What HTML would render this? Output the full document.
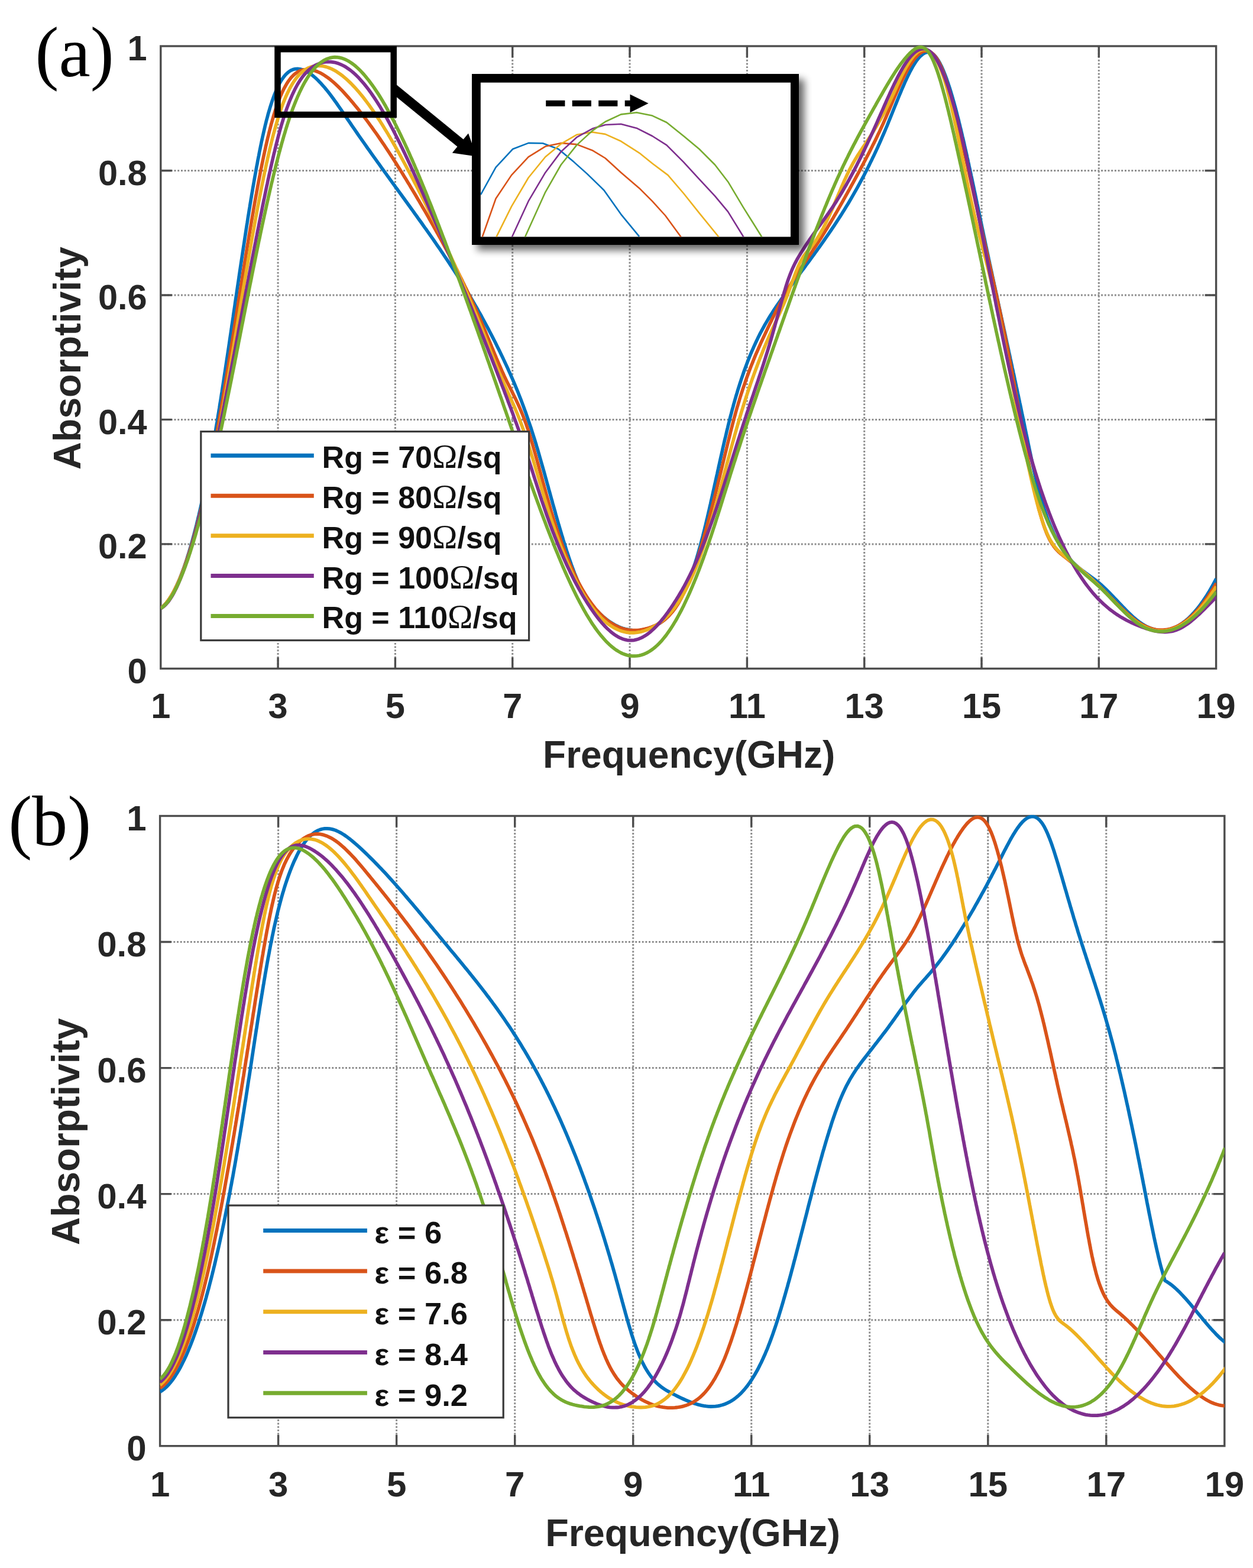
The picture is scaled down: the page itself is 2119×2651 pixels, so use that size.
<!DOCTYPE html>
<html lang="en"><head><meta charset="utf-8"><title>Absorptivity versus frequency</title>
<style>html,body{margin:0;padding:0;background:#fff}body{width:2119px;height:2651px;overflow:hidden}svg{display:block}text{white-space:pre}</style>
</head><body>
<svg xmlns="http://www.w3.org/2000/svg" width="2119" height="2651" viewBox="0 0 2119 2651">
<defs><filter id="sh" x="-10%" y="-10%" width="125%" height="130%"><feGaussianBlur in="SourceAlpha" stdDeviation="6.5"/><feOffset dx="9" dy="9"/><feComponentTransfer><feFuncA type="linear" slope="0.6"/></feComponentTransfer><feMerge><feMergeNode/><feMergeNode in="SourceGraphic"/></feMerge></filter></defs>
<rect width="2119" height="2651" fill="#fff"/>
<g id="panel-a">
<path d="M470.1,78.0V1130.4M668.4,78.0V1130.4M866.7,78.0V1130.4M1065.0,78.0V1130.4M1263.4,78.0V1130.4M1461.7,78.0V1130.4M1660.0,78.0V1130.4M1858.3,78.0V1130.4M271.8,919.9H2056.6M271.8,709.4H2056.6M271.8,499.0H2056.6M271.8,288.5H2056.6" fill="none" stroke="#8c8c8c" stroke-width="3" stroke-dasharray="2.9 2.8"/>
<path d="M470.1,1130.4v-19M470.1,78.0v19M668.4,1130.4v-19M668.4,78.0v19M866.7,1130.4v-19M866.7,78.0v19M1065.0,1130.4v-19M1065.0,78.0v19M1263.4,1130.4v-19M1263.4,78.0v19M1461.7,1130.4v-19M1461.7,78.0v19M1660.0,1130.4v-19M1660.0,78.0v19M1858.3,1130.4v-19M1858.3,78.0v19M271.8,919.9h19M2056.6,919.9h-19M271.8,709.4h19M2056.6,709.4h-19M271.8,499.0h19M2056.6,499.0h-19M271.8,288.5h19M2056.6,288.5h-19" fill="none" stroke="#4d4d4d" stroke-width="3.4"/>
<rect x="271.8" y="78.0" width="1784.8" height="1052.4" fill="none" stroke="#4d4d4d" stroke-width="3.4"/>
<clipPath id="clip-a"><rect x="271.8" y="76.0" width="1784.8" height="1056.4"/></clipPath>
<g clip-path="url(#clip-a)" fill="none" stroke-width="5.7" stroke-linejoin="round" stroke-linecap="butt">
<path d="M271.8,1028.5l3.1,-2.5 2.9,-2.7 2.7,-3 2.6,-3.1 2.3,-3.2 2.2,-3.4 2.2,-3.4 2,-3.4 1.9,-3.5 1.8,-3.6 1.8,-3.6 1.7,-3.6 1.7,-3.7 1.6,-3.6 1.5,-3.7 1.5,-3.8 1.5,-3.7 1.4,-3.7 1.4,-3.8 1.4,-3.8 1.3,-3.7 1.3,-3.8 1.3,-3.8 1.2,-3.8 1.2,-3.9 1.2,-3.8 1.2,-3.8 1.1,-3.9 1.2,-3.8 1.1,-3.8 1.1,-3.9 1.1,-3.9 1,-3.8 1.1,-3.9 1,-3.9 1,-3.8 1,-3.9 1,-3.9 1,-3.9 0.9,-3.9 1,-3.9 0.9,-3.9 1,-3.9 0.9,-3.9 0.9,-3.9 0.9,-3.9 0.9,-3.9 0.8,-3.9 0.9,-3.9 0.9,-3.9 0.8,-3.9 0.9,-3.9 0.8,-4 0.8,-3.9 0.8,-3.9 0.9,-3.9 0.8,-4 0.8,-3.9 0.8,-3.9 0.7,-3.9 0.8,-4 0.8,-3.9 0.7,-3.9 0.8,-4 0.8,-3.9 0.7,-3.9 0.7,-4 0.8,-3.9 0.7,-4 0.7,-3.9 0.7,-3.9 0.8,-4 0.7,-3.9 0.7,-4 0.7,-3.9 0.7,-4 0.6,-3.9 0.7,-4 0.7,-3.9 0.7,-4 0.6,-3.9 0.7,-4 0.7,-3.9 0.6,-4 0.7,-3.9 0.6,-4 0.7,-3.9 0.6,-4 0.7,-3.9 0.6,-4 0.6,-3.9 0.7,-4 0.6,-4 0.6,-3.9 0.6,-4 0.7,-3.9 0.6,-4 0.6,-4 0.6,-3.9 0.6,-4 0.6,-3.9 0.6,-4 0.6,-4 0.6,-3.9 0.6,-4 0.6,-3.9 0.6,-4 0.6,-4 0.6,-3.9 0.6,-4 0.6,-3.9 0.6,-4 0.6,-4 0.6,-3.9 0.6,-4 0.6,-4 0.6,-3.9 0.5,-4 0.6,-4 0.6,-3.9 0.6,-4 0.6,-3.9 0.6,-4 0.5,-4 0.6,-3.9 0.6,-4 0.6,-4 0.6,-3.9 0.5,-4 0.6,-4 0.6,-3.9 0.6,-4 0.6,-4 0.5,-3.9 0.6,-4 0.6,-3.9 0.6,-4 0.6,-4 0.5,-3.9 0.6,-4 0.6,-4 0.6,-3.9 0.6,-4 0.6,-4 0.6,-3.9 0.5,-4 0.6,-4 0.6,-3.9 0.6,-4 0.6,-3.9 0.6,-4 0.6,-4 0.6,-3.9 0.6,-4 0.6,-4 0.6,-3.9 0.6,-4 0.6,-3.9 0.6,-4 0.6,-4 0.6,-3.9 0.6,-4 0.6,-3.9 0.6,-4 0.6,-4 0.6,-3.9 0.6,-4 0.7,-3.9 0.6,-4 0.6,-4 0.6,-3.9 0.7,-4 0.6,-3.9 0.6,-4 0.7,-3.9 0.6,-4 0.7,-3.9 0.6,-4 0.7,-4 0.6,-3.9 0.7,-4 0.7,-3.9 0.6,-4 0.7,-3.9 0.7,-4 0.7,-3.9 0.7,-3.9 0.7,-4 0.7,-3.9 0.7,-4 0.7,-3.9 0.7,-4 0.8,-3.9 0.7,-3.9 0.7,-4 0.8,-3.9 0.8,-3.9 0.7,-4 0.8,-3.9 0.8,-3.9 0.8,-4 0.8,-3.9 0.8,-3.9 0.9,-3.9 0.8,-3.9 0.9,-4 0.9,-3.9 0.9,-3.9 0.9,-3.9 0.9,-3.9 1,-3.9 0.9,-3.8 1.1,-3.9 1,-3.9 1,-3.9 1.1,-3.8 1.2,-3.9 1.1,-3.8 1.2,-3.8 1.3,-3.8 1.2,-3.8 1.4,-3.8 1.4,-3.8 1.4,-3.7 1.6,-3.7 1.6,-3.7 1.6,-3.6 1.8,-3.6 1.9,-3.5 2,-3.5 2.2,-3.3 2.4,-3.3 2.5,-3.1 2.8,-2.8 3.1,-2.6 3.4,-2.2 3.6,-1.6 3.9,-1 4,-0.2 4,0.4 3.9,1 3.7,1.4 3.6,1.7 3.5,2 3.3,2.2 3.2,2.4 3.1,2.6 3,2.6 2.9,2.8 2.8,2.9 2.8,2.9 2.6,3 2.7,3 2.5,3.1 2.6,3.1 2.4,3.1 2.5,3.2 2.4,3.2 2.4,3.2 2.3,3.3 2.4,3.2 2.3,3.3 2.3,3.3 2.3,3.3 2.3,3.2 2.2,3.4 2.3,3.3 2.2,3.3 2.3,3.3 2.2,3.3 2.3,3.3 2.3,3.3 2.2,3.3 2.3,3.3 2.3,3.3 2.2,3.3 2.3,3.3 2.3,3.3 2.3,3.3 2.3,3.3 2.3,3.3 2.3,3.2 2.3,3.3 2.3,3.3 2.3,3.3 2.4,3.2 2.3,3.3 2.3,3.3 2.3,3.2 2.4,3.3 2.3,3.2 2.3,3.3 2.4,3.2 2.3,3.3 2.3,3.2 2.4,3.3 2.3,3.2 2.4,3.3 2.3,3.2 2.4,3.3 2.3,3.2 2.4,3.3 2.3,3.2 2.4,3.3 2.3,3.2 2.4,3.2 2.3,3.3 2.4,3.2 2.4,3.3 2.3,3.2 2.4,3.3 2.3,3.2 2.4,3.3 2.3,3.2 2.4,3.3 2.3,3.2 2.3,3.2 2.4,3.3 2.3,3.3 2.4,3.2 2.3,3.3 2.3,3.2 2.4,3.3 2.3,3.2 2.3,3.3 2.3,3.3 2.4,3.2 2.3,3.3 2.3,3.3 2.3,3.3 2.3,3.2 2.3,3.3 2.3,3.3 2.3,3.3 2.2,3.3 2.3,3.3 2.3,3.3 2.2,3.3 2.3,3.3 2.2,3.4 2.2,3.3 2.3,3.3 2.2,3.3 2.2,3.4 2.2,3.3 2.2,3.4 2.2,3.4 2.2,3.3 2.1,3.4 2.2,3.4 2.1,3.3 2.2,3.4 2.1,3.4 2.1,3.4 2.1,3.4 2.1,3.5 2.1,3.4 2.1,3.4 2,3.4 2.1,3.5 2,3.4 2.1,3.5 2,3.4 2,3.5 2,3.5 2,3.4 2,3.5 1.9,3.5 2,3.5 2,3.5 1.9,3.5 1.9,3.5 1.9,3.6 1.9,3.5 1.9,3.5 1.9,3.6 1.9,3.5 1.8,3.5 1.9,3.6 1.8,3.6 1.8,3.5 1.9,3.6 1.8,3.6 1.8,3.6 1.7,3.5 1.8,3.6 1.8,3.6 1.7,3.6 1.8,3.7 1.7,3.6 1.7,3.6 1.7,3.6 1.7,3.6 1.7,3.7 1.7,3.6 1.6,3.7 1.7,3.6 1.6,3.7 1.6,3.7 1.6,3.6 1.6,3.7 1.6,3.7 1.5,3.7 1.5,3.7 1.6,3.7 1.5,3.7 1.4,3.7 1.5,3.8 1.5,3.7 1.4,3.7 1.4,3.8 1.4,3.7 1.4,3.8 1.4,3.8 1.4,3.7 1.3,3.8 1.3,3.8 1.3,3.8 1.3,3.8 1.3,3.8 1.3,3.8 1.3,3.8 1.2,3.8 1.2,3.8 1.2,3.8 1.2,3.8 1.2,3.8 1.2,3.9 1.2,3.8 1.1,3.9 1.2,3.8 1.1,3.8 1.1,3.9 1.1,3.8 1.1,3.9 1.1,3.8 1.1,3.9 1.1,3.8 1.1,3.9 1.1,3.9 1.1,3.8 1.1,3.9 1,3.8 1.1,3.9 1.1,3.9 1,3.8 1.1,3.9 1.1,3.8 1,3.9 1.1,3.9 1.1,3.8 1,3.9 1.1,3.9 1.1,3.8 1,3.9 1.1,3.8 1.1,3.9 1.1,3.9 1.1,3.8 1,3.9 1.1,3.8 1.1,3.9 1.1,3.8 1.1,3.9 1.2,3.8 1.1,3.9 1.1,3.8 1.2,3.9 1.1,3.8 1.2,3.8 1.1,3.9 1.2,3.8 1.2,3.8 1.2,3.8 1.2,3.9 1.2,3.8 1.3,3.8 1.2,3.8 1.3,3.8 1.3,3.8 1.3,3.8 1.3,3.8 1.4,3.7 1.4,3.8 1.4,3.7 1.4,3.8 1.5,3.7 1.5,3.7 1.5,3.7 1.6,3.7 1.7,3.6 1.7,3.7 1.8,3.6 1.8,3.5 1.9,3.5 2,3.5 2.1,3.4 2.2,3.4 2.3,3.3 2.4,3.2 2.4,3.2 2.6,3.1 2.6,3 2.7,2.9 2.8,2.9 2.8,2.9 2.9,2.7 3,2.7 3.1,2.6 3.1,2.5 3.2,2.4 3.3,2.2 3.4,2.2 3.4,2 3.6,1.9 3.6,1.7 3.7,1.5 3.8,1.3 3.9,1.1 3.9,0.9 3.9,0.7 4,0.5 4,0.2 4,0 4,-0.3 4,-0.5 3.9,-0.7 3.9,-0.9 3.9,-1.1 3.7,-1.3 3.8,-1.5 3.6,-1.7 3.6,-1.8 3.4,-2.1 3.3,-2.2 3.2,-2.4 3.1,-2.6 2.9,-2.7 2.9,-2.9 2.6,-2.9 2.6,-3.1 2.5,-3.2 2.4,-3.2 2.2,-3.3 2.2,-3.4 2.1,-3.4 2,-3.4 2,-3.5 1.8,-3.6 1.9,-3.6 1.7,-3.6 1.7,-3.6 1.6,-3.6 1.6,-3.7 1.6,-3.7 1.5,-3.7 1.5,-3.7 1.4,-3.8 1.4,-3.7 1.4,-3.8 1.3,-3.8 1.3,-3.8 1.2,-3.8 1.3,-3.8 1.2,-3.8 1.2,-3.8 1.2,-3.9 1.1,-3.8 1.1,-3.9 1.1,-3.8 1.1,-3.9 1.1,-3.8 1,-3.9 1,-3.9 1.1,-3.9 1,-3.8 0.9,-3.9 1,-3.9 1,-3.9 0.9,-3.9 1,-3.9 0.9,-3.9 0.9,-3.9 1,-3.9 0.9,-3.9 0.9,-3.9 0.9,-3.9 0.9,-3.9 0.9,-3.9 0.9,-3.9 0.8,-3.9 0.9,-3.9 0.9,-3.9 0.9,-3.9 0.8,-3.9 0.9,-4 0.9,-3.9 0.8,-3.9 0.9,-3.9 0.9,-3.9 0.8,-3.9 0.9,-3.9 0.9,-3.9 0.8,-4 0.9,-3.9 0.8,-3.9 0.9,-3.9 0.9,-3.9 0.8,-3.9 0.9,-3.9 0.9,-3.9 0.9,-3.9 0.9,-4 0.8,-3.9 0.9,-3.9 0.9,-3.9 0.9,-3.9 0.9,-3.9 1,-3.9 0.9,-3.9 0.9,-3.9 0.9,-3.9 1,-3.9 0.9,-3.9 1,-3.9 1,-3.8 0.9,-3.9 1,-3.9 1.1,-3.9 1,-3.9 1,-3.8 1.1,-3.9 1,-3.9 1.1,-3.8 1.1,-3.9 1.1,-3.8 1.1,-3.9 1.2,-3.8 1.1,-3.8 1.2,-3.9 1.2,-3.8 1.2,-3.8 1.3,-3.8 1.2,-3.8 1.3,-3.8 1.3,-3.8 1.3,-3.8 1.3,-3.8 1.4,-3.8 1.4,-3.7 1.4,-3.8 1.4,-3.7 1.5,-3.7 1.5,-3.8 1.5,-3.7 1.5,-3.7 1.6,-3.7 1.6,-3.6 1.6,-3.7 1.7,-3.6 1.7,-3.7 1.7,-3.6 1.7,-3.6 1.8,-3.6 1.8,-3.6 1.9,-3.5 1.9,-3.5 1.9,-3.6 1.9,-3.5 2,-3.4 2.1,-3.5 2,-3.4 2.1,-3.5 2.1,-3.4 2.2,-3.3 2.1,-3.4 2.2,-3.3 2.3,-3.4 2.2,-3.3 2.3,-3.3 2.3,-3.3 2.3,-3.3 2.3,-3.2 2.3,-3.3 2.3,-3.3 2.4,-3.2 2.3,-3.3 2.4,-3.2 2.3,-3.3 2.4,-3.2 2.3,-3.2 2.4,-3.3 2.4,-3.2 2.4,-3.2 2.3,-3.2 2.4,-3.3 2.4,-3.2 2.4,-3.2 2.3,-3.2 2.4,-3.3 2.4,-3.2 2.4,-3.2 2.3,-3.3 2.4,-3.2 2.4,-3.2 2.3,-3.3 2.4,-3.2 2.3,-3.3 2.4,-3.2 2.3,-3.3 2.3,-3.2 2.3,-3.3 2.3,-3.3 2.3,-3.3 2.3,-3.3 2.3,-3.3 2.2,-3.3 2.3,-3.3 2.2,-3.3 2.3,-3.3 2.2,-3.4 2.2,-3.3 2.2,-3.4 2.1,-3.3 2.2,-3.4 2.2,-3.4 2.1,-3.4 2.1,-3.4 2.1,-3.4 2.1,-3.4 2.1,-3.4 2.1,-3.5 2,-3.4 2,-3.5 2,-3.4 2,-3.5 2,-3.5 2,-3.5 2,-3.5 1.9,-3.5 1.9,-3.5 1.9,-3.5 1.9,-3.5 1.9,-3.6 1.9,-3.5 1.8,-3.6 1.9,-3.5 1.8,-3.6 1.8,-3.6 1.8,-3.6 1.7,-3.6 1.8,-3.6 1.7,-3.6 1.8,-3.6 1.7,-3.6 1.7,-3.6 1.7,-3.7 1.7,-3.6 1.6,-3.7 1.7,-3.6 1.6,-3.7 1.6,-3.6 1.6,-3.7 1.6,-3.7 1.6,-3.7 1.6,-3.7 1.5,-3.6 1.6,-3.7 1.5,-3.7 1.5,-3.8 1.5,-3.7 1.5,-3.7 1.5,-3.7 1.5,-3.7 1.5,-3.7 1.5,-3.8 1.5,-3.7 1.5,-3.7 1.5,-3.7 1.5,-3.7 1.5,-3.7 1.5,-3.7 1.6,-3.7 1.5,-3.7 1.6,-3.7 1.6,-3.7 1.6,-3.7 1.6,-3.6 1.7,-3.7 1.7,-3.6 1.7,-3.6 1.8,-3.6 1.8,-3.6 1.9,-3.5 1.9,-3.5 2.1,-3.5 2.1,-3.4 2.2,-3.3 2.4,-3.2 2.6,-3.1 2.8,-2.8 3.1,-2.6 3.4,-2.1 3.8,-1.2 4,0.1 3.8,1.3 3.3,2.2 2.8,2.8 2.5,3.2 2.3,3.3 2,3.4 1.9,3.5 1.8,3.6 1.7,3.7 1.6,3.6 1.5,3.7 1.5,3.8 1.4,3.7 1.4,3.8 1.3,3.8 1.3,3.8 1.2,3.8 1.3,3.8 1.2,3.8 1.1,3.8 1.2,3.9 1.1,3.8 1.1,3.9 1.1,3.8 1.1,3.9 1,3.9 1.1,3.8 1,3.9 1,3.9 1,3.9 1,3.8 1,3.9 0.9,3.9 1,3.9 0.9,3.9 1,3.9 0.9,3.9 0.9,3.9 0.9,3.9 1,3.9 0.9,3.9 0.9,3.9 0.8,3.9 0.9,3.9 0.9,3.9 0.9,3.9 0.9,3.9 0.8,4 0.9,3.9 0.8,3.9 0.9,3.9 0.8,3.9 0.9,3.9 0.8,3.9 0.9,4 0.8,3.9 0.9,3.9 0.8,3.9 0.8,3.9 0.9,4 0.8,3.9 0.8,3.9 0.8,3.9 0.9,3.9 0.8,4 0.8,3.9 0.8,3.9 0.8,3.9 0.9,3.9 0.8,4 0.8,3.9 0.8,3.9 0.8,3.9 0.9,4 0.8,3.9 0.8,3.9 0.8,3.9 0.8,3.9 0.9,4 0.8,3.9 0.8,3.9 0.8,3.9 0.9,4 0.8,3.9 0.8,3.9 0.8,3.9 0.9,3.9 0.8,4 0.8,3.9 0.9,3.9 0.8,3.9 0.8,3.9 0.9,3.9 0.8,4 0.9,3.9 0.8,3.9 0.9,3.9 0.8,3.9 0.8,3.9 0.9,4 0.8,3.9 0.9,3.9 0.8,3.9 0.9,3.9 0.8,3.9 0.9,4 0.8,3.9 0.9,3.9 0.8,3.9 0.9,3.9 0.8,3.9 0.9,4 0.8,3.9 0.9,3.9 0.8,3.9 0.9,3.9 0.8,3.9 0.9,3.9 0.8,4 0.9,3.9 0.9,3.9 0.8,3.9 0.9,3.9 0.8,3.9 0.9,3.9 0.8,4 0.9,3.9 0.8,3.9 0.9,3.9 0.8,3.9 0.9,3.9 0.8,4 0.9,3.9 0.8,3.9 0.8,3.9 0.9,3.9 0.8,3.9 0.9,4 0.8,3.9 0.9,3.9 0.8,3.9 0.9,3.9 0.8,3.9 0.8,4 0.9,3.9 0.8,3.9 0.8,3.9 0.9,3.9 0.8,4 0.8,3.9 0.9,3.9 0.8,3.9 0.8,3.9 0.8,4 0.9,3.9 0.8,3.9 0.8,3.9 0.8,3.9 0.8,4 0.9,3.9 0.8,3.9 0.8,3.9 0.8,4 0.8,3.9 0.8,3.9 0.8,3.9 0.8,4 0.8,3.9 0.9,3.9 0.8,3.9 0.8,4 0.8,3.9 0.8,3.9 0.8,3.9 0.8,3.9 0.9,4 0.8,3.9 0.8,3.9 0.9,3.9 0.8,3.9 0.9,3.9 0.9,4 0.8,3.9 0.9,3.9 0.9,3.9 0.9,3.9 0.9,3.9 0.9,3.9 1,3.9 1,3.9 0.9,3.9 1,3.8 1.1,3.9 1,3.9 1.1,3.8 1.1,3.9 1.1,3.8 1.2,3.9 1.2,3.8 1.2,3.8 1.3,3.8 1.3,3.8 1.3,3.8 1.3,3.7 1.4,3.8 1.5,3.7 1.5,3.8 1.5,3.7 1.6,3.7 1.6,3.6 1.6,3.7 1.7,3.6 1.8,3.6 1.8,3.5 1.9,3.6 2,3.5 2,3.4 2.1,3.4 2.2,3.4 2.3,3.3 2.4,3.2 2.4,3.2 2.5,3.1 2.7,3 2.7,3 2.8,2.9 2.9,2.7 2.9,2.7 3.1,2.6 3.1,2.5 3.2,2.5 3.2,2.4 3.2,2.4 3.3,2.3 3.2,2.3 3.3,2.4 3.2,2.3 3.2,2.5 3.1,2.4 3.1,2.6 3.1,2.6 2.9,2.7 2.9,2.8 2.9,2.7 2.9,2.9 2.8,2.8 2.8,2.9 2.7,2.9 2.8,2.9 2.8,2.9 2.7,2.9 2.8,2.9 2.7,2.9 2.8,2.9 2.8,2.9 2.8,2.9 2.8,2.8 2.9,2.8 2.9,2.7 2.9,2.8 3,2.6 3.1,2.6 3.2,2.5 3.2,2.4 3.3,2.2 3.4,2.1 3.5,2 3.6,1.7 3.7,1.5 3.8,1.3 3.9,1 3.9,0.8 4,0.4 4,0.1 4,-0.2 4,-0.5 3.9,-0.9 3.8,-1.1 3.8,-1.4 3.6,-1.6 3.6,-1.9 3.5,-2 3.3,-2.2 3.2,-2.4 3.2,-2.4 3,-2.7 3,-2.7 2.8,-2.8 2.8,-2.9 2.7,-2.9 2.6,-3.1 2.6,-3.1 2.5,-3.1 2.4,-3.2 2.3,-3.2 2.4,-3.3 2.2,-3.3 2.2,-3.3 2.2,-3.4 2.1,-3.4 2.1,-3.4 2,-3.5 2,-3.5 2,-3.5 1.9,-3.5 1.9,-3.5 1.9,-3.5" stroke="#0072BD"/>
<path d="M271.8,1028.6l3.1,-2.6 2.9,-2.8 2.7,-2.9 2.5,-3.2 2.3,-3.2 2.3,-3.3 2.1,-3.4 2,-3.5 2,-3.5 1.8,-3.5 1.8,-3.6 1.8,-3.6 1.7,-3.6 1.6,-3.7 1.6,-3.7 1.5,-3.7 1.5,-3.7 1.4,-3.7 1.5,-3.8 1.4,-3.7 1.3,-3.8 1.3,-3.8 1.3,-3.8 1.3,-3.8 1.3,-3.8 1.2,-3.8 1.2,-3.8 1.2,-3.8 1.2,-3.9 1.1,-3.8 1.2,-3.8 1.1,-3.9 1.1,-3.8 1.1,-3.9 1,-3.9 1.1,-3.8 1,-3.9 1.1,-3.9 1,-3.8 1,-3.9 1,-3.9 1,-3.9 0.9,-3.9 1,-3.9 0.9,-3.8 1,-3.9 0.9,-3.9 0.9,-3.9 0.9,-3.9 0.9,-3.9 0.9,-3.9 0.9,-4 0.9,-3.9 0.9,-3.9 0.8,-3.9 0.9,-3.9 0.8,-3.9 0.9,-3.9 0.8,-4 0.8,-3.9 0.8,-3.9 0.8,-3.9 0.8,-3.9 0.8,-4 0.8,-3.9 0.8,-3.9 0.8,-3.9 0.8,-4 0.8,-3.9 0.7,-3.9 0.8,-4 0.7,-3.9 0.8,-3.9 0.7,-4 0.8,-3.9 0.7,-4 0.7,-3.9 0.8,-3.9 0.7,-4 0.7,-3.9 0.7,-4 0.7,-3.9 0.7,-3.9 0.7,-4 0.7,-3.9 0.7,-4 0.7,-3.9 0.7,-4 0.7,-3.9 0.7,-4 0.6,-3.9 0.7,-4 0.7,-3.9 0.6,-4 0.7,-3.9 0.7,-4 0.6,-3.9 0.7,-4 0.6,-3.9 0.7,-4 0.6,-3.9 0.7,-4 0.6,-3.9 0.7,-4 0.6,-3.9 0.7,-4 0.6,-4 0.7,-3.9 0.6,-4 0.6,-3.9 0.7,-4 0.6,-3.9 0.6,-4 0.7,-3.9 0.6,-4 0.6,-3.9 0.7,-4 0.6,-4 0.6,-3.9 0.6,-4 0.7,-3.9 0.6,-4 0.6,-3.9 0.6,-4 0.7,-4 0.6,-3.9 0.6,-4 0.6,-3.9 0.7,-4 0.6,-3.9 0.6,-4 0.6,-4 0.7,-3.9 0.6,-4 0.6,-3.9 0.6,-4 0.7,-3.9 0.6,-4 0.6,-4 0.6,-3.9 0.7,-4 0.6,-3.9 0.6,-4 0.7,-3.9 0.6,-4 0.6,-4 0.6,-3.9 0.7,-4 0.6,-3.9 0.6,-4 0.7,-3.9 0.6,-4 0.7,-3.9 0.6,-4 0.6,-4 0.7,-3.9 0.6,-4 0.7,-3.9 0.6,-4 0.7,-3.9 0.6,-4 0.7,-3.9 0.6,-4 0.7,-3.9 0.7,-4 0.6,-3.9 0.7,-4 0.7,-3.9 0.6,-4 0.7,-3.9 0.7,-4 0.7,-3.9 0.7,-4 0.6,-3.9 0.7,-4 0.7,-3.9 0.7,-4 0.7,-3.9 0.7,-3.9 0.7,-4 0.8,-3.9 0.7,-4 0.7,-3.9 0.7,-3.9 0.8,-4 0.7,-3.9 0.8,-4 0.7,-3.9 0.8,-3.9 0.7,-4 0.8,-3.9 0.8,-3.9 0.8,-3.9 0.8,-4 0.8,-3.9 0.8,-3.9 0.8,-3.9 0.9,-3.9 0.8,-4 0.9,-3.9 0.8,-3.9 0.9,-3.9 0.9,-3.9 0.9,-3.9 0.9,-3.9 1,-3.9 0.9,-3.9 1,-3.9 1,-3.9 1,-3.8 1,-3.9 1.1,-3.9 1.1,-3.8 1.1,-3.9 1.1,-3.8 1.2,-3.8 1.2,-3.9 1.3,-3.8 1.3,-3.8 1.3,-3.7 1.4,-3.8 1.4,-3.7 1.5,-3.7 1.6,-3.7 1.6,-3.7 1.7,-3.6 1.8,-3.6 1.9,-3.5 2,-3.5 2.1,-3.4 2.3,-3.3 2.4,-3.2 2.6,-3 2.9,-2.9 3,-2.5 3.3,-2.3 3.6,-1.9 3.7,-1.4 3.9,-0.9 4,-0.3 4,0 4,0.5 3.9,0.9 3.8,1.1 3.8,1.5 3.6,1.6 3.5,1.9 3.5,2.1 3.3,2.2 3.3,2.3 3.2,2.4 3.1,2.6 3,2.6 3,2.7 2.9,2.7 2.9,2.8 2.8,2.8 2.8,2.9 2.7,2.9 2.7,3 2.7,3 2.7,3 2.6,3 2.6,3.1 2.6,3 2.5,3.1 2.6,3.1 2.5,3.1 2.5,3.2 2.4,3.1 2.5,3.2 2.5,3.1 2.4,3.2 2.4,3.2 2.4,3.2 2.4,3.3 2.3,3.2 2.4,3.2 2.3,3.3 2.3,3.2 2.4,3.3 2.3,3.3 2.2,3.3 2.3,3.3 2.3,3.3 2.2,3.3 2.3,3.3 2.2,3.4 2.2,3.3 2.2,3.3 2.2,3.4 2.2,3.3 2.2,3.4 2.2,3.4 2.1,3.3 2.2,3.4 2.1,3.4 2.1,3.4 2.2,3.4 2.1,3.4 2.1,3.4 2.1,3.4 2.1,3.4 2.1,3.4 2.1,3.4 2.1,3.5 2.1,3.4 2,3.4 2.1,3.5 2.1,3.4 2,3.4 2.1,3.5 2,3.4 2,3.5 2.1,3.4 2,3.5 2,3.4 2,3.5 2.1,3.5 2,3.4 2,3.5 2,3.5 2,3.4 1.9,3.5 2,3.5 2,3.5 2,3.5 1.9,3.5 2,3.5 1.9,3.5 2,3.5 1.9,3.5 2,3.5 1.9,3.5 1.9,3.5 1.9,3.5 1.9,3.6 1.9,3.5 1.9,3.5 1.8,3.6 1.9,3.5 1.9,3.6 1.8,3.5 1.9,3.6 1.8,3.5 1.8,3.6 1.8,3.6 1.9,3.5 1.8,3.6 1.7,3.6 1.8,3.6 1.8,3.6 1.8,3.6 1.7,3.6 1.8,3.6 1.7,3.6 1.8,3.6 1.7,3.6 1.7,3.6 1.7,3.7 1.7,3.6 1.7,3.6 1.7,3.7 1.6,3.6 1.7,3.6 1.7,3.7 1.6,3.6 1.6,3.7 1.7,3.7 1.6,3.6 1.6,3.7 1.6,3.7 1.6,3.6 1.6,3.7 1.6,3.7 1.5,3.7 1.6,3.7 1.5,3.7 1.6,3.7 1.5,3.7 1.6,3.7 1.5,3.7 1.5,3.7 1.5,3.7 1.6,3.7 1.5,3.7 1.5,3.7 1.6,3.7 1.5,3.7 1.6,3.7 1.6,3.6 1.6,3.7 1.6,3.7 1.6,3.7 1.6,3.6 1.7,3.7 1.6,3.6 1.7,3.6 1.8,3.7 1.7,3.6 1.8,3.5 1.8,3.6 1.8,3.6 1.8,3.6 1.8,3.6 1.8,3.6 1.7,3.5 1.8,3.6 1.7,3.7 1.7,3.6 1.7,3.6 1.6,3.7 1.6,3.7 1.6,3.7 1.5,3.7 1.5,3.7 1.4,3.7 1.4,3.8 1.4,3.7 1.3,3.8 1.3,3.8 1.3,3.8 1.2,3.8 1.2,3.8 1.2,3.9 1.2,3.8 1.1,3.8 1.2,3.9 1.1,3.8 1.1,3.9 1.1,3.8 1.1,3.9 1.1,3.8 1.1,3.9 1.1,3.8 1,3.9 1.1,3.9 1.1,3.8 1,3.9 1.1,3.9 1,3.8 1.1,3.9 1,3.9 1.1,3.8 1,3.9 1.1,3.8 1,3.9 1.1,3.9 1,3.8 1.1,3.9 1.1,3.9 1.1,3.8 1.1,3.9 1.1,3.8 1.1,3.9 1.1,3.8 1.1,3.9 1.1,3.8 1.2,3.8 1.2,3.9 1.2,3.8 1.1,3.8 1.3,3.8 1.2,3.9 1.2,3.8 1.3,3.8 1.2,3.8 1.3,3.8 1.3,3.8 1.4,3.7 1.3,3.8 1.3,3.8 1.4,3.7 1.4,3.8 1.4,3.7 1.5,3.8 1.4,3.7 1.5,3.7 1.5,3.7 1.6,3.8 1.5,3.6 1.6,3.7 1.6,3.7 1.6,3.6 1.7,3.7 1.7,3.6 1.7,3.6 1.8,3.6 1.8,3.6 1.8,3.6 1.9,3.5 1.9,3.5 2,3.5 2,3.5 2.1,3.4 2,3.4 2.2,3.4 2.2,3.4 2.3,3.3 2.3,3.2 2.4,3.3 2.4,3.1 2.5,3.2 2.6,3 2.7,3 2.7,2.9 2.8,2.9 2.9,2.7 3,2.7 3.1,2.6 3.2,2.4 3.3,2.3 3.3,2.1 3.5,2 3.6,1.8 3.7,1.7 3.7,1.4 3.8,1.2 3.9,0.9 3.9,0.8 4,0.5 4,0.2 4,0.1 4,-0.2 4,-0.5 4,-0.6 3.9,-0.8 3.9,-1 3.8,-1.2 3.8,-1.3 3.7,-1.4 3.7,-1.6 3.6,-1.8 3.4,-2 3.4,-2.2 3.2,-2.4 3.1,-2.5 3,-2.7 2.8,-2.8 2.7,-3 2.6,-3 2.5,-3.2 2.4,-3.2 2.2,-3.3 2.2,-3.4 2.1,-3.4 1.9,-3.5 2,-3.5 1.8,-3.6 1.8,-3.6 1.8,-3.6 1.7,-3.6 1.6,-3.6 1.6,-3.7 1.6,-3.7 1.5,-3.7 1.5,-3.7 1.5,-3.8 1.4,-3.7 1.4,-3.7 1.4,-3.8 1.3,-3.8 1.4,-3.8 1.3,-3.7 1.3,-3.8 1.2,-3.8 1.3,-3.8 1.2,-3.9 1.2,-3.8 1.2,-3.8 1.2,-3.8 1.1,-3.9 1.2,-3.8 1.1,-3.9 1.1,-3.8 1.1,-3.9 1.1,-3.8 1.1,-3.9 1.1,-3.8 1,-3.9 1.1,-3.9 1,-3.8 1.1,-3.9 1,-3.9 1,-3.8 1,-3.9 1,-3.9 1,-3.9 1,-3.8 1,-3.9 1,-3.9 1,-3.9 1,-3.9 1,-3.9 0.9,-3.8 1,-3.9 1,-3.9 0.9,-3.9 1,-3.9 0.9,-3.9 1,-3.9 1,-3.9 0.9,-3.9 1,-3.9 0.9,-3.8 1,-3.9 0.9,-3.9 0.9,-3.9 1,-3.9 0.9,-3.9 1,-3.9 0.9,-3.9 1,-3.9 0.9,-3.9 1,-3.9 0.9,-3.9 1,-3.9 0.9,-3.8 1,-3.9 1,-3.9 0.9,-3.9 1,-3.9 1,-3.9 1,-3.9 1,-3.8 1,-3.9 1.1,-3.9 1,-3.8 1.1,-3.9 1,-3.9 1.1,-3.8 1.1,-3.9 1.2,-3.8 1.1,-3.9 1.2,-3.8 1.1,-3.8 1.2,-3.8 1.2,-3.9 1.3,-3.8 1.2,-3.8 1.3,-3.8 1.3,-3.8 1.3,-3.8 1.3,-3.8 1.3,-3.7 1.4,-3.8 1.4,-3.8 1.4,-3.7 1.4,-3.8 1.4,-3.7 1.5,-3.7 1.5,-3.7 1.5,-3.8 1.5,-3.7 1.5,-3.7 1.6,-3.7 1.6,-3.6 1.6,-3.7 1.6,-3.7 1.6,-3.6 1.6,-3.7 1.7,-3.6 1.7,-3.7 1.7,-3.6 1.7,-3.6 1.7,-3.7 1.7,-3.6 1.7,-3.6 1.7,-3.6 1.7,-3.6 1.8,-3.6 1.7,-3.7 1.8,-3.6 1.8,-3.5 1.7,-3.6 1.8,-3.6 1.8,-3.6 1.8,-3.6 1.9,-3.5 1.8,-3.6 1.9,-3.5 1.9,-3.6 1.9,-3.5 1.9,-3.5 2,-3.5 2,-3.5 2,-3.4 2,-3.5 2.1,-3.4 2,-3.5 2.1,-3.4 2.2,-3.4 2.1,-3.3 2.2,-3.4 2.2,-3.4 2.2,-3.3 2.2,-3.4 2.2,-3.3 2.2,-3.3 2.3,-3.3 2.2,-3.4 2.3,-3.3 2.2,-3.3 2.3,-3.3 2.2,-3.3 2.2,-3.4 2.2,-3.3 2.2,-3.3 2.2,-3.4 2.2,-3.4 2.2,-3.3 2.1,-3.4 2.2,-3.4 2.1,-3.4 2.1,-3.4 2.1,-3.4 2.1,-3.4 2.1,-3.5 2,-3.4 2.1,-3.4 2,-3.5 2.1,-3.4 2,-3.5 2,-3.4 2,-3.5 2,-3.5 2,-3.4 2,-3.5 2,-3.5 2,-3.5 1.9,-3.5 2,-3.5 1.9,-3.5 2,-3.5 1.9,-3.5 2,-3.5 1.9,-3.5 1.9,-3.5 2,-3.5 1.9,-3.5 1.9,-3.5 1.9,-3.6 1.9,-3.5 1.9,-3.5 1.9,-3.5 1.9,-3.6 1.9,-3.5 1.9,-3.5 1.8,-3.6 1.9,-3.5 1.9,-3.6 1.8,-3.5 1.9,-3.6 1.8,-3.5 1.8,-3.6 1.8,-3.6 1.8,-3.6 1.8,-3.5 1.8,-3.6 1.8,-3.6 1.7,-3.6 1.7,-3.7 1.8,-3.6 1.7,-3.6 1.6,-3.6 1.7,-3.7 1.7,-3.6 1.6,-3.7 1.6,-3.6 1.7,-3.7 1.5,-3.7 1.6,-3.7 1.6,-3.6 1.6,-3.7 1.5,-3.7 1.6,-3.7 1.6,-3.7 1.5,-3.7 1.6,-3.7 1.6,-3.7 1.6,-3.6 1.6,-3.7 1.6,-3.7 1.6,-3.6 1.7,-3.7 1.7,-3.6 1.7,-3.6 1.7,-3.6 1.8,-3.6 1.8,-3.6 1.9,-3.6 1.9,-3.5 1.9,-3.5 2.1,-3.4 2.1,-3.4 2.2,-3.3 2.3,-3.3 2.5,-3.2 2.6,-3 2.9,-2.8 3.1,-2.5 3.4,-2.1 3.8,-1.4 4,-0.3 3.8,0.9 3.6,1.8 3.1,2.5 2.7,3 2.5,3.1 2.2,3.4 2,3.5 1.8,3.5 1.7,3.6 1.6,3.7 1.6,3.7 1.4,3.7 1.4,3.8 1.3,3.8 1.3,3.8 1.3,3.8 1.2,3.8 1.2,3.8 1.1,3.9 1.1,3.8 1.1,3.9 1.1,3.8 1.1,3.9 1,3.8 1.1,3.9 1,3.9 1,3.9 1,3.8 1,3.9 0.9,3.9 1,3.9 0.9,3.9 1,3.9 0.9,3.9 0.9,3.9 1,3.9 0.9,3.9 0.9,3.9 0.9,3.9 0.9,3.9 0.9,3.9 0.9,3.9 0.8,3.9 0.9,3.9 0.9,3.9 0.9,3.9 0.8,4 0.9,3.9 0.9,3.9 0.9,3.9 0.8,3.9 0.9,3.9 0.9,3.9 0.8,3.9 0.9,3.9 0.9,3.9 0.8,4 0.9,3.9 0.9,3.9 0.8,3.9 0.9,3.9 0.9,3.9 0.9,3.9 0.8,3.9 0.9,3.9 0.9,3.9 0.9,4 0.8,3.9 0.9,3.9 0.9,3.9 0.9,3.9 0.8,3.9 0.9,3.9 0.9,3.9 0.9,3.9 0.8,3.9 0.9,3.9 0.9,4 0.9,3.9 0.9,3.9 0.8,3.9 0.9,3.9 0.9,3.9 0.9,3.9 0.9,3.9 0.8,3.9 0.9,3.9 0.9,3.9 0.9,3.9 0.9,3.9 0.9,4 0.9,3.9 0.8,3.9 0.9,3.9 0.9,3.9 0.9,3.9 0.9,3.9 0.9,3.9 0.8,3.9 0.9,3.9 0.9,3.9 0.9,3.9 0.9,3.9 0.8,4 0.9,3.9 0.9,3.9 0.8,3.9 0.9,3.9 0.9,3.9 0.8,3.9 0.9,3.9 0.8,4 0.9,3.9 0.8,3.9 0.9,3.9 0.8,3.9 0.8,3.9 0.9,4 0.8,3.9 0.8,3.9 0.8,3.9 0.8,3.9 0.8,4 0.8,3.9 0.8,3.9 0.8,3.9 0.8,4 0.8,3.9 0.8,3.9 0.8,4 0.8,3.9 0.7,3.9 0.8,4 0.7,3.9 0.8,3.9 0.7,4 0.8,3.9 0.7,3.9 0.8,4 0.7,3.9 0.7,3.9 0.8,4 0.7,3.9 0.7,4 0.7,3.9 0.8,3.9 0.7,4 0.7,3.9 0.7,4 0.7,3.9 0.7,4 0.7,3.9 0.7,3.9 0.7,4 0.8,3.9 0.7,4 0.7,3.9 0.7,4 0.7,3.9 0.7,3.9 0.7,4 0.7,3.9 0.7,4 0.8,3.9 0.7,4 0.7,3.9 0.7,3.9 0.7,4 0.7,3.9 0.8,4 0.7,3.9 0.7,3.9 0.8,4 0.7,3.9 0.7,3.9 0.8,4 0.7,3.9 0.8,3.9 0.8,4 0.7,3.9 0.8,3.9 0.8,4 0.8,3.9 0.7,3.9 0.8,4 0.8,3.9 0.9,3.9 0.8,3.9 0.8,3.9 0.9,4 0.8,3.9 0.9,3.9 0.8,3.9 0.9,3.9 0.9,3.9 1,3.9 0.9,3.9 1,3.9 0.9,3.9 1,3.9 1,3.8 1.1,3.9 1.1,3.9 1.1,3.8 1.1,3.9 1.2,3.8 1.2,3.8 1.2,3.8 1.3,3.8 1.4,3.7 1.5,3.8 1.5,3.7 1.7,3.6 1.7,3.6 1.9,3.6 2,3.4 2.2,3.4 2.3,3.3 2.5,3.1 2.7,3 2.8,2.8 3,2.7 3.1,2.5 3.1,2.5 3.2,2.5 3.1,2.5 3.1,2.5 3.2,2.5 3.1,2.5 3.1,2.5 3.1,2.5 3.2,2.5 3.1,2.6 3,2.5 3.1,2.6 3.1,2.6 3,2.6 3,2.6 3.1,2.7 2.9,2.6 3,2.7 2.9,2.8 2.9,2.7 2.9,2.8 2.9,2.8 2.8,2.8 2.9,2.8 2.8,2.9 2.8,2.8 2.8,2.9 2.9,2.8 2.8,2.9 2.8,2.8 2.8,2.8 2.9,2.9 2.8,2.8 2.9,2.7 3,2.8 2.9,2.7 3,2.7 3,2.6 3.1,2.6 3.1,2.5 3.2,2.4 3.2,2.3 3.3,2.3 3.4,2.1 3.5,2 3.6,1.8 3.6,1.7 3.8,1.4 3.8,1.3 3.9,1 3.9,0.7 4,0.5 4,0.2 4,-0.1 4,-0.4 3.9,-0.6 3.9,-0.9 3.9,-1.2 3.7,-1.4 3.7,-1.6 3.6,-1.8 3.4,-2 3.4,-2.1 3.3,-2.3 3.2,-2.4 3.1,-2.5 3,-2.7 3,-2.7 2.8,-2.8 2.8,-2.9 2.7,-2.9 2.7,-3 2.6,-3.1 2.5,-3.1 2.5,-3.2 2.4,-3.2 2.3,-3.2 2.3,-3.3 2.3,-3.3 2.2,-3.3 2.2,-3.4 2.1,-3.4 2.1,-3.4 2,-3.4 2.1,-3.5" stroke="#D95319"/>
<path d="M271.8,1028.6l3.1,-2.6 2.9,-2.7 2.7,-3 2.5,-3.1 2.3,-3.3 2.3,-3.3 2.1,-3.4 2.1,-3.4 1.9,-3.5 1.9,-3.5 1.8,-3.6 1.8,-3.6 1.7,-3.6 1.6,-3.7 1.6,-3.7 1.6,-3.7 1.5,-3.7 1.5,-3.7 1.4,-3.7 1.4,-3.8 1.4,-3.7 1.4,-3.8 1.3,-3.8 1.3,-3.8 1.3,-3.8 1.2,-3.8 1.3,-3.8 1.2,-3.8 1.2,-3.8 1.2,-3.8 1.1,-3.9 1.2,-3.8 1.1,-3.9 1.1,-3.8 1.1,-3.9 1.1,-3.8 1.1,-3.9 1,-3.8 1.1,-3.9 1,-3.9 1,-3.8 1.1,-3.9 1,-3.9 0.9,-3.9 1,-3.9 1,-3.8 1,-3.9 0.9,-3.9 1,-3.9 0.9,-3.9 0.9,-3.9 0.9,-3.9 0.9,-3.9 0.9,-3.9 0.9,-3.9 0.9,-3.9 0.9,-3.9 0.9,-3.9 0.8,-3.9 0.9,-4 0.9,-3.9 0.8,-3.9 0.9,-3.9 0.8,-3.9 0.8,-3.9 0.8,-4 0.9,-3.9 0.8,-3.9 0.8,-3.9 0.8,-3.9 0.8,-4 0.8,-3.9 0.8,-3.9 0.7,-4 0.8,-3.9 0.8,-3.9 0.8,-3.9 0.7,-4 0.8,-3.9 0.7,-3.9 0.8,-4 0.7,-3.9 0.8,-3.9 0.7,-4 0.7,-3.9 0.8,-4 0.7,-3.9 0.7,-3.9 0.7,-4 0.8,-3.9 0.7,-4 0.7,-3.9 0.7,-3.9 0.7,-4 0.7,-3.9 0.7,-4 0.7,-3.9 0.7,-4 0.7,-3.9 0.7,-3.9 0.7,-4 0.7,-3.9 0.7,-4 0.7,-3.9 0.6,-4 0.7,-3.9 0.7,-4 0.7,-3.9 0.7,-4 0.6,-3.9 0.7,-4 0.7,-3.9 0.7,-4 0.6,-3.9 0.7,-4 0.7,-3.9 0.6,-4 0.7,-3.9 0.7,-4 0.6,-3.9 0.7,-4 0.7,-3.9 0.6,-4 0.7,-3.9 0.7,-4 0.6,-3.9 0.7,-4 0.7,-3.9 0.6,-4 0.7,-3.9 0.7,-4 0.6,-3.9 0.7,-4 0.7,-3.9 0.6,-3.9 0.7,-4 0.7,-3.9 0.6,-4 0.7,-3.9 0.7,-4 0.6,-3.9 0.7,-4 0.7,-3.9 0.6,-4 0.7,-3.9 0.7,-4 0.7,-3.9 0.6,-4 0.7,-3.9 0.7,-4 0.7,-3.9 0.6,-4 0.7,-3.9 0.7,-4 0.7,-3.9 0.7,-4 0.7,-3.9 0.7,-4 0.6,-3.9 0.7,-3.9 0.7,-4 0.7,-3.9 0.7,-4 0.7,-3.9 0.7,-4 0.8,-3.9 0.7,-3.9 0.7,-4 0.7,-3.9 0.7,-4 0.7,-3.9 0.8,-3.9 0.7,-4 0.7,-3.9 0.8,-4 0.7,-3.9 0.8,-3.9 0.7,-4 0.8,-3.9 0.7,-3.9 0.8,-4 0.8,-3.9 0.7,-3.9 0.8,-4 0.8,-3.9 0.8,-3.9 0.8,-3.9 0.8,-4 0.8,-3.9 0.8,-3.9 0.8,-3.9 0.9,-3.9 0.8,-4 0.8,-3.9 0.9,-3.9 0.9,-3.9 0.8,-3.9 0.9,-3.9 0.9,-3.9 0.9,-3.9 0.9,-3.9 1,-3.9 0.9,-3.9 1,-3.9 0.9,-3.9 1,-3.9 1,-3.8 1.1,-3.9 1,-3.9 1.1,-3.8 1.1,-3.9 1.1,-3.8 1.1,-3.9 1.2,-3.8 1.2,-3.8 1.2,-3.8 1.3,-3.8 1.3,-3.8 1.3,-3.8 1.4,-3.8 1.4,-3.7 1.5,-3.7 1.5,-3.7 1.6,-3.7 1.7,-3.7 1.7,-3.6 1.8,-3.6 1.8,-3.5 2,-3.5 2,-3.4 2.2,-3.4 2.3,-3.3 2.4,-3.2 2.6,-3.1 2.7,-2.9 2.9,-2.7 3.1,-2.6 3.3,-2.3 3.5,-2 3.6,-1.6 3.8,-1.3 3.9,-0.9 4,-0.5 4,-0.2 4,0.3 4,0.5 3.9,0.9 3.8,1.2 3.7,1.4 3.7,1.7 3.5,1.9 3.5,2 3.3,2.2 3.3,2.3 3.2,2.4 3.1,2.6 3,2.6 3,2.7 2.9,2.7 2.9,2.8 2.7,2.9 2.8,2.9 2.7,3 2.6,3 2.7,3 2.5,3.1 2.6,3.1 2.5,3.1 2.4,3.2 2.4,3.2 2.4,3.2 2.4,3.2 2.3,3.3 2.3,3.2 2.3,3.3 2.3,3.3 2.2,3.3 2.2,3.4 2.2,3.3 2.2,3.4 2.2,3.4 2.1,3.4 2.1,3.4 2.1,3.4 2.1,3.4 2.1,3.4 2,3.5 2.1,3.4 2,3.5 2,3.4 2,3.5 2,3.5 2,3.4 1.9,3.5 2,3.5 2,3.5 1.9,3.5 1.9,3.6 1.9,3.5 1.9,3.5 1.9,3.5 1.9,3.5 1.9,3.6 1.9,3.5 1.9,3.6 1.8,3.5 1.9,3.6 1.8,3.5 1.9,3.6 1.8,3.5 1.9,3.6 1.8,3.5 1.8,3.6 1.8,3.6 1.9,3.5 1.8,3.6 1.8,3.6 1.8,3.6 1.8,3.5 1.8,3.6 1.8,3.6 1.8,3.6 1.8,3.6 1.7,3.6 1.8,3.5 1.8,3.6 1.7,3.6 1.8,3.6 1.8,3.6 1.7,3.6 1.8,3.6 1.7,3.6 1.7,3.7 1.8,3.6 1.7,3.6 1.7,3.6 1.7,3.6 1.7,3.6 1.8,3.7 1.7,3.6 1.6,3.6 1.7,3.7 1.7,3.6 1.7,3.6 1.7,3.7 1.6,3.6 1.7,3.6 1.7,3.7 1.6,3.6 1.6,3.7 1.7,3.7 1.6,3.6 1.6,3.7 1.7,3.6 1.6,3.7 1.6,3.7 1.6,3.6 1.6,3.7 1.6,3.7 1.6,3.7 1.6,3.6 1.5,3.7 1.6,3.7 1.6,3.7 1.5,3.7 1.6,3.7 1.5,3.7 1.6,3.7 1.5,3.7 1.5,3.7 1.6,3.7 1.5,3.7 1.5,3.7 1.5,3.7 1.5,3.7 1.5,3.7 1.5,3.7 1.5,3.8 1.4,3.7 1.5,3.7 1.5,3.7 1.4,3.8 1.5,3.7 1.5,3.7 1.4,3.8 1.5,3.7 1.4,3.7 1.5,3.8 1.5,3.7 1.4,3.7 1.5,3.7 1.5,3.8 1.5,3.7 1.4,3.7 1.5,3.7 1.6,3.7 1.5,3.7 1.5,3.7 1.6,3.7 1.6,3.7 1.6,3.7 1.6,3.6 1.6,3.7 1.7,3.6 1.6,3.7 1.7,3.6 1.6,3.7 1.7,3.6 1.7,3.7 1.6,3.6 1.6,3.7 1.7,3.6 1.6,3.7 1.6,3.7 1.5,3.7 1.6,3.7 1.5,3.7 1.5,3.7 1.4,3.7 1.5,3.8 1.4,3.7 1.4,3.8 1.3,3.7 1.4,3.8 1.3,3.8 1.3,3.8 1.3,3.8 1.2,3.8 1.3,3.8 1.2,3.8 1.3,3.8 1.2,3.8 1.2,3.8 1.2,3.8 1.2,3.9 1.2,3.8 1.2,3.8 1.1,3.9 1.2,3.8 1.1,3.8 1.2,3.9 1.1,3.8 1.2,3.8 1.1,3.9 1.2,3.8 1.1,3.9 1.1,3.8 1.2,3.8 1.1,3.9 1.1,3.8 1.2,3.9 1.1,3.8 1.2,3.8 1.1,3.9 1.2,3.8 1.1,3.8 1.2,3.9 1.2,3.8 1.2,3.8 1.2,3.8 1.3,3.8 1.2,3.9 1.2,3.8 1.3,3.8 1.3,3.8 1.3,3.7 1.3,3.8 1.3,3.8 1.3,3.8 1.3,3.8 1.4,3.7 1.4,3.8 1.4,3.8 1.4,3.7 1.4,3.8 1.4,3.7 1.5,3.7 1.5,3.7 1.5,3.8 1.5,3.7 1.5,3.7 1.6,3.7 1.6,3.6 1.6,3.7 1.6,3.7 1.6,3.6 1.7,3.7 1.7,3.6 1.8,3.6 1.7,3.6 1.8,3.6 1.8,3.5 1.9,3.6 1.9,3.5 1.9,3.5 2,3.5 2,3.5 2,3.4 2.1,3.4 2.1,3.4 2.2,3.4 2.3,3.3 2.3,3.3 2.3,3.3 2.4,3.2 2.5,3.1 2.5,3.1 2.6,3.1 2.7,2.9 2.7,2.9 2.9,2.9 2.9,2.7 3,2.6 3.1,2.6 3.2,2.3 3.4,2.3 3.4,2.1 3.5,1.9 3.6,1.7 3.7,1.6 3.8,1.2 3.9,1.1 3.9,0.8 4,0.5 4,0.2 4,0 4,-0.3 3.9,-0.6 4,-0.7 3.8,-1.1 3.8,-1.2 3.8,-1.4 3.6,-1.6 3.6,-1.8 3.6,-1.9 3.4,-2 3.4,-2.2 3.2,-2.4 3.2,-2.4 3,-2.6 3,-2.7 2.9,-2.8 2.8,-2.9 2.7,-2.9 2.6,-3.1 2.5,-3.1 2.5,-3.1 2.3,-3.3 2.3,-3.2 2.3,-3.4 2.1,-3.3 2.1,-3.4 2.1,-3.5 2,-3.5 1.9,-3.5 1.9,-3.5 1.8,-3.6 1.8,-3.5 1.8,-3.6 1.7,-3.7 1.7,-3.6 1.6,-3.7 1.6,-3.6 1.6,-3.7 1.5,-3.7 1.5,-3.7 1.5,-3.7 1.4,-3.8 1.5,-3.7 1.4,-3.8 1.3,-3.7 1.4,-3.8 1.3,-3.8 1.3,-3.8 1.3,-3.8 1.2,-3.8 1.3,-3.8 1.2,-3.8 1.2,-3.8 1.2,-3.8 1.2,-3.9 1.2,-3.8 1.1,-3.8 1.1,-3.9 1.2,-3.8 1.1,-3.9 1.1,-3.8 1.1,-3.9 1.1,-3.8 1.1,-3.9 1.1,-3.8 1.1,-3.9 1,-3.8 1.1,-3.9 1.1,-3.9 1,-3.8 1.1,-3.9 1,-3.9 1.1,-3.8 1,-3.9 1.1,-3.9 1,-3.8 1,-3.9 1.1,-3.9 1,-3.8 1,-3.9 1.1,-3.9 1,-3.8 1,-3.9 1.1,-3.9 1,-3.9 1,-3.8 1.1,-3.9 1,-3.9 1.1,-3.8 1,-3.9 1,-3.9 1.1,-3.8 1,-3.9 1.1,-3.9 1,-3.8 1.1,-3.9 1.1,-3.8 1,-3.9 1.1,-3.9 1.1,-3.8 1.1,-3.9 1.1,-3.8 1.1,-3.9 1.1,-3.8 1.1,-3.9 1.2,-3.8 1.1,-3.8 1.2,-3.9 1.1,-3.8 1.2,-3.8 1.2,-3.9 1.2,-3.8 1.2,-3.8 1.2,-3.8 1.2,-3.8 1.3,-3.8 1.2,-3.9 1.3,-3.8 1.3,-3.7 1.3,-3.8 1.3,-3.8 1.3,-3.8 1.3,-3.8 1.4,-3.8 1.3,-3.7 1.4,-3.8 1.4,-3.8 1.4,-3.7 1.4,-3.8 1.4,-3.7 1.4,-3.7 1.5,-3.8 1.4,-3.7 1.5,-3.7 1.5,-3.7 1.5,-3.8 1.5,-3.7 1.6,-3.7 1.5,-3.7 1.6,-3.6 1.6,-3.7 1.5,-3.7 1.6,-3.7 1.7,-3.6 1.6,-3.7 1.6,-3.6 1.7,-3.7 1.7,-3.6 1.7,-3.7 1.6,-3.6 1.7,-3.6 1.7,-3.7 1.7,-3.6 1.7,-3.7 1.6,-3.6 1.6,-3.7 1.6,-3.6 1.6,-3.7 1.6,-3.7 1.5,-3.7 1.5,-3.7 1.4,-3.8 1.5,-3.7 1.3,-3.8 1.4,-3.7 1.4,-3.8 1.4,-3.8 1.3,-3.7 1.4,-3.8 1.4,-3.7 1.4,-3.8 1.4,-3.7 1.5,-3.8 1.5,-3.7 1.6,-3.6 1.7,-3.7 1.8,-3.5 1.9,-3.5 2.1,-3.5 2.3,-3.3 2.4,-3.2 2.5,-3.1 2.6,-3.1 2.6,-3 2.5,-3.1 2.4,-3.2 2.4,-3.2 2.3,-3.3 2.1,-3.4 2.2,-3.4 2,-3.4 2,-3.5 2,-3.5 1.9,-3.5 1.8,-3.6 1.8,-3.6 1.8,-3.5 1.7,-3.7 1.7,-3.6 1.7,-3.6 1.6,-3.7 1.6,-3.6 1.7,-3.7 1.5,-3.7 1.6,-3.7 1.6,-3.7 1.5,-3.7 1.6,-3.6 1.5,-3.7 1.6,-3.7 1.6,-3.7 1.5,-3.7 1.6,-3.7 1.6,-3.7 1.6,-3.6 1.6,-3.7 1.7,-3.6 1.7,-3.7 1.7,-3.6 1.7,-3.6 1.8,-3.6 1.9,-3.5 1.9,-3.6 1.9,-3.5 2,-3.4 2,-3.5 2.1,-3.4 2.1,-3.4 2.2,-3.4 2.2,-3.3 2.2,-3.4 2.2,-3.3 2.2,-3.3 2.3,-3.4 2.2,-3.3 2.2,-3.3 2.2,-3.4 2.2,-3.4 2.1,-3.3 2.1,-3.4 2.1,-3.5 2.1,-3.4 2,-3.4 2,-3.5 2,-3.5 2,-3.5 1.9,-3.5 2,-3.5 1.9,-3.5 1.8,-3.5 1.9,-3.6 1.8,-3.6 1.8,-3.5 1.8,-3.6 1.7,-3.6 1.7,-3.7 1.7,-3.6 1.7,-3.6 1.7,-3.7 1.6,-3.6 1.7,-3.7 1.6,-3.6 1.7,-3.7 1.6,-3.6 1.7,-3.6 1.7,-3.7 1.8,-3.6 1.8,-3.5 1.9,-3.6 1.9,-3.5 1.9,-3.5 2.1,-3.4 2.1,-3.4 2.2,-3.4 2.4,-3.2 2.4,-3.2 2.7,-2.9 2.9,-2.8 3.2,-2.5 3.5,-1.9 3.8,-1.2 4,-0.1 3.8,1.1 3.5,1.9 3,2.6 2.7,3 2.4,3.2 2.2,3.4 2,3.4 1.8,3.6 1.7,3.6 1.6,3.7 1.5,3.7 1.5,3.7 1.3,3.8 1.3,3.8 1.3,3.8 1.2,3.8 1.2,3.9 1.1,3.8 1.1,3.9 1,3.8 1,3.9 1,3.9 1,3.9 1,3.8 0.9,3.9 0.9,3.9 1,3.9 0.9,3.9 0.8,3.9 0.9,3.9 0.9,4 0.9,3.9 0.8,3.9 0.8,3.9 0.9,3.9 0.8,3.9 0.8,4 0.8,3.9 0.9,3.9 0.8,3.9 0.8,3.9 0.8,4 0.8,3.9 0.8,3.9 0.8,3.9 0.8,4 0.8,3.9 0.7,3.9 0.8,3.9 0.8,4 0.8,3.9 0.8,3.9 0.8,4 0.8,3.9 0.8,3.9 0.8,3.9 0.8,4 0.8,3.9 0.8,3.9 0.8,3.9 0.8,3.9 0.8,4 0.9,3.9 0.8,3.9 0.8,3.9 0.9,3.9 0.8,4 0.9,3.9 0.9,3.9 0.9,3.9 0.9,3.9 0.9,3.9 0.9,3.9 0.9,3.9 0.9,3.9 1,3.9 0.9,3.9 1,3.9 0.9,3.8 1,3.9 1,3.9 1,3.9 0.9,3.9 1,3.9 1,3.8 1,3.9 1,3.9 1,3.9 1.1,3.8 1,3.9 1,3.9 1,3.9 1,3.9 1,3.8 1,3.9 1,3.9 1,3.9 0.9,3.9 1,3.8 1,3.9 1,3.9 0.9,3.9 1,3.9 0.9,3.9 0.9,3.9 0.9,3.9 1,3.9 0.9,3.9 0.9,3.9 0.8,3.9 0.9,3.9 0.9,3.9 0.8,3.9 0.9,3.9 0.8,4 0.9,3.9 0.8,3.9 0.8,3.9 0.8,3.9 0.8,4 0.8,3.9 0.8,3.9 0.8,3.9 0.8,4 0.8,3.9 0.8,3.9 0.8,3.9 0.8,4 0.7,3.9 0.8,3.9 0.8,4 0.7,3.9 0.8,3.9 0.8,4 0.7,3.9 0.8,3.9 0.7,4 0.8,3.9 0.7,3.9 0.8,4 0.7,3.9 0.8,3.9 0.7,4 0.8,3.9 0.7,3.9 0.8,4 0.7,3.9 0.8,3.9 0.7,4 0.8,3.9 0.7,3.9 0.7,4 0.8,3.9 0.7,4 0.8,3.9 0.7,3.9 0.8,4 0.7,3.9 0.8,3.9 0.7,4 0.8,3.9 0.7,3.9 0.8,4 0.8,3.9 0.7,3.9 0.8,4 0.8,3.9 0.7,3.9 0.8,3.9 0.8,4 0.8,3.9 0.7,3.9 0.8,4 0.8,3.9 0.8,3.9 0.8,3.9 0.8,4 0.8,3.9 0.9,3.9 0.8,3.9 0.8,3.9 0.8,4 0.9,3.9 0.8,3.9 0.9,3.9 0.8,3.9 0.9,3.9 0.9,3.9 0.9,3.9 0.9,3.9 0.9,3.9 0.9,3.9 0.9,3.9 1,3.9 0.9,3.9 1,3.9 1,3.9 1,3.9 1,3.8 1.1,3.9 1,3.9 1.1,3.8 1.2,3.9 1.1,3.8 1.2,3.8 1.2,3.9 1.2,3.8 1.3,3.7 1.4,3.8 1.4,3.8 1.5,3.7 1.5,3.7 1.7,3.6 1.7,3.6 1.9,3.6 2,3.5 2.1,3.3 2.3,3.3 2.4,3.2 2.6,3 2.8,2.9 2.9,2.8 3,2.6 3.1,2.6 3.1,2.5 3.2,2.5 3.1,2.5 3.1,2.6 3.1,2.5 3.1,2.5 3.1,2.6 3.1,2.5 3,2.6 3.1,2.6 3,2.6 3.1,2.6 3,2.6 3,2.7 2.9,2.7 3,2.7 2.9,2.7 2.9,2.8 2.9,2.7 2.9,2.8 2.8,2.9 2.9,2.8 2.8,2.9 2.8,2.8 2.7,2.9 2.8,2.9 2.8,2.9 2.8,2.9 2.8,2.9 2.7,2.8 2.9,2.9 2.8,2.8 2.8,2.8 2.9,2.8 2.9,2.8 2.9,2.7 3,2.7 3,2.7 3.1,2.5 3.1,2.6 3.2,2.4 3.2,2.3 3.3,2.3 3.4,2.1 3.5,2 3.6,1.7 3.7,1.6 3.7,1.4 3.9,1.2 3.9,0.9 3.9,0.7 4,0.4 4,0.1 4,-0.2 4,-0.4 3.9,-0.8 3.9,-0.9 3.8,-1.2 3.8,-1.5 3.6,-1.6 3.6,-1.8 3.5,-2 3.4,-2.1 3.3,-2.3 3.2,-2.4 3.1,-2.5 3.1,-2.5 3,-2.7 2.9,-2.8 2.8,-2.8 2.8,-2.9 2.7,-3 2.6,-3 2.6,-3.1 2.5,-3.1 2.5,-3.1 2.4,-3.2 2.4,-3.2 2.3,-3.3 2.3,-3.3 2.2,-3.3 2.3,-3.3 2.1,-3.4 2.2,-3.4" stroke="#EDB120"/>
<path d="M271.8,1028.5l3.5,-2 3.1,-2.5 2.8,-2.8 2.7,-3 2.4,-3.2 2.2,-3.3 2.2,-3.4 2,-3.5 1.9,-3.5 1.8,-3.6 1.8,-3.5 1.7,-3.7 1.6,-3.6 1.6,-3.7 1.6,-3.7 1.5,-3.7 1.4,-3.7 1.5,-3.8 1.4,-3.7 1.3,-3.8 1.4,-3.8 1.3,-3.8 1.2,-3.8 1.3,-3.8 1.2,-3.8 1.3,-3.8 1.2,-3.8 1.1,-3.9 1.2,-3.8 1.2,-3.8 1.1,-3.9 1.1,-3.8 1.1,-3.9 1.1,-3.8 1.1,-3.9 1,-3.8 1.1,-3.9 1,-3.9 1.1,-3.8 1,-3.9 1,-3.9 1,-3.9 1,-3.9 1,-3.8 1,-3.9 1,-3.9 0.9,-3.9 1,-3.9 0.9,-3.9 1,-3.9 0.9,-3.9 0.9,-3.9 0.9,-3.9 1,-3.9 0.9,-3.9 0.9,-3.9 0.9,-3.9 0.9,-3.9 0.8,-3.9 0.9,-3.9 0.9,-3.9 0.9,-3.9 0.9,-3.9 0.8,-3.9 0.9,-3.9 0.8,-4 0.9,-3.9 0.8,-3.9 0.9,-3.9 0.8,-3.9 0.9,-3.9 0.8,-4 0.8,-3.9 0.8,-3.9 0.9,-3.9 0.8,-3.9 0.8,-4 0.8,-3.9 0.8,-3.9 0.8,-3.9 0.8,-4 0.8,-3.9 0.8,-3.9 0.8,-3.9 0.8,-4 0.8,-3.9 0.8,-3.9 0.8,-3.9 0.8,-4 0.8,-3.9 0.8,-3.9 0.7,-4 0.8,-3.9 0.8,-3.9 0.8,-3.9 0.7,-4 0.8,-3.9 0.8,-3.9 0.7,-4 0.8,-3.9 0.8,-3.9 0.7,-4 0.8,-3.9 0.8,-3.9 0.7,-4 0.8,-3.9 0.7,-3.9 0.8,-4 0.7,-3.9 0.8,-3.9 0.8,-4 0.7,-3.9 0.8,-3.9 0.7,-4 0.8,-3.9 0.7,-3.9 0.8,-4 0.7,-3.9 0.8,-4 0.7,-3.9 0.8,-3.9 0.7,-4 0.7,-3.9 0.8,-3.9 0.7,-4 0.8,-3.9 0.7,-3.9 0.8,-4 0.7,-3.9 0.8,-4 0.7,-3.9 0.8,-3.9 0.7,-4 0.7,-3.9 0.8,-3.9 0.7,-4 0.8,-3.9 0.7,-3.9 0.8,-4 0.7,-3.9 0.8,-3.9 0.7,-4 0.8,-3.9 0.7,-4 0.8,-3.9 0.7,-3.9 0.8,-4 0.7,-3.9 0.8,-3.9 0.7,-4 0.8,-3.9 0.7,-3.9 0.8,-4 0.7,-3.9 0.8,-3.9 0.8,-4 0.7,-3.9 0.8,-3.9 0.7,-4 0.8,-3.9 0.8,-3.9 0.7,-4 0.8,-3.9 0.8,-3.9 0.7,-4 0.8,-3.9 0.8,-3.9 0.8,-4 0.7,-3.9 0.8,-3.9 0.8,-3.9 0.8,-4 0.8,-3.9 0.8,-3.9 0.8,-4 0.7,-3.9 0.8,-3.9 0.8,-3.9 0.8,-4 0.9,-3.9 0.8,-3.9 0.8,-3.9 0.8,-4 0.8,-3.9 0.8,-3.9 0.9,-3.9 0.8,-3.9 0.8,-3.9 0.9,-4 0.8,-3.9 0.9,-3.9 0.9,-3.9 0.8,-3.9 0.9,-3.9 0.9,-3.9 0.9,-3.9 0.9,-3.9 0.9,-3.9 0.9,-3.9 1,-3.9 0.9,-3.9 0.9,-3.9 1,-3.9 1,-3.9 1,-3.9 1,-3.8 1,-3.9 1.1,-3.9 1,-3.9 1.1,-3.8 1.1,-3.9 1.1,-3.8 1.2,-3.8 1.2,-3.9 1.2,-3.8 1.2,-3.8 1.3,-3.8 1.3,-3.8 1.3,-3.8 1.4,-3.7 1.4,-3.8 1.4,-3.7 1.5,-3.7 1.6,-3.7 1.6,-3.7 1.7,-3.6 1.7,-3.6 1.8,-3.6 1.9,-3.6 1.9,-3.5 2.1,-3.4 2.1,-3.4 2.3,-3.3 2.3,-3.2 2.5,-3.2 2.7,-3 2.7,-2.9 3,-2.7 3,-2.6 3.3,-2.3 3.4,-2.1 3.6,-1.8 3.7,-1.6 3.8,-1.2 3.9,-1 3.9,-0.6 4,-0.2 4,0.1 4,0.5 3.9,0.7 3.9,1.1 3.7,1.4 3.7,1.7 3.6,1.8 3.4,2 3.3,2.3 3.3,2.3 3.1,2.5 3.1,2.6 2.9,2.7 2.9,2.8 2.8,2.8 2.7,3 2.7,3 2.6,3 2.5,3.1 2.5,3.2 2.5,3.1 2.4,3.3 2.3,3.2 2.3,3.3 2.3,3.3 2.2,3.3 2.2,3.4 2.1,3.3 2.2,3.4 2.1,3.4 2.1,3.5 2,3.4 2,3.5 2,3.4 2,3.5 2,3.5 1.9,3.5 1.9,3.5 1.9,3.6 1.9,3.5 1.9,3.5 1.8,3.6 1.9,3.6 1.8,3.5 1.8,3.6 1.8,3.6 1.8,3.6 1.8,3.6 1.7,3.6 1.8,3.6 1.7,3.6 1.8,3.6 1.7,3.6 1.7,3.6 1.7,3.6 1.7,3.7 1.7,3.6 1.7,3.6 1.6,3.7 1.7,3.6 1.7,3.7 1.6,3.6 1.7,3.7 1.6,3.6 1.7,3.7 1.6,3.6 1.6,3.7 1.6,3.7 1.7,3.6 1.6,3.7 1.6,3.6 1.6,3.7 1.6,3.7 1.6,3.7 1.6,3.6 1.6,3.7 1.6,3.7 1.6,3.7 1.6,3.6 1.6,3.7 1.6,3.7 1.6,3.7 1.6,3.6 1.5,3.7 1.6,3.7 1.6,3.7 1.6,3.7 1.6,3.6 1.6,3.7 1.5,3.7 1.6,3.7 1.6,3.7 1.5,3.7 1.6,3.6 1.6,3.7 1.5,3.7 1.6,3.7 1.6,3.7 1.5,3.7 1.6,3.7 1.5,3.7 1.6,3.7 1.5,3.7 1.6,3.6 1.5,3.7 1.6,3.7 1.5,3.7 1.6,3.7 1.5,3.7 1.6,3.7 1.5,3.7 1.5,3.7 1.6,3.7 1.5,3.7 1.5,3.7 1.6,3.7 1.5,3.7 1.5,3.7 1.5,3.8 1.6,3.7 1.5,3.7 1.5,3.7 1.5,3.7 1.5,3.7 1.5,3.7 1.5,3.7 1.5,3.7 1.5,3.7 1.5,3.8 1.5,3.7 1.5,3.7 1.5,3.7 1.5,3.7 1.5,3.7 1.5,3.8 1.5,3.7 1.5,3.7 1.5,3.7 1.4,3.7 1.5,3.8 1.5,3.7 1.5,3.7 1.4,3.7 1.5,3.8 1.5,3.7 1.5,3.7 1.4,3.7 1.5,3.8 1.4,3.7 1.5,3.7 1.5,3.8 1.4,3.7 1.5,3.7 1.4,3.8 1.5,3.7 1.4,3.7 1.4,3.8 1.5,3.7 1.4,3.8 1.5,3.7 1.4,3.7 1.4,3.8 1.4,3.7 1.5,3.8 1.4,3.7 1.4,3.8 1.4,3.7 1.5,3.8 1.4,3.7 1.4,3.8 1.4,3.7 1.4,3.8 1.3,3.7 1.4,3.8 1.4,3.8 1.4,3.7 1.3,3.8 1.4,3.8 1.3,3.7 1.3,3.8 1.4,3.8 1.3,3.8 1.3,3.8 1.3,3.8 1.2,3.8 1.3,3.8 1.3,3.8 1.2,3.8 1.3,3.8 1.2,3.8 1.3,3.8 1.2,3.8 1.2,3.8 1.2,3.8 1.3,3.8 1.2,3.9 1.2,3.8 1.2,3.8 1.2,3.8 1.2,3.8 1.2,3.9 1.3,3.8 1.2,3.8 1.2,3.8 1.2,3.8 1.3,3.8 1.2,3.8 1.2,3.8 1.3,3.9 1.2,3.8 1.3,3.8 1.3,3.8 1.3,3.7 1.3,3.8 1.3,3.8 1.3,3.8 1.3,3.8 1.4,3.8 1.3,3.7 1.4,3.8 1.4,3.8 1.4,3.7 1.4,3.8 1.4,3.7 1.5,3.7 1.4,3.8 1.5,3.7 1.5,3.7 1.4,3.7 1.6,3.8 1.5,3.7 1.5,3.7 1.6,3.6 1.6,3.7 1.6,3.7 1.6,3.7 1.6,3.6 1.7,3.7 1.6,3.6 1.7,3.6 1.8,3.7 1.7,3.6 1.7,3.6 1.8,3.6 1.8,3.5 1.8,3.6 1.9,3.6 1.9,3.5 1.9,3.5 1.9,3.6 1.9,3.5 2,3.4 2,3.5 2,3.5 2.1,3.4 2.1,3.4 2.1,3.4 2.2,3.4 2.2,3.3 2.2,3.4 2.3,3.3 2.3,3.2 2.3,3.3 2.4,3.2 2.4,3.2 2.5,3.1 2.6,3.1 2.6,3.1 2.7,2.9 2.7,3 2.8,2.8 3,2.7 3,2.7 3.1,2.5 3.2,2.4 3.3,2.2 3.4,2.1 3.6,1.8 3.7,1.5 3.8,1.2 4,0.9 3.9,0.4 4,0 4,-0.4 3.9,-0.9 3.8,-1.2 3.7,-1.5 3.6,-1.8 3.5,-2.1 3.3,-2.2 3.2,-2.4 3.1,-2.5 3,-2.7 2.9,-2.7 2.8,-2.9 2.8,-2.9 2.7,-3 2.6,-3 2.5,-3.1 2.6,-3.1 2.4,-3.2 2.4,-3.2 2.4,-3.2 2.3,-3.3 2.3,-3.3 2.2,-3.3 2.3,-3.3 2.1,-3.4 2.2,-3.4 2.1,-3.4 2.1,-3.4 2,-3.4 2.1,-3.5 2,-3.4 1.9,-3.5 2,-3.5 1.9,-3.6 1.8,-3.5 1.9,-3.6 1.8,-3.5 1.8,-3.6 1.7,-3.6 1.8,-3.6 1.7,-3.7 1.7,-3.6 1.6,-3.6 1.7,-3.7 1.6,-3.7 1.6,-3.6 1.6,-3.7 1.5,-3.7 1.5,-3.7 1.6,-3.7 1.5,-3.7 1.4,-3.8 1.5,-3.7 1.5,-3.7 1.4,-3.8 1.4,-3.7 1.4,-3.8 1.4,-3.7 1.4,-3.8 1.4,-3.7 1.3,-3.8 1.4,-3.8 1.3,-3.7 1.4,-3.8 1.3,-3.8 1.3,-3.8 1.3,-3.8 1.3,-3.8 1.3,-3.8 1.2,-3.8 1.3,-3.8 1.2,-3.8 1.3,-3.8 1.2,-3.8 1.3,-3.8 1.2,-3.8 1.3,-3.8 1.2,-3.8 1.2,-3.8 1.2,-3.9 1.2,-3.8 1.3,-3.8 1.2,-3.8 1.2,-3.8 1.2,-3.9 1.2,-3.8 1.2,-3.8 1.2,-3.8 1.2,-3.8 1.2,-3.9 1.2,-3.8 1.2,-3.8 1.2,-3.8 1.2,-3.9 1.2,-3.8 1.2,-3.8 1.2,-3.8 1.2,-3.8 1.2,-3.8 1.3,-3.9 1.2,-3.8 1.2,-3.8 1.2,-3.8 1.3,-3.8 1.2,-3.8 1.2,-3.8 1.3,-3.9 1.2,-3.8 1.3,-3.8 1.2,-3.8 1.3,-3.8 1.3,-3.8 1.3,-3.8 1.2,-3.8 1.3,-3.8 1.3,-3.8 1.3,-3.7 1.3,-3.8 1.3,-3.8 1.2,-3.8 1.3,-3.8 1.3,-3.8 1.3,-3.8 1.3,-3.8 1.3,-3.8 1.2,-3.8 1.3,-3.8 1.3,-3.8 1.2,-3.8 1.3,-3.8 1.2,-3.8 1.3,-3.8 1.2,-3.8 1.2,-3.9 1.2,-3.8 1.2,-3.8 1.2,-3.8 1.2,-3.8 1.2,-3.9 1.1,-3.8 1.2,-3.8 1.1,-3.9 1.2,-3.8 1.1,-3.9 1.1,-3.8 1.1,-3.9 1.1,-3.8 1.1,-3.9 1.1,-3.8 1,-3.9 1.1,-3.9 1.1,-3.8 1,-3.9 1.1,-3.9 1,-3.8 1.1,-3.9 1,-3.9 1.1,-3.8 1,-3.9 1.1,-3.8 1.1,-3.9 1.1,-3.9 1.1,-3.8 1.1,-3.8 1.2,-3.9 1.1,-3.8 1.2,-3.8 1.3,-3.9 1.2,-3.8 1.3,-3.7 1.4,-3.8 1.4,-3.8 1.5,-3.7 1.5,-3.7 1.6,-3.6 1.7,-3.7 1.8,-3.6 1.8,-3.5 1.9,-3.6 2,-3.4 2.1,-3.5 2,-3.4 2.2,-3.4 2.1,-3.4 2.2,-3.4 2.2,-3.3 2.2,-3.3 2.3,-3.4 2.2,-3.3 2.3,-3.2 2.3,-3.3 2.3,-3.3 2.4,-3.3 2.3,-3.2 2.3,-3.3 2.4,-3.2 2.3,-3.3 2.4,-3.2 2.3,-3.3 2.3,-3.2 2.3,-3.3 2.4,-3.3 2.2,-3.3 2.3,-3.3 2.3,-3.3 2.2,-3.3 2.2,-3.4 2.2,-3.3 2.1,-3.4 2.1,-3.4 2.1,-3.4 2.1,-3.4 2.1,-3.5 2,-3.4 2,-3.5 2,-3.5 2,-3.4 1.9,-3.5 2,-3.5 1.9,-3.6 1.9,-3.5 1.9,-3.5 1.9,-3.6 1.8,-3.5 1.9,-3.6 1.8,-3.5 1.8,-3.6 1.8,-3.6 1.8,-3.6 1.8,-3.5 1.8,-3.6 1.7,-3.6 1.8,-3.6 1.7,-3.7 1.7,-3.6 1.7,-3.6 1.7,-3.6 1.7,-3.6 1.7,-3.7 1.7,-3.6 1.7,-3.7 1.6,-3.6 1.7,-3.7 1.6,-3.6 1.7,-3.7 1.6,-3.6 1.6,-3.7 1.6,-3.7 1.6,-3.6 1.6,-3.7 1.7,-3.7 1.6,-3.6 1.6,-3.7 1.6,-3.7 1.6,-3.6 1.6,-3.7 1.7,-3.7 1.6,-3.6 1.7,-3.7 1.6,-3.6 1.7,-3.6 1.7,-3.7 1.7,-3.6 1.7,-3.6 1.8,-3.6 1.8,-3.6 1.8,-3.6 1.9,-3.5 1.9,-3.5 1.9,-3.5 2,-3.5 2,-3.5 2.1,-3.4 2.2,-3.3 2.3,-3.4 2.3,-3.2 2.5,-3.1 2.6,-3.1 2.8,-2.8 3,-2.7 3.3,-2.3 3.5,-1.9 3.8,-1.2 4,-0.3 3.9,0.7 3.7,1.6 3.3,2.3 2.9,2.7 2.7,3 2.4,3.2 2.2,3.4 2,3.4 1.9,3.5 1.8,3.6 1.8,3.6 1.6,3.7 1.6,3.7 1.5,3.7 1.5,3.7 1.4,3.7 1.4,3.8 1.3,3.8 1.3,3.8 1.3,3.8 1.3,3.8 1.2,3.8 1.2,3.8 1.2,3.8 1.1,3.9 1.1,3.8 1.1,3.9 1.1,3.8 1.1,3.9 1.1,3.8 1,3.9 1,3.9 1.1,3.9 1,3.8 1,3.9 0.9,3.9 1,3.9 1,3.9 0.9,3.9 1,3.9 0.9,3.9 0.9,3.9 0.9,3.9 0.9,3.9 0.9,3.9 0.9,3.9 0.9,3.9 0.9,3.9 0.8,3.9 0.9,3.9 0.9,3.9 0.8,3.9 0.9,4 0.8,3.9 0.8,3.9 0.9,3.9 0.8,3.9 0.8,3.9 0.9,4 0.8,3.9 0.8,3.9 0.8,3.9 0.8,4 0.8,3.9 0.8,3.9 0.8,3.9 0.8,4 0.8,3.9 0.8,3.9 0.8,3.9 0.8,4 0.8,3.9 0.8,3.9 0.8,3.9 0.7,4 0.8,3.9 0.8,3.9 0.8,4 0.8,3.9 0.8,3.9 0.7,4 0.8,3.9 0.8,3.9 0.8,3.9 0.7,4 0.8,3.9 0.8,3.9 0.8,4 0.7,3.9 0.8,3.9 0.8,4 0.8,3.9 0.7,3.9 0.8,3.9 0.8,4 0.7,3.9 0.8,3.9 0.8,4 0.8,3.9 0.7,3.9 0.8,4 0.8,3.9 0.8,3.9 0.7,4 0.8,3.9 0.8,3.9 0.8,3.9 0.8,4 0.7,3.9 0.8,3.9 0.8,4 0.8,3.9 0.8,3.9 0.7,3.9 0.8,4 0.8,3.9 0.8,3.9 0.8,4 0.8,3.9 0.8,3.9 0.8,3.9 0.8,4 0.8,3.9 0.8,3.9 0.8,3.9 0.8,4 0.8,3.9 0.8,3.9 0.8,3.9 0.8,4 0.8,3.9 0.8,3.9 0.8,3.9 0.9,4 0.8,3.9 0.8,3.9 0.8,3.9 0.9,3.9 0.8,4 0.8,3.9 0.9,3.9 0.8,3.9 0.9,3.9 0.8,3.9 0.9,3.9 0.8,4 0.9,3.9 0.9,3.9 0.8,3.9 0.9,3.9 0.9,3.9 0.9,3.9 0.9,3.9 0.9,3.9 0.9,3.9 0.9,3.9 0.9,3.9 0.9,3.9 0.9,3.9 0.9,3.9 1,3.9 0.9,3.9 1,3.9 0.9,3.9 1,3.9 0.9,3.9 1,3.9 1,3.9 1,3.8 1,3.9 1,3.9 1,3.9 1.1,3.8 1,3.9 1,3.9 1.1,3.8 1.1,3.9 1,3.9 1.1,3.8 1.1,3.9 1.1,3.8 1.1,3.9 1.2,3.8 1.1,3.9 1.2,3.8 1.1,3.8 1.2,3.9 1.2,3.8 1.2,3.8 1.2,3.8 1.2,3.8 1.2,3.9 1.3,3.8 1.2,3.8 1.3,3.8 1.3,3.8 1.3,3.7 1.3,3.8 1.3,3.8 1.4,3.8 1.3,3.8 1.4,3.7 1.4,3.8 1.4,3.7 1.4,3.8 1.5,3.7 1.4,3.7 1.5,3.8 1.5,3.7 1.5,3.7 1.5,3.7 1.6,3.7 1.6,3.7 1.6,3.6 1.6,3.7 1.6,3.7 1.7,3.6 1.7,3.6 1.7,3.7 1.7,3.6 1.7,3.6 1.8,3.6 1.8,3.5 1.9,3.6 1.8,3.6 1.9,3.5 2,3.5 1.9,3.5 2,3.5 2,3.4 2.1,3.5 2.1,3.4 2.1,3.4 2.2,3.4 2.2,3.3 2.2,3.3 2.3,3.3 2.3,3.3 2.4,3.2 2.4,3.2 2.5,3.2 2.5,3.1 2.5,3.1 2.6,3 2.7,3 2.7,3 2.7,2.9 2.9,2.8 2.8,2.8 2.9,2.8 3,2.6 3.1,2.7 3,2.5 3.2,2.5 3.2,2.4 3.2,2.4 3.3,2.3 3.4,2.2 3.4,2.1 3.4,2 3.5,2 3.5,1.9 3.6,1.8 3.6,1.8 3.6,1.7 3.7,1.6 3.7,1.5 3.7,1.5 3.7,1.4 3.8,1.4 3.8,1.3 3.8,1.2 3.9,1.2 3.8,1 3.9,0.8 4,0.7 4,0.6 3.9,0.3 4.1,0.1 4,-0.2 3.9,-0.4 4,-0.6 3.9,-1 3.8,-1.2 3.7,-1.5 3.6,-1.8 3.5,-1.9 3.4,-2.1 3.4,-2.2 3.2,-2.3 3.2,-2.5 3.1,-2.5 3.1,-2.6 3,-2.6 3,-2.7 2.9,-2.7 2.9,-2.8 2.9,-2.8 2.8,-2.8 2.8,-2.8 2.9,-2.9 2.8,-2.9 2.8,-2.8 2.8,-2.9 2.8,-2.9 2.8,-2.8" stroke="#7E2F8E"/>
<path d="M271.8,1028.6l3.3,-2.3 3,-2.6 2.8,-2.9 2.6,-3 2.4,-3.2 2.3,-3.3 2.1,-3.4 2.1,-3.4 2,-3.5 1.8,-3.6 1.9,-3.5 1.7,-3.6 1.7,-3.6 1.7,-3.7 1.5,-3.7 1.6,-3.7 1.5,-3.7 1.5,-3.7 1.4,-3.7 1.5,-3.8 1.4,-3.7 1.3,-3.8 1.4,-3.8 1.3,-3.7 1.3,-3.8 1.2,-3.8 1.3,-3.8 1.2,-3.8 1.2,-3.9 1.2,-3.8 1.2,-3.8 1.2,-3.8 1.1,-3.9 1.2,-3.8 1.1,-3.8 1.1,-3.9 1.1,-3.8 1.1,-3.9 1.1,-3.8 1,-3.9 1.1,-3.9 1,-3.8 1.1,-3.9 1,-3.9 1,-3.8 1,-3.9 1.1,-3.9 0.9,-3.9 1,-3.8 1,-3.9 1,-3.9 1,-3.9 0.9,-3.9 1,-3.9 0.9,-3.9 1,-3.8 0.9,-3.9 0.9,-3.9 0.9,-3.9 1,-3.9 0.9,-3.9 0.9,-3.9 0.9,-3.9 0.9,-3.9 0.9,-3.9 0.9,-3.9 0.9,-3.9 0.8,-3.9 0.9,-3.9 0.9,-4 0.9,-3.9 0.8,-3.9 0.9,-3.9 0.8,-3.9 0.9,-3.9 0.8,-3.9 0.9,-3.9 0.8,-3.9 0.9,-4 0.8,-3.9 0.8,-3.9 0.9,-3.9 0.8,-3.9 0.8,-3.9 0.8,-4 0.9,-3.9 0.8,-3.9 0.8,-3.9 0.8,-3.9 0.8,-4 0.8,-3.9 0.8,-3.9 0.8,-3.9 0.8,-4 0.8,-3.9 0.8,-3.9 0.8,-3.9 0.8,-3.9 0.8,-4 0.8,-3.9 0.8,-3.9 0.8,-3.9 0.8,-4 0.7,-3.9 0.8,-3.9 0.8,-3.9 0.8,-4 0.8,-3.9 0.8,-3.9 0.7,-4 0.8,-3.9 0.8,-3.9 0.8,-3.9 0.7,-4 0.8,-3.9 0.8,-3.9 0.8,-4 0.7,-3.9 0.8,-3.9 0.8,-3.9 0.8,-4 0.7,-3.9 0.8,-3.9 0.8,-3.9 0.7,-4 0.8,-3.9 0.8,-3.9 0.8,-4 0.7,-3.9 0.8,-3.9 0.8,-3.9 0.8,-4 0.7,-3.9 0.8,-3.9 0.8,-4 0.8,-3.9 0.7,-3.9 0.8,-3.9 0.8,-4 0.8,-3.9 0.7,-3.9 0.8,-4 0.8,-3.9 0.8,-3.9 0.8,-3.9 0.8,-4 0.7,-3.9 0.8,-3.9 0.8,-3.9 0.8,-4 0.8,-3.9 0.8,-3.9 0.8,-3.9 0.8,-4 0.8,-3.9 0.8,-3.9 0.8,-3.9 0.8,-3.9 0.8,-4 0.8,-3.9 0.8,-3.9 0.8,-3.9 0.9,-3.9 0.8,-4 0.8,-3.9 0.8,-3.9 0.9,-3.9 0.8,-3.9 0.8,-3.9 0.9,-4 0.8,-3.9 0.9,-3.9 0.8,-3.9 0.9,-3.9 0.8,-3.9 0.9,-3.9 0.8,-3.9 0.9,-4 0.9,-3.9 0.9,-3.9 0.8,-3.9 0.9,-3.9 0.9,-3.9 0.9,-3.9 0.9,-3.9 0.9,-3.9 0.9,-3.9 1,-3.9 0.9,-3.9 0.9,-3.9 1,-3.9 0.9,-3.8 1,-3.9 0.9,-3.9 1,-3.9 1,-3.9 1,-3.9 1,-3.8 1,-3.9 1,-3.9 1.1,-3.8 1,-3.9 1.1,-3.9 1,-3.8 1.1,-3.9 1.1,-3.8 1.1,-3.9 1.1,-3.8 1.2,-3.9 1.1,-3.8 1.2,-3.8 1.2,-3.8 1.2,-3.9 1.3,-3.8 1.2,-3.8 1.3,-3.8 1.3,-3.7 1.4,-3.8 1.3,-3.8 1.4,-3.7 1.5,-3.8 1.4,-3.7 1.5,-3.7 1.6,-3.7 1.5,-3.7 1.7,-3.6 1.6,-3.7 1.8,-3.6 1.7,-3.6 1.8,-3.5 1.9,-3.6 2,-3.5 2,-3.4 2.1,-3.4 2.2,-3.4 2.3,-3.3 2.4,-3.2 2.4,-3.1 2.6,-3.1 2.8,-2.9 2.9,-2.8 3,-2.6 3.2,-2.4 3.3,-2.2 3.5,-1.9 3.7,-1.6 3.8,-1.2 4,-0.8 3.9,-0.4 4,0.1 4,0.6 3.9,0.9 3.8,1.3 3.7,1.6 3.5,1.8 3.4,2.1 3.3,2.3 3.2,2.4 3.1,2.5 3,2.7 2.9,2.8 2.8,2.8 2.7,2.9 2.7,3 2.6,3.1 2.5,3.1 2.5,3.1 2.4,3.2 2.4,3.2 2.4,3.3 2.2,3.2 2.3,3.4 2.2,3.3 2.2,3.3 2.2,3.4 2.1,3.4 2.1,3.4 2,3.5 2,3.4 2.1,3.5 1.9,3.5 2,3.5 1.9,3.5 1.9,3.5 1.9,3.5 1.9,3.5 1.9,3.6 1.8,3.6 1.8,3.5 1.8,3.6 1.8,3.6 1.8,3.6 1.7,3.6 1.8,3.6 1.7,3.6 1.7,3.6 1.7,3.6 1.7,3.6 1.7,3.7 1.7,3.6 1.6,3.7 1.7,3.6 1.6,3.7 1.6,3.6 1.7,3.7 1.6,3.7 1.6,3.6 1.6,3.7 1.5,3.7 1.6,3.7 1.6,3.6 1.5,3.7 1.6,3.7 1.5,3.7 1.6,3.7 1.5,3.7 1.5,3.7 1.5,3.7 1.5,3.7 1.6,3.7 1.5,3.7 1.5,3.8 1.4,3.7 1.5,3.7 1.5,3.7 1.5,3.7 1.5,3.8 1.4,3.7 1.5,3.7 1.4,3.7 1.5,3.8 1.4,3.7 1.5,3.7 1.4,3.8 1.5,3.7 1.4,3.7 1.4,3.8 1.5,3.7 1.4,3.8 1.4,3.7 1.4,3.7 1.5,3.8 1.4,3.7 1.4,3.8 1.4,3.7 1.4,3.8 1.4,3.7 1.4,3.8 1.4,3.7 1.4,3.8 1.4,3.7 1.4,3.8 1.4,3.7 1.4,3.8 1.4,3.7 1.4,3.8 1.3,3.8 1.4,3.7 1.4,3.8 1.4,3.7 1.4,3.8 1.3,3.8 1.4,3.7 1.4,3.8 1.3,3.7 1.4,3.8 1.4,3.8 1.3,3.7 1.4,3.8 1.3,3.8 1.4,3.7 1.3,3.8 1.4,3.8 1.4,3.7 1.3,3.8 1.4,3.8 1.3,3.8 1.3,3.7 1.4,3.8 1.3,3.8 1.4,3.7 1.3,3.8 1.4,3.8 1.3,3.8 1.3,3.7 1.4,3.8 1.3,3.8 1.3,3.8 1.4,3.7 1.3,3.8 1.3,3.8 1.4,3.8 1.3,3.7 1.3,3.8 1.3,3.8 1.4,3.8 1.3,3.7 1.3,3.8 1.3,3.8 1.4,3.8 1.3,3.8 1.3,3.7 1.3,3.8 1.3,3.8 1.4,3.8 1.3,3.8 1.3,3.7 1.3,3.8 1.3,3.8 1.3,3.8 1.3,3.8 1.4,3.8 1.3,3.7 1.3,3.8 1.3,3.8 1.3,3.8 1.3,3.8 1.3,3.7 1.4,3.8 1.3,3.8 1.3,3.8 1.3,3.8 1.3,3.8 1.3,3.7 1.3,3.8 1.3,3.8 1.3,3.8 1.4,3.8 1.3,3.8 1.3,3.7 1.3,3.8 1.3,3.8 1.3,3.8 1.3,3.8 1.3,3.7 1.4,3.8 1.3,3.8 1.3,3.8 1.3,3.8 1.3,3.7 1.4,3.8 1.3,3.8 1.3,3.8 1.3,3.8 1.4,3.7 1.3,3.8 1.3,3.8 1.4,3.8 1.3,3.7 1.4,3.8 1.3,3.8 1.4,3.7 1.3,3.8 1.4,3.8 1.3,3.7 1.4,3.8 1.4,3.8 1.3,3.7 1.4,3.8 1.4,3.8 1.4,3.7 1.3,3.8 1.4,3.7 1.4,3.8 1.4,3.7 1.4,3.8 1.4,3.7 1.5,3.8 1.4,3.7 1.4,3.8 1.4,3.7 1.5,3.7 1.4,3.8 1.5,3.7 1.4,3.7 1.5,3.7 1.5,3.8 1.5,3.7 1.4,3.7 1.5,3.7 1.5,3.7 1.6,3.7 1.5,3.7 1.5,3.7 1.6,3.7 1.5,3.7 1.6,3.7 1.5,3.7 1.6,3.7 1.6,3.6 1.6,3.7 1.7,3.7 1.6,3.6 1.7,3.7 1.6,3.6 1.7,3.6 1.7,3.7 1.7,3.6 1.7,3.6 1.8,3.6 1.7,3.6 1.8,3.6 1.8,3.6 1.9,3.5 1.8,3.6 1.9,3.5 1.9,3.5 1.9,3.5 1.9,3.5 2,3.5 2,3.5 2.1,3.4 2.1,3.4 2.1,3.4 2.1,3.4 2.2,3.4 2.3,3.3 2.3,3.3 2.3,3.2 2.4,3.2 2.5,3.2 2.5,3.1 2.6,3 2.6,3 2.7,3 2.8,2.8 2.9,2.8 3,2.7 3.1,2.6 3.1,2.4 3.3,2.3 3.4,2.1 3.5,2 3.6,1.7 3.8,1.4 3.8,1.2 3.9,0.9 4,0.5 4,0.1 4,-0.2 3.9,-0.5 3.9,-1 3.8,-1.2 3.7,-1.6 3.6,-1.8 3.4,-2 3.3,-2.3 3.2,-2.4 3.1,-2.5 3,-2.7 2.8,-2.8 2.8,-2.9 2.7,-3 2.5,-3.1 2.5,-3.1 2.5,-3.2 2.3,-3.2 2.3,-3.3 2.2,-3.3 2.2,-3.4 2.2,-3.4 2,-3.4 2.1,-3.4 2,-3.5 1.9,-3.5 1.9,-3.5 1.9,-3.6 1.9,-3.5 1.8,-3.6 1.8,-3.6 1.7,-3.6 1.7,-3.6 1.7,-3.6 1.7,-3.6 1.7,-3.7 1.6,-3.6 1.6,-3.7 1.6,-3.7 1.6,-3.7 1.5,-3.7 1.6,-3.7 1.5,-3.7 1.5,-3.7 1.5,-3.7 1.4,-3.7 1.5,-3.7 1.4,-3.8 1.4,-3.7 1.4,-3.8 1.4,-3.7 1.4,-3.8 1.4,-3.7 1.3,-3.8 1.4,-3.8 1.3,-3.8 1.3,-3.7 1.4,-3.8 1.3,-3.8 1.3,-3.8 1.2,-3.8 1.3,-3.8 1.3,-3.8 1.2,-3.8 1.3,-3.8 1.2,-3.8 1.3,-3.8 1.2,-3.8 1.2,-3.8 1.2,-3.8 1.2,-3.9 1.3,-3.8 1.2,-3.8 1.2,-3.8 1.2,-3.8 1.2,-3.8 1.2,-3.9 1.2,-3.8 1.1,-3.8 1.2,-3.8 1.2,-3.9 1.2,-3.8 1.2,-3.8 1.2,-3.8 1.2,-3.9 1.2,-3.8 1.2,-3.8 1.1,-3.8 1.2,-3.8 1.2,-3.9 1.2,-3.8 1.2,-3.8 1.2,-3.8 1.2,-3.8 1.2,-3.9 1.3,-3.8 1.2,-3.8 1.2,-3.8 1.2,-3.8 1.2,-3.8 1.3,-3.8 1.2,-3.8 1.3,-3.8 1.2,-3.9 1.2,-3.8 1.3,-3.8 1.2,-3.8 1.3,-3.8 1.3,-3.8 1.2,-3.8 1.3,-3.8 1.3,-3.8 1.3,-3.7 1.2,-3.8 1.3,-3.8 1.3,-3.8 1.3,-3.8 1.3,-3.8 1.3,-3.8 1.3,-3.8 1.3,-3.8 1.3,-3.8 1.3,-3.7 1.3,-3.8 1.3,-3.8 1.3,-3.8 1.3,-3.8 1.3,-3.8 1.3,-3.7 1.4,-3.8 1.3,-3.8 1.3,-3.8 1.3,-3.8 1.4,-3.7 1.3,-3.8 1.3,-3.8 1.3,-3.8 1.4,-3.7 1.3,-3.8 1.3,-3.8 1.4,-3.8 1.3,-3.7 1.3,-3.8 1.3,-3.8 1.4,-3.8 1.3,-3.7 1.3,-3.8 1.4,-3.8 1.3,-3.8 1.3,-3.7 1.4,-3.8 1.3,-3.8 1.3,-3.8 1.4,-3.8 1.3,-3.7 1.3,-3.8 1.4,-3.8 1.3,-3.8 1.3,-3.7 1.4,-3.8 1.3,-3.8 1.3,-3.8 1.4,-3.7 1.3,-3.8 1.4,-3.8 1.3,-3.7 1.3,-3.8 1.4,-3.8 1.3,-3.8 1.4,-3.7 1.3,-3.8 1.4,-3.8 1.3,-3.7 1.4,-3.8 1.3,-3.8 1.4,-3.7 1.3,-3.8 1.4,-3.8 1.4,-3.7 1.3,-3.8 1.4,-3.8 1.4,-3.7 1.4,-3.8 1.4,-3.7 1.3,-3.8 1.4,-3.7 1.4,-3.8 1.4,-3.8 1.4,-3.7 1.4,-3.8 1.4,-3.7 1.4,-3.7 1.4,-3.8 1.5,-3.7 1.4,-3.8 1.4,-3.7 1.5,-3.8 1.4,-3.7 1.4,-3.7 1.5,-3.8 1.4,-3.7 1.5,-3.7 1.5,-3.7 1.5,-3.8 1.4,-3.7 1.5,-3.7 1.5,-3.7 1.5,-3.7 1.5,-3.7 1.5,-3.7 1.6,-3.7 1.5,-3.7 1.5,-3.7 1.6,-3.7 1.5,-3.7 1.6,-3.7 1.6,-3.7 1.6,-3.7 1.6,-3.6 1.6,-3.7 1.6,-3.7 1.6,-3.6 1.6,-3.7 1.7,-3.6 1.7,-3.7 1.6,-3.6 1.7,-3.6 1.7,-3.6 1.7,-3.7 1.8,-3.6 1.7,-3.6 1.8,-3.6 1.8,-3.6 1.7,-3.6 1.8,-3.5 1.8,-3.6 1.9,-3.6 1.8,-3.5 1.8,-3.6 1.9,-3.5 1.9,-3.6 1.8,-3.5 1.9,-3.5 1.9,-3.6 1.9,-3.5 1.9,-3.5 2,-3.5 1.9,-3.5 1.9,-3.5 2,-3.5 1.9,-3.5 2,-3.5 1.9,-3.5 2,-3.5 2,-3.5 1.9,-3.5 2,-3.5 2,-3.4 1.9,-3.5 2,-3.5 2,-3.5 2,-3.5 2,-3.4 1.9,-3.5 2,-3.5 2.1,-3.5 2,-3.4 2,-3.5 2.1,-3.4 2,-3.4 2.1,-3.4 2.2,-3.4 2.1,-3.4 2.2,-3.4 2.2,-3.3 2.2,-3.3 2.3,-3.3 2.3,-3.3 2.4,-3.2 2.5,-3.2 2.5,-3.1 2.6,-3 2.6,-3 2.8,-2.9 2.9,-2.8 3,-2.6 3.2,-2.4 3.5,-1.9 3.8,-1.3 4,-0.2 3.8,1.2 3.4,2.1 2.9,2.8 2.5,3.1 2.1,3.4 2,3.5 1.8,3.5 1.7,3.7 1.5,3.7 1.5,3.7 1.4,3.7 1.4,3.8 1.3,3.8 1.3,3.8 1.2,3.8 1.2,3.8 1.2,3.8 1.1,3.9 1.1,3.8 1.1,3.9 1.1,3.8 1,3.9 1.1,3.8 1,3.9 1,3.9 1,3.9 1,3.8 0.9,3.9 1,3.9 1,3.9 0.9,3.9 0.9,3.9 1,3.9 0.9,3.9 0.9,3.9 0.9,3.9 0.9,3.9 0.9,3.9 0.9,3.9 0.9,3.9 0.9,3.9 0.8,3.9 0.9,3.9 0.9,3.9 0.9,3.9 0.8,3.9 0.9,3.9 0.9,3.9 0.8,4 0.9,3.9 0.9,3.9 0.8,3.9 0.9,3.9 0.9,3.9 0.8,3.9 0.9,3.9 0.8,3.9 0.9,3.9 0.8,4 0.9,3.9 0.8,3.9 0.9,3.9 0.8,3.9 0.9,3.9 0.8,3.9 0.9,3.9 0.8,4 0.9,3.9 0.8,3.9 0.8,3.9 0.9,3.9 0.8,3.9 0.9,3.9 0.8,4 0.8,3.9 0.9,3.9 0.8,3.9 0.8,3.9 0.9,3.9 0.8,4 0.8,3.9 0.9,3.9 0.8,3.9 0.8,3.9 0.9,3.9 0.8,4 0.8,3.9 0.8,3.9 0.9,3.9 0.8,3.9 0.8,3.9 0.9,4 0.8,3.9 0.8,3.9 0.9,3.9 0.8,3.9 0.8,3.9 0.8,4 0.9,3.9 0.8,3.9 0.8,3.9 0.9,3.9 0.8,3.9 0.8,4 0.8,3.9 0.9,3.9 0.8,3.9 0.8,3.9 0.9,3.9 0.8,4 0.8,3.9 0.9,3.9 0.8,3.9 0.9,3.9 0.8,3.9 0.8,3.9 0.9,4 0.8,3.9 0.8,3.9 0.9,3.9 0.8,3.9 0.9,3.9 0.8,3.9 0.9,4 0.8,3.9 0.9,3.9 0.8,3.9 0.9,3.9 0.8,3.9 0.9,3.9 0.9,3.9 0.8,3.9 0.9,4 0.8,3.9 0.9,3.9 0.9,3.9 0.8,3.9 0.9,3.9 0.9,3.9 0.9,3.9 0.8,3.9 0.9,3.9 0.9,3.9 0.9,3.9 0.9,3.9 0.9,3.9 0.9,3.9 0.9,3.9 0.9,3.9 0.9,3.9 0.9,3.9 0.9,3.9 0.9,3.9 0.9,3.9 1,3.9 0.9,3.9 0.9,3.9 0.9,3.9 1,3.9 0.9,3.9 1,3.9 0.9,3.9 1,3.9 0.9,3.9 1,3.8 1,3.9 1,3.9 0.9,3.9 1,3.9 1,3.8 1,3.9 1,3.9 1,3.9 1,3.8 1.1,3.9 1,3.9 1,3.9 1.1,3.8 1,3.9 1.1,3.8 1.1,3.9 1,3.9 1.1,3.8 1.1,3.9 1.1,3.8 1.2,3.8 1.1,3.9 1.1,3.8 1.2,3.9 1.1,3.8 1.2,3.8 1.2,3.8 1.2,3.9 1.2,3.8 1.3,3.8 1.2,3.8 1.3,3.8 1.3,3.8 1.3,3.8 1.3,3.7 1.3,3.8 1.4,3.8 1.4,3.7 1.4,3.8 1.4,3.7 1.5,3.7 1.5,3.7 1.6,3.7 1.5,3.7 1.6,3.7 1.7,3.6 1.7,3.7 1.7,3.6 1.8,3.6 1.8,3.5 1.9,3.6 1.9,3.5 2,3.4 2.1,3.5 2.1,3.4 2.1,3.4 2.2,3.3 2.3,3.3 2.3,3.2 2.5,3.2 2.4,3.2 2.6,3.1 2.6,3 2.6,3 2.8,2.9 2.8,2.9 2.8,2.8 2.9,2.8 2.9,2.7 3,2.7 3,2.7 3,2.6 3,2.6 3.1,2.6 3,2.6 3,2.7 3,2.6 3,2.7 3,2.7 2.9,2.7 2.9,2.8 2.8,2.8 2.9,2.8 2.8,2.9 2.8,2.8 2.8,2.9 2.7,2.9 2.8,2.9 2.8,2.9 2.8,2.8 2.8,2.9 2.8,2.8 2.9,2.9 2.8,2.8 2.9,2.7 2.9,2.8 3,2.7 3,2.6 3.1,2.6 3.1,2.5 3.2,2.4 3.2,2.3 3.4,2.2 3.4,2.1 3.6,1.8 3.6,1.7 3.7,1.5 3.8,1.2 3.9,1 3.9,0.8 4,0.5 4,0.2 4,-0.1 4,-0.4 4,-0.6 3.9,-0.8 3.8,-1.1 3.8,-1.3 3.7,-1.5 3.7,-1.6 3.5,-1.9 3.5,-2 3.4,-2.1 3.3,-2.2 3.3,-2.3 3.2,-2.5 3.1,-2.5 3,-2.6 3,-2.6 2.9,-2.8 2.9,-2.8 2.8,-2.8 2.8,-2.9 2.7,-3 2.6,-3 2.7,-3 2.5,-3 2.6,-3.1 2.5,-3.2 2.4,-3.1 2.5,-3.2 2.4,-3.2" stroke="#77AC30"/>
</g>
<rect x="469.5" y="83.2" width="196.2" height="110.7" fill="none" stroke="#000" stroke-width="10.5"/>
<clipPath id="clip-arr"><rect x="665" y="100" width="200" height="200"/></clipPath>
<path d="M656.3,142 L781,243.8" stroke="#000" stroke-width="16" fill="none" clip-path="url(#clip-arr)"/>
<path d="M792,225.4 L806,264.5 L764.8,258.4 Z" fill="#000"/>
<g filter="url(#sh)"><rect x="798" y="125" width="553" height="289" fill="#000"/></g>
<rect x="812.8" y="139.6" width="524.2" height="260.8" fill="#fff"/>
<clipPath id="clip-in"><rect x="812.8" y="139.6" width="524.2" height="260.8"/></clipPath>
<g clip-path="url(#clip-in)" fill="none" stroke-width="2.6" stroke-linejoin="round">
<path d="M812.9,329.2 L838.5,282.9 L867.2,252.0 L893.6,241.9 L917.9,242.3 L944.4,252.0 L970.8,274.1 L992.9,293.9 L1021.5,321.7 L1050.2,362.3 L1081.1,399.8" stroke="#0072BD"/>
<path d="M815.6,400.7 L838.5,335.8 L865.0,296.1 L893.6,265.3 L922.3,247.6 L948.8,241.9 L975.2,244.1 L1001.7,254.2 L1023.7,267.5 L1050.2,291.7 L1081.1,318.2 L1103.1,340.2 L1125.2,364.5 L1151.7,400.7" stroke="#D95319"/>
<path d="M839.4,400.7 L865.0,349.1 L893.6,300.5 L922.3,265.3 L948.8,243.2 L975.2,227.8 L1001.7,223.4 L1023.7,226.9 L1050.2,238.8 L1081.1,258.6 L1103.1,276.3 L1129.6,296.1 L1156.1,327.0 L1182.5,360.1 L1215.6,400.7" stroke="#EDB120"/>
<path d="M865.8,400.7 L893.6,340.2 L922.3,291.7 L948.8,256.4 L975.2,232.2 L1001.7,217.6 L1023.7,211.0 L1050.2,209.7 L1076.7,216.7 L1103.1,230.0 L1127.4,245.4 L1156.1,274.1 L1182.5,302.8 L1209.0,331.4 L1231.1,357.9 L1257.5,400.7" stroke="#7E2F8E"/>
<path d="M887.9,400.7 L922.3,324.8 L948.8,278.5 L975.2,245.4 L1001.7,221.1 L1023.7,205.7 L1050.2,193.4 L1076.7,190.3 L1103.1,195.6 L1127.4,207.0 L1156.1,230.0 L1182.5,252.0 L1209.0,278.5 L1231.1,307.2 L1257.5,351.3 L1288.4,400.7" stroke="#77AC30"/>
</g>
<path d="M923.2,174.8H1066" stroke="#000" stroke-width="10" stroke-dasharray="32.2 12.3" fill="none"/>
<path d="M1065.5,159.4 L1096.6,174.8 L1065.5,190.2 Z" fill="#000"/>
<rect x="339.8" y="729.6" width="554.8" height="353.0" fill="#fff" stroke="#3a3a3a" stroke-width="3.2"/>
<path d="M356.5,770.3H530.8" stroke="#0072BD" stroke-width="7" fill="none"/>
<path d="M356.5,838.3H530.8" stroke="#D95319" stroke-width="7" fill="none"/>
<path d="M356.5,905.8H530.8" stroke="#EDB120" stroke-width="7" fill="none"/>
<path d="M356.5,973.6H530.8" stroke="#7E2F8E" stroke-width="7" fill="none"/>
<path d="M356.5,1041.4H530.8" stroke="#77AC30" stroke-width="7" fill="none"/>
<g font-family='"Liberation Sans", Arial, Helvetica, sans-serif' font-weight="700" font-size="52" fill="#111">
<text x="544.6" y="791.3" xml:space="preserve">Rg = 70<tspan font-family='"Liberation Serif", "Times New Roman", serif' font-weight="400" font-size="57">Ω</tspan>/sq</text>
<text x="544.6" y="859.3" xml:space="preserve">Rg = 80<tspan font-family='"Liberation Serif", "Times New Roman", serif' font-weight="400" font-size="57">Ω</tspan>/sq</text>
<text x="544.6" y="926.8" xml:space="preserve">Rg = 90<tspan font-family='"Liberation Serif", "Times New Roman", serif' font-weight="400" font-size="57">Ω</tspan>/sq</text>
<text x="544.6" y="994.6" xml:space="preserve">Rg = 100<tspan font-family='"Liberation Serif", "Times New Roman", serif' font-weight="400" font-size="57">Ω</tspan>/sq</text>
<text x="544.6" y="1062.4" xml:space="preserve">Rg = 110<tspan font-family='"Liberation Serif", "Times New Roman", serif' font-weight="400" font-size="57">Ω</tspan>/sq</text>
</g>
<g font-family='"Liberation Sans", Arial, Helvetica, sans-serif' font-weight="700" fill="#262626">
<g font-size="59.5" text-anchor="end">
<text x="248.6" y="1154.6">0</text>
<text x="248.6" y="944.1">0.2</text>
<text x="248.6" y="733.6">0.4</text>
<text x="248.6" y="523.2">0.6</text>
<text x="248.6" y="312.7">0.8</text>
<text x="248.6" y="102.2">1</text>
</g>
<g font-size="59.5" text-anchor="middle">
<text x="271.8" y="1213.9">1</text>
<text x="470.1" y="1213.9">3</text>
<text x="668.4" y="1213.9">5</text>
<text x="866.7" y="1213.9">7</text>
<text x="1065.0" y="1213.9">9</text>
<text x="1263.4" y="1213.9">11</text>
<text x="1461.7" y="1213.9">13</text>
<text x="1660.0" y="1213.9">15</text>
<text x="1858.3" y="1213.9">17</text>
<text x="2056.6" y="1213.9">19</text>
</g>
<text x="1165.2" y="1297.6" font-size="64" text-anchor="middle">Frequency(GHz)</text>
<text transform="translate(136.2,605.5) rotate(-90)" font-size="64.6" text-anchor="middle">Absorptivity</text>
</g>
<text x="59.5" y="128.6" font-family='"Liberation Serif", "Times New Roman", serif' font-size="120" fill="#000">(a)</text>
</g>
<g id="panel-b">
<path d="M470.6,1379.5V2444.7M670.6,1379.5V2444.7M870.7,1379.5V2444.7M1070.7,1379.5V2444.7M1270.7,1379.5V2444.7M1470.7,1379.5V2444.7M1670.8,1379.5V2444.7M1870.8,1379.5V2444.7M270.6,2231.7H2070.8M270.6,2018.6H2070.8M270.6,1805.6H2070.8M270.6,1592.5H2070.8" fill="none" stroke="#8c8c8c" stroke-width="3" stroke-dasharray="2.9 2.8"/>
<path d="M470.6,2444.7v-19M470.6,1379.5v19M670.6,2444.7v-19M670.6,1379.5v19M870.7,2444.7v-19M870.7,1379.5v19M1070.7,2444.7v-19M1070.7,1379.5v19M1270.7,2444.7v-19M1270.7,1379.5v19M1470.7,2444.7v-19M1470.7,1379.5v19M1670.8,2444.7v-19M1670.8,1379.5v19M1870.8,2444.7v-19M1870.8,1379.5v19M270.6,2231.7h19M2070.8,2231.7h-19M270.6,2018.6h19M2070.8,2018.6h-19M270.6,1805.6h19M2070.8,1805.6h-19M270.6,1592.5h19M2070.8,1592.5h-19" fill="none" stroke="#4d4d4d" stroke-width="3.4"/>
<rect x="270.6" y="1379.5" width="1800.2" height="1065.2" fill="none" stroke="#4d4d4d" stroke-width="3.4"/>
<clipPath id="clip-b"><rect x="270.6" y="1377.5" width="1800.2000000000003" height="1069.1999999999998"/></clipPath>
<g clip-path="url(#clip-b)" fill="none" stroke-width="5.8" stroke-linejoin="round" stroke-linecap="butt">
<path d="M270.5,2353.2l3.4,-2.1 3.2,-2.4 3,-2.6 2.9,-2.8 2.7,-2.9 2.6,-3.1 2.5,-3.1 2.4,-3.2 2.3,-3.3 2.1,-3.4 2.2,-3.4 2,-3.4 2,-3.5 1.9,-3.5 1.8,-3.6 1.8,-3.6 1.8,-3.6 1.7,-3.6 1.7,-3.6 1.6,-3.7 1.6,-3.7 1.5,-3.6 1.6,-3.8 1.5,-3.7 1.4,-3.7 1.4,-3.7 1.5,-3.8 1.3,-3.7 1.4,-3.8 1.3,-3.8 1.3,-3.8 1.3,-3.8 1.3,-3.8 1.3,-3.8 1.2,-3.8 1.2,-3.8 1.2,-3.8 1.2,-3.8 1.2,-3.9 1.1,-3.8 1.1,-3.8 1.2,-3.9 1.1,-3.8 1.1,-3.9 1.1,-3.8 1,-3.9 1.1,-3.9 1,-3.8 1.1,-3.9 1,-3.9 1,-3.9 1,-3.8 1,-3.9 1,-3.9 1,-3.9 0.9,-3.9 1,-3.8 0.9,-3.9 1,-3.9 0.9,-3.9 0.9,-3.9 0.9,-3.9 0.9,-3.9 0.9,-3.9 0.9,-3.9 0.9,-3.9 0.9,-3.9 0.9,-4 0.8,-3.9 0.9,-3.9 0.8,-3.9 0.9,-3.9 0.8,-3.9 0.9,-3.9 0.8,-4 0.8,-3.9 0.8,-3.9 0.8,-3.9 0.8,-3.9 0.8,-4 0.8,-3.9 0.8,-3.9 0.8,-4 0.8,-3.9 0.7,-3.9 0.8,-3.9 0.8,-4 0.7,-3.9 0.8,-3.9 0.7,-4 0.8,-3.9 0.7,-3.9 0.7,-4 0.8,-3.9 0.7,-4 0.7,-3.9 0.8,-3.9 0.7,-4 0.7,-3.9 0.7,-4 0.7,-3.9 0.7,-3.9 0.7,-4 0.7,-3.9 0.7,-4 0.6,-3.9 0.7,-4 0.7,-3.9 0.7,-4 0.7,-3.9 0.6,-4 0.7,-3.9 0.6,-4 0.7,-3.9 0.7,-4 0.6,-3.9 0.7,-4 0.6,-3.9 0.7,-4 0.6,-3.9 0.6,-4 0.7,-3.9 0.6,-4 0.6,-3.9 0.7,-4 0.6,-4 0.6,-3.9 0.6,-4 0.6,-3.9 0.7,-4 0.6,-3.9 0.6,-4 0.6,-4 0.6,-3.9 0.6,-4 0.6,-3.9 0.6,-4 0.6,-3.9 0.6,-4 0.7,-4 0.6,-3.9 0.6,-4 0.6,-3.9 0.6,-4 0.6,-4 0.6,-3.9 0.6,-4 0.6,-3.9 0.6,-4 0.6,-4 0.6,-3.9 0.6,-4 0.6,-3.9 0.6,-4 0.6,-4 0.6,-3.9 0.6,-4 0.6,-3.9 0.6,-4 0.6,-3.9 0.7,-4 0.6,-4 0.6,-3.9 0.6,-4 0.6,-3.9 0.6,-4 0.7,-3.9 0.6,-4 0.6,-4 0.6,-3.9 0.7,-4 0.6,-3.9 0.6,-4 0.7,-3.9 0.6,-4 0.7,-3.9 0.6,-4 0.7,-3.9 0.6,-4 0.7,-3.9 0.6,-4 0.7,-3.9 0.7,-4 0.6,-3.9 0.7,-4 0.7,-3.9 0.7,-4 0.7,-3.9 0.7,-4 0.7,-3.9 0.7,-3.9 0.8,-4 0.7,-3.9 0.7,-4 0.8,-3.9 0.7,-3.9 0.8,-4 0.8,-3.9 0.8,-3.9 0.7,-3.9 0.9,-4 0.8,-3.9 0.8,-3.9 0.8,-3.9 0.9,-3.9 0.9,-3.9 0.9,-3.9 0.9,-3.9 0.9,-3.9 0.9,-3.9 0.9,-3.9 1,-3.9 1,-3.9 1,-3.9 1,-3.8 1.1,-3.9 1,-3.9 1.1,-3.8 1.1,-3.9 1.2,-3.8 1.1,-3.8 1.2,-3.9 1.2,-3.8 1.3,-3.8 1.3,-3.8 1.3,-3.8 1.3,-3.7 1.4,-3.8 1.4,-3.7 1.5,-3.8 1.5,-3.7 1.5,-3.7 1.6,-3.7 1.7,-3.6 1.7,-3.6 1.7,-3.6 1.8,-3.6 1.9,-3.5 2,-3.5 2.1,-3.4 2.1,-3.4 2.3,-3.3 2.4,-3.3 2.5,-3.1 2.6,-3 2.8,-2.9 3,-2.6 3.1,-2.5 3.4,-2.2 3.5,-1.9 3.7,-1.5 3.9,-1.1 3.9,-0.6 4,-0.1 4,0.3 4,0.8 3.8,1 3.8,1.4 3.6,1.7 3.6,1.8 3.4,2.1 3.4,2.1 3.3,2.3 3.2,2.4 3.2,2.4 3.1,2.6 3,2.5 3.1,2.7 3,2.6 2.9,2.7 3,2.7 2.9,2.8 2.9,2.7 2.9,2.8 2.9,2.8 2.9,2.8 2.8,2.8 2.8,2.8 2.8,2.9 2.8,2.8 2.8,2.9 2.8,2.9 2.8,2.9 2.7,2.9 2.7,2.9 2.8,3 2.7,2.9 2.7,3 2.7,2.9 2.6,3 2.7,3 2.7,3 2.6,3 2.7,3 2.6,3 2.7,3 2.6,3 2.6,3.1 2.6,3 2.6,3.1 2.6,3 2.6,3 2.6,3.1 2.6,3.1 2.6,3 2.6,3.1 2.5,3.1 2.6,3 2.6,3.1 2.5,3.1 2.6,3.1 2.5,3 2.6,3.1 2.6,3.1 2.5,3.1 2.6,3.1 2.5,3.1 2.6,3 2.5,3.1 2.6,3.1 2.5,3.1 2.6,3.1 2.5,3.1 2.6,3.1 2.6,3 2.5,3.1 2.6,3.1 2.5,3.1 2.6,3.1 2.6,3 2.5,3.1 2.6,3.1 2.5,3.1 2.6,3.1 2.5,3.1 2.6,3.1 2.5,3.1 2.5,3.1 2.6,3.1 2.5,3.1 2.5,3.1 2.5,3.1 2.5,3.1 2.5,3.2 2.5,3.1 2.5,3.1 2.5,3.2 2.4,3.1 2.5,3.2 2.5,3.2 2.4,3.1 2.4,3.2 2.4,3.2 2.5,3.2 2.3,3.2 2.4,3.2 2.4,3.3 2.4,3.2 2.3,3.2 2.4,3.3 2.3,3.3 2.3,3.2 2.3,3.3 2.3,3.3 2.3,3.3 2.2,3.3 2.3,3.3 2.2,3.3 2.3,3.3 2.2,3.4 2.2,3.3 2.1,3.4 2.2,3.4 2.2,3.3 2.1,3.4 2.1,3.4 2.2,3.4 2.1,3.4 2,3.4 2.1,3.5 2.1,3.4 2,3.4 2.1,3.5 2,3.5 2,3.4 2,3.5 1.9,3.5 2,3.5 2,3.5 1.9,3.5 1.9,3.5 1.9,3.5 1.9,3.5 1.9,3.6 1.9,3.5 1.8,3.6 1.9,3.5 1.8,3.6 1.8,3.5 1.8,3.6 1.8,3.6 1.8,3.6 1.8,3.6 1.7,3.6 1.8,3.6 1.7,3.6 1.7,3.6 1.7,3.6 1.7,3.7 1.7,3.6 1.7,3.6 1.7,3.7 1.6,3.6 1.7,3.7 1.6,3.6 1.6,3.7 1.6,3.7 1.6,3.6 1.6,3.7 1.6,3.7 1.5,3.7 1.6,3.7 1.5,3.7 1.6,3.7 1.5,3.7 1.5,3.7 1.5,3.7 1.5,3.7 1.5,3.7 1.5,3.7 1.5,3.8 1.4,3.7 1.5,3.7 1.4,3.8 1.5,3.7 1.4,3.7 1.4,3.8 1.4,3.7 1.4,3.8 1.4,3.7 1.4,3.8 1.3,3.8 1.4,3.7 1.4,3.8 1.3,3.8 1.4,3.7 1.3,3.8 1.3,3.8 1.3,3.8 1.3,3.8 1.3,3.8 1.3,3.7 1.3,3.8 1.3,3.8 1.3,3.8 1.2,3.8 1.3,3.8 1.2,3.8 1.3,3.8 1.2,3.9 1.3,3.8 1.2,3.8 1.2,3.8 1.2,3.8 1.2,3.8 1.2,3.9 1.2,3.8 1.2,3.8 1.1,3.8 1.2,3.9 1.2,3.8 1.1,3.8 1.2,3.9 1.1,3.8 1.2,3.8 1.1,3.9 1.1,3.8 1.2,3.9 1.1,3.8 1.1,3.9 1.1,3.8 1.1,3.9 1.1,3.8 1.1,3.9 1,3.8 1.1,3.9 1.1,3.8 1.1,3.9 1,3.9 1.1,3.8 1,3.9 1.1,3.9 1,3.8 1.1,3.9 1,3.9 1.1,3.8 1,3.9 1.1,3.8 1.1,3.9 1,3.9 1.1,3.8 1.1,3.9 1.1,3.8 1.1,3.9 1.1,3.8 1.2,3.9 1.1,3.8 1.2,3.8 1.1,3.9 1.2,3.8 1.3,3.8 1.2,3.8 1.3,3.8 1.3,3.8 1.4,3.7 1.4,3.8 1.4,3.7 1.5,3.7 1.6,3.7 1.6,3.7 1.6,3.7 1.8,3.6 1.8,3.5 1.8,3.6 2,3.5 2.1,3.4 2.1,3.4 2.3,3.3 2.3,3.2 2.5,3.2 2.6,3 2.7,3 2.9,2.8 3,2.6 3.1,2.6 3.2,2.3 3.3,2.3 3.4,2.1 3.5,1.9 3.5,1.9 3.6,1.9 3.6,1.8 3.5,1.8 3.6,1.8 3.6,1.7 3.7,1.7 3.6,1.6 3.7,1.6 3.7,1.5 3.8,1.4 3.8,1.3 3.8,1.2 3.9,1.1 3.9,0.9 3.9,0.7 4,0.6 3.9,0.4 4,0.2 4,-0.1 4,-0.3 4,-0.5 3.9,-0.8 3.9,-1 3.8,-1.3 3.7,-1.6 3.6,-1.7 3.5,-2 3.4,-2.1 3.2,-2.4 3.1,-2.4 3.1,-2.7 2.9,-2.7 2.8,-2.9 2.7,-2.9 2.6,-3.1 2.5,-3.1 2.4,-3.2 2.4,-3.3 2.2,-3.3 2.2,-3.3 2.1,-3.4 2.1,-3.4 2,-3.5 2,-3.5 1.9,-3.5 1.8,-3.6 1.8,-3.6 1.8,-3.6 1.7,-3.6 1.6,-3.6 1.7,-3.7 1.6,-3.6 1.5,-3.7 1.6,-3.7 1.5,-3.7 1.4,-3.8 1.5,-3.7 1.4,-3.7 1.4,-3.8 1.4,-3.8 1.3,-3.7 1.3,-3.8 1.3,-3.8 1.3,-3.8 1.3,-3.8 1.2,-3.8 1.2,-3.8 1.3,-3.8 1.2,-3.9 1.1,-3.8 1.2,-3.8 1.2,-3.8 1.1,-3.9 1.2,-3.8 1.1,-3.9 1.1,-3.8 1.1,-3.9 1.1,-3.8 1.1,-3.9 1.1,-3.8 1.1,-3.9 1.1,-3.8 1,-3.9 1.1,-3.8 1.1,-3.9 1,-3.9 1.1,-3.8 1,-3.9 1,-3.9 1.1,-3.8 1,-3.9 1,-3.9 1,-3.9 1.1,-3.8 1,-3.9 1,-3.9 1,-3.9 1,-3.8 1,-3.9 1,-3.9 1,-3.9 1,-3.8 1,-3.9 1,-3.9 1,-3.9 1,-3.9 1,-3.8 1,-3.9 1,-3.9 1,-3.9 1,-3.9 1,-3.8 1,-3.9 1,-3.9 1,-3.9 0.9,-3.9 1,-3.8 1,-3.9 1,-3.9 1.1,-3.9 1,-3.8 1,-3.9 1,-3.9 1,-3.9 1,-3.8 1,-3.9 1,-3.9 1.1,-3.9 1,-3.8 1,-3.9 1.1,-3.9 1,-3.8 1.1,-3.9 1,-3.9 1.1,-3.8 1,-3.9 1.1,-3.8 1.1,-3.9 1.1,-3.9 1,-3.8 1.1,-3.9 1.2,-3.8 1.1,-3.9 1.1,-3.8 1.1,-3.8 1.2,-3.9 1.1,-3.8 1.2,-3.9 1.2,-3.8 1.1,-3.8 1.3,-3.8 1.2,-3.8 1.2,-3.9 1.2,-3.8 1.3,-3.8 1.3,-3.8 1.3,-3.7 1.3,-3.8 1.4,-3.8 1.4,-3.7 1.4,-3.8 1.4,-3.7 1.4,-3.8 1.5,-3.7 1.6,-3.7 1.6,-3.7 1.6,-3.6 1.7,-3.7 1.7,-3.6 1.7,-3.6 1.9,-3.5 1.9,-3.6 1.9,-3.5 2,-3.4 2.1,-3.5 2.1,-3.4 2.2,-3.3 2.2,-3.4 2.2,-3.3 2.4,-3.2 2.3,-3.3 2.4,-3.2 2.4,-3.2 2.5,-3.2 2.4,-3.1 2.5,-3.2 2.4,-3.2 2.5,-3.1 2.5,-3.2 2.4,-3.1 2.5,-3.2 2.4,-3.2 2.5,-3.1 2.4,-3.2 2.5,-3.2 2.4,-3.1 2.4,-3.2 2.5,-3.2 2.4,-3.2 2.4,-3.2 2.4,-3.2 2.3,-3.3 2.4,-3.2 2.3,-3.2 2.4,-3.3 2.3,-3.3 2.3,-3.2 2.3,-3.3 2.3,-3.3 2.3,-3.2 2.4,-3.3 2.3,-3.3 2.3,-3.2 2.3,-3.3 2.4,-3.2 2.4,-3.3 2.4,-3.2 2.4,-3.2 2.4,-3.1 2.5,-3.2 2.5,-3.1 2.6,-3.1 2.6,-3 2.6,-3 2.6,-3.1 2.7,-3 2.7,-2.9 2.6,-3.1 2.6,-3 2.7,-3 2.5,-3.1 2.6,-3 2.5,-3.1 2.5,-3.2 2.5,-3.1 2.4,-3.2 2.5,-3.2 2.4,-3.2 2.3,-3.2 2.4,-3.3 2.3,-3.2 2.3,-3.3 2.3,-3.3 2.2,-3.3 2.3,-3.3 2.2,-3.4 2.2,-3.3 2.2,-3.3 2.2,-3.4 2.1,-3.4 2.2,-3.4 2.1,-3.4 2.1,-3.4 2.1,-3.4 2.1,-3.4 2.1,-3.4 2,-3.5 2.1,-3.4 2,-3.4 2.1,-3.5 2,-3.5 2,-3.4 2,-3.5 1.9,-3.5 2,-3.5 2,-3.5 1.9,-3.5 2,-3.5 1.9,-3.5 1.9,-3.5 2,-3.5 1.9,-3.5 1.9,-3.5 1.9,-3.6 1.8,-3.5 1.9,-3.5 1.9,-3.6 1.9,-3.5 1.8,-3.6 1.9,-3.5 1.8,-3.6 1.9,-3.5 1.8,-3.6 1.8,-3.6 1.9,-3.5 1.8,-3.6 1.8,-3.6 1.8,-3.5 1.8,-3.6 1.8,-3.6 1.9,-3.5 1.8,-3.6 1.9,-3.5 1.9,-3.5 1.9,-3.6 1.9,-3.5 2,-3.4 2.1,-3.5 2.1,-3.4 2.1,-3.4 2.2,-3.3 2.4,-3.3 2.4,-3.2 2.6,-3 2.7,-2.9 3,-2.7 3.2,-2.4 3.6,-1.8 3.8,-1.1 4,0 3.8,1.2 3.4,2.1 3,2.6 2.6,3.1 2.4,3.2 2.1,3.4 1.9,3.5 1.8,3.6 1.7,3.6 1.6,3.7 1.5,3.7 1.5,3.7 1.4,3.8 1.4,3.8 1.3,3.7 1.3,3.8 1.3,3.8 1.2,3.8 1.2,3.8 1.2,3.9 1.2,3.8 1.2,3.8 1.2,3.8 1.1,3.9 1.2,3.8 1.1,3.9 1.1,3.8 1.1,3.8 1.2,3.9 1.1,3.8 1.1,3.9 1.1,3.8 1.1,3.9 1.1,3.8 1.2,3.9 1.1,3.8 1.1,3.9 1.1,3.8 1.1,3.8 1.2,3.9 1.1,3.8 1.1,3.9 1.2,3.8 1.1,3.8 1.2,3.9 1.1,3.8 1.1,3.9 1.2,3.8 1.2,3.8 1.1,3.9 1.2,3.8 1.2,3.8 1.1,3.9 1.2,3.8 1.2,3.8 1.2,3.8 1.2,3.8 1.2,3.9 1.2,3.8 1.3,3.8 1.2,3.8 1.2,3.8 1.3,3.8 1.2,3.8 1.2,3.8 1.3,3.8 1.2,3.9 1.3,3.8 1.2,3.8 1.3,3.8 1.2,3.8 1.3,3.8 1.2,3.8 1.3,3.8 1.2,3.8 1.3,3.8 1.2,3.8 1.2,3.8 1.3,3.8 1.2,3.8 1.2,3.9 1.2,3.8 1.2,3.8 1.2,3.8 1.2,3.8 1.2,3.9 1.2,3.8 1.1,3.8 1.2,3.9 1.1,3.8 1.2,3.8 1.1,3.9 1.1,3.8 1.1,3.9 1.1,3.8 1.1,3.9 1.1,3.8 1.1,3.9 1,3.9 1.1,3.8 1,3.9 1.1,3.9 1,3.8 1,3.9 1,3.9 1,3.9 1,3.8 1,3.9 0.9,3.9 1,3.9 1,3.9 0.9,3.9 1,3.9 0.9,3.9 0.9,3.9 1,3.9 0.9,3.9 0.9,3.9 0.9,3.9 0.9,3.9 0.9,3.9 0.9,3.9 0.9,3.9 0.9,3.9 0.8,3.9 0.9,3.9 0.9,3.9 0.8,3.9 0.9,3.9 0.9,3.9 0.8,3.9 0.9,4 0.8,3.9 0.8,3.9 0.9,3.9 0.8,3.9 0.8,3.9 0.9,4 0.8,3.9 0.8,3.9 0.8,3.9 0.8,3.9 0.9,4 0.8,3.9 0.8,3.9 0.8,3.9 0.8,4 0.8,3.9 0.8,3.9 0.7,3.9 0.8,4 0.8,3.9 0.8,3.9 0.8,3.9 0.8,4 0.7,3.9 0.8,3.9 0.8,4 0.8,3.9 0.7,3.9 0.8,3.9 0.8,4 0.7,3.9 0.8,3.9 0.8,4 0.7,3.9 0.8,3.9 0.8,4 0.7,3.9 0.8,3.9 0.7,4 0.8,3.9 0.8,3.9 0.8,4 0.7,3.9 0.8,3.9 0.8,3.9 0.8,4 0.8,3.9 0.8,3.9 0.7,3.9 0.9,4 0.8,3.9 0.8,3.9 0.8,3.9 0.8,4 0.9,3.9 0.8,3.9 0.9,3.9 0.8,3.9 0.9,3.9 0.9,3.9 0.9,3.9 0.9,3.9 0.9,3.9 1,3.9 0.9,3.9 1,3.9 1,3.8 1.1,3.9 1.1,3.9 1.1,3.8 1.1,3.9 1.2,3.8 1.2,3.8 3.6,2.2 3.5,2.3 3.4,2.5 3.3,2.7 3.2,2.7 3.1,2.9 3.1,2.9 2.9,3 3,3.1 2.8,3.1 2.9,3.1 2.8,3.1 2.7,3.2 2.8,3.2 2.7,3.3 2.7,3.2 2.7,3.3 2.7,3.2 2.7,3.3 2.7,3.2 2.7,3.3 2.7,3.2 2.7,3.3 2.7,3.2 2.8,3.2 2.7,3.2 2.8,3.1 2.9,3.2 2.9,3 2.9,3.1 3,3 3,2.9 3.2,2.8 3.2,2.7 3.3,2.7" stroke="#0072BD"/>
<path d="M270.5,2346.9l3.2,-2.4 3,-2.6 2.9,-2.8 2.7,-3 2.5,-3.1 2.5,-3.1 2.3,-3.3 2.2,-3.3 2.2,-3.4 2,-3.5 2,-3.5 1.9,-3.5 1.8,-3.5 1.8,-3.6 1.7,-3.6 1.7,-3.7 1.6,-3.6 1.6,-3.7 1.6,-3.7 1.5,-3.7 1.5,-3.7 1.4,-3.8 1.4,-3.7 1.4,-3.8 1.4,-3.7 1.3,-3.8 1.3,-3.8 1.3,-3.8 1.2,-3.8 1.3,-3.8 1.2,-3.8 1.2,-3.9 1.1,-3.8 1.2,-3.8 1.1,-3.9 1.2,-3.8 1.1,-3.8 1.1,-3.9 1,-3.9 1.1,-3.8 1,-3.9 1.1,-3.9 1,-3.8 1,-3.9 1,-3.9 1,-3.9 1,-3.9 0.9,-3.8 1,-3.9 0.9,-3.9 0.9,-3.9 1,-3.9 0.9,-3.9 0.9,-3.9 0.9,-3.9 0.9,-3.9 0.8,-3.9 0.9,-3.9 0.9,-4 0.8,-3.9 0.9,-3.9 0.8,-3.9 0.8,-3.9 0.9,-3.9 0.8,-4 0.8,-3.9 0.8,-3.9 0.8,-3.9 0.8,-3.9 0.8,-4 0.8,-3.9 0.8,-3.9 0.8,-4 0.7,-3.9 0.8,-3.9 0.8,-3.9 0.7,-4 0.8,-3.9 0.7,-3.9 0.8,-4 0.7,-3.9 0.8,-3.9 0.7,-4 0.8,-3.9 0.7,-4 0.7,-3.9 0.7,-3.9 0.8,-4 0.7,-3.9 0.7,-4 0.7,-3.9 0.7,-3.9 0.7,-4 0.7,-3.9 0.7,-4 0.7,-3.9 0.7,-4 0.7,-3.9 0.7,-3.9 0.7,-4 0.7,-3.9 0.7,-4 0.6,-3.9 0.7,-4 0.7,-3.9 0.7,-4 0.6,-3.9 0.7,-4 0.7,-3.9 0.7,-4 0.6,-3.9 0.7,-4 0.7,-3.9 0.6,-4 0.7,-3.9 0.6,-4 0.7,-3.9 0.6,-4 0.7,-3.9 0.6,-4 0.7,-3.9 0.6,-4 0.7,-3.9 0.6,-4 0.7,-3.9 0.6,-4 0.7,-3.9 0.6,-4 0.6,-3.9 0.7,-4 0.6,-4 0.7,-3.9 0.6,-4 0.6,-3.9 0.7,-4 0.6,-3.9 0.6,-4 0.7,-3.9 0.6,-4 0.6,-3.9 0.6,-4 0.7,-4 0.6,-3.9 0.6,-4 0.6,-3.9 0.7,-4 0.6,-3.9 0.6,-4 0.6,-4 0.7,-3.9 0.6,-4 0.6,-3.9 0.6,-4 0.6,-3.9 0.7,-4 0.6,-3.9 0.6,-4 0.6,-4 0.6,-3.9 0.7,-4 0.6,-3.9 0.6,-4 0.6,-3.9 0.6,-4 0.6,-4 0.7,-3.9 0.6,-4 0.6,-3.9 0.6,-4 0.6,-3.9 0.6,-4 0.7,-4 0.6,-3.9 0.6,-4 0.6,-3.9 0.7,-4 0.6,-3.9 0.6,-4 0.6,-4 0.7,-3.9 0.6,-4 0.7,-3.9 0.6,-4 0.6,-3.9 0.7,-4 0.6,-3.9 0.7,-4 0.6,-3.9 0.7,-4 0.7,-3.9 0.6,-4 0.7,-3.9 0.7,-4 0.7,-3.9 0.7,-4 0.7,-3.9 0.7,-3.9 0.7,-4 0.7,-3.9 0.7,-4 0.8,-3.9 0.7,-3.9 0.8,-4 0.7,-3.9 0.8,-3.9 0.8,-4 0.8,-3.9 0.8,-3.9 0.8,-3.9 0.8,-3.9 0.9,-4 0.9,-3.9 0.9,-3.9 0.9,-3.9 0.9,-3.9 1,-3.9 1,-3.8 1,-3.9 1.1,-3.9 1.1,-3.8 1.1,-3.9 1.2,-3.8 1.2,-3.8 1.3,-3.8 1.3,-3.8 1.3,-3.7 1.5,-3.8 1.5,-3.7 1.5,-3.7 1.7,-3.6 1.7,-3.6 1.9,-3.6 1.9,-3.5 2,-3.5 2.2,-3.3 2.2,-3.3 2.4,-3.3 2.5,-3.1 2.7,-3 2.7,-2.9 3,-2.7 3,-2.6 3.3,-2.4 3.4,-2.1 3.6,-1.8 3.7,-1.4 3.8,-1.1 4,-0.6 4,-0.2 4,0.2 3.9,0.7 3.9,1 3.8,1.3 3.7,1.6 3.6,1.8 3.4,2 3.4,2.1 3.3,2.3 3.2,2.4 3.1,2.6 3,2.6 3,2.6 2.9,2.8 2.9,2.8 2.8,2.8 2.8,2.9 2.8,2.9 2.7,2.9 2.7,3 2.6,3 2.6,3.1 2.6,3 2.6,3 2.6,3.1 2.6,3.1 2.5,3.1 2.6,3.1 2.5,3.1 2.5,3.1 2.6,3.1 2.5,3.1 2.5,3.1 2.5,3.1 2.6,3.1 2.5,3.1 2.5,3.1 2.5,3.2 2.5,3.1 2.5,3.1 2.5,3.2 2.5,3.1 2.4,3.2 2.5,3.1 2.5,3.2 2.4,3.1 2.5,3.2 2.5,3.1 2.4,3.2 2.4,3.2 2.5,3.2 2.4,3.2 2.4,3.1 2.5,3.2 2.4,3.2 2.4,3.2 2.4,3.2 2.4,3.3 2.3,3.2 2.4,3.2 2.4,3.2 2.4,3.3 2.3,3.2 2.4,3.2 2.3,3.3 2.4,3.2 2.3,3.3 2.3,3.2 2.3,3.3 2.3,3.3 2.3,3.3 2.3,3.2 2.3,3.3 2.3,3.3 2.3,3.3 2.3,3.3 2.2,3.3 2.3,3.3 2.2,3.4 2.2,3.3 2.3,3.3 2.2,3.3 2.2,3.4 2.2,3.3 2.2,3.4 2.2,3.3 2.2,3.4 2.2,3.3 2.1,3.4 2.2,3.4 2.1,3.4 2.2,3.3 2.1,3.4 2.2,3.4 2.1,3.4 2.1,3.4 2.1,3.4 2.1,3.4 2.1,3.5 2.1,3.4 2,3.4 2.1,3.4 2.1,3.5 2,3.4 2.1,3.4 2,3.5 2,3.4 2.1,3.5 2,3.5 2,3.4 2,3.5 2,3.5 2,3.5 1.9,3.4 2,3.5 2,3.5 1.9,3.5 2,3.5 1.9,3.5 1.9,3.5 2,3.5 1.9,3.6 1.9,3.5 1.9,3.5 1.9,3.5 1.9,3.6 1.8,3.5 1.9,3.5 1.9,3.6 1.8,3.6 1.8,3.5 1.9,3.6 1.8,3.5 1.8,3.6 1.8,3.6 1.8,3.6 1.8,3.6 1.7,3.6 1.8,3.6 1.7,3.6 1.8,3.6 1.7,3.6 1.7,3.6 1.7,3.6 1.7,3.6 1.7,3.7 1.7,3.6 1.7,3.7 1.6,3.6 1.7,3.7 1.6,3.6 1.6,3.7 1.6,3.6 1.6,3.7 1.6,3.7 1.6,3.7 1.6,3.6 1.6,3.7 1.5,3.7 1.6,3.7 1.5,3.7 1.5,3.7 1.5,3.7 1.5,3.7 1.5,3.8 1.5,3.7 1.5,3.7 1.5,3.7 1.4,3.8 1.5,3.7 1.4,3.7 1.4,3.8 1.4,3.7 1.5,3.8 1.4,3.7 1.3,3.8 1.4,3.7 1.4,3.8 1.4,3.8 1.3,3.7 1.4,3.8 1.3,3.8 1.3,3.7 1.4,3.8 1.3,3.8 1.3,3.8 1.3,3.8 1.3,3.8 1.3,3.8 1.3,3.8 1.3,3.8 1.2,3.7 1.3,3.8 1.3,3.8 1.2,3.9 1.3,3.8 1.2,3.8 1.2,3.8 1.3,3.8 1.2,3.8 1.2,3.8 1.3,3.8 1.2,3.8 1.2,3.9 1.2,3.8 1.2,3.8 1.2,3.8 1.2,3.8 1.2,3.9 1.2,3.8 1.2,3.8 1.2,3.8 1.1,3.9 1.2,3.8 1.2,3.8 1.2,3.8 1.1,3.9 1.2,3.8 1.2,3.8 1.1,3.9 1.2,3.8 1.1,3.8 1.2,3.9 1.1,3.8 1.2,3.8 1.1,3.9 1.2,3.8 1.1,3.9 1.2,3.8 1.1,3.8 1.2,3.9 1.1,3.8 1.1,3.9 1.2,3.8 1.1,3.8 1.1,3.9 1.2,3.8 1.1,3.9 1.2,3.8 1.2,3.8 1.1,3.9 1.2,3.8 1.2,3.8 1.2,3.8 1.2,3.8 1.2,3.9 1.2,3.8 1.3,3.8 1.2,3.8 1.3,3.8 1.3,3.8 1.4,3.7 1.3,3.8 1.4,3.8 1.5,3.7 1.4,3.7 1.6,3.7 1.5,3.7 1.7,3.7 1.6,3.6 1.8,3.6 1.8,3.6 1.9,3.5 2,3.5 2.1,3.4 2.2,3.4 2.2,3.3 2.4,3.2 2.5,3.1 2.6,3.1 2.7,3 2.8,2.8 2.9,2.8 3,2.6 3.1,2.6 3.1,2.4 3.2,2.4 3.3,2.3 3.3,2.3 3.4,2.1 3.4,2.1 3.5,2 3.6,1.8 3.6,1.7 3.6,1.6 3.8,1.5 3.7,1.4 3.9,1.1 3.8,1.1 3.9,0.8 4,0.7 4,0.5 4,0.4 4,0.1 4,0 4,-0.3 3.9,-0.4 4,-0.6 3.9,-0.8 3.9,-1 3.8,-1.2 3.8,-1.4 3.6,-1.7 3.6,-1.8 3.4,-2.1 3.3,-2.2 3.2,-2.5 3.1,-2.5 2.9,-2.8 2.8,-2.8 2.7,-3 2.6,-3.1 2.4,-3.1 2.4,-3.2 2.3,-3.3 2.2,-3.4 2.1,-3.4 2.1,-3.4 1.9,-3.5 1.9,-3.5 1.9,-3.6 1.8,-3.6 1.7,-3.6 1.7,-3.6 1.6,-3.7 1.6,-3.6 1.6,-3.7 1.5,-3.7 1.5,-3.8 1.4,-3.7 1.4,-3.7 1.4,-3.8 1.3,-3.8 1.4,-3.8 1.3,-3.7 1.3,-3.8 1.2,-3.8 1.3,-3.8 1.2,-3.8 1.2,-3.9 1.2,-3.8 1.2,-3.8 1.2,-3.8 1.1,-3.9 1.2,-3.8 1.1,-3.8 1.1,-3.9 1.2,-3.8 1.1,-3.9 1.1,-3.8 1.1,-3.9 1.1,-3.8 1,-3.9 1.1,-3.9 1.1,-3.8 1,-3.9 1.1,-3.8 1,-3.9 1.1,-3.9 1,-3.8 1.1,-3.9 1,-3.9 1,-3.9 1,-3.8 1.1,-3.9 1,-3.9 1,-3.8 1,-3.9 1,-3.9 1,-3.9 1,-3.8 1.1,-3.9 1,-3.9 1,-3.9 1,-3.9 1,-3.8 1,-3.9 1,-3.9 1,-3.9 1,-3.8 1,-3.9 1,-3.9 1,-3.9 1,-3.8 1,-3.9 1,-3.9 1,-3.9 1.1,-3.8 1,-3.9 1,-3.9 1,-3.9 1,-3.8 1.1,-3.9 1,-3.9 1,-3.8 1.1,-3.9 1,-3.9 1.1,-3.8 1,-3.9 1.1,-3.9 1.1,-3.8 1,-3.9 1.1,-3.8 1.1,-3.9 1.1,-3.9 1.1,-3.8 1.1,-3.9 1.1,-3.8 1.2,-3.8 1.1,-3.9 1.1,-3.8 1.2,-3.8 1.2,-3.9 1.2,-3.8 1.2,-3.8 1.2,-3.8 1.2,-3.9 1.2,-3.8 1.3,-3.8 1.2,-3.8 1.3,-3.8 1.3,-3.8 1.3,-3.7 1.3,-3.8 1.4,-3.8 1.3,-3.8 1.4,-3.7 1.4,-3.8 1.4,-3.7 1.4,-3.8 1.4,-3.7 1.5,-3.8 1.5,-3.7 1.5,-3.7 1.5,-3.7 1.5,-3.7 1.6,-3.7 1.6,-3.7 1.6,-3.6 1.6,-3.7 1.6,-3.7 1.7,-3.6 1.7,-3.6 1.7,-3.6 1.7,-3.7 1.8,-3.5 1.8,-3.6 1.8,-3.6 1.9,-3.5 1.9,-3.6 1.9,-3.5 1.9,-3.5 2,-3.5 2,-3.5 2,-3.4 2,-3.5 2.1,-3.4 2,-3.4 2.1,-3.5 2.2,-3.3 2.1,-3.4 2.2,-3.4 2.2,-3.4 2.2,-3.3 2.2,-3.3 2.2,-3.4 2.3,-3.3 2.2,-3.3 2.2,-3.3 2.3,-3.3 2.3,-3.3 2.2,-3.4 2.3,-3.3 2.2,-3.3 2.3,-3.3 2.2,-3.3 2.2,-3.4 2.2,-3.3 2.2,-3.3 2.2,-3.4 2.2,-3.3 2.2,-3.4 2.2,-3.3 2.2,-3.4 2.1,-3.4 2.2,-3.3 2.2,-3.4 2.2,-3.4 2.2,-3.3 2.1,-3.4 2.2,-3.3 2.2,-3.4 2.2,-3.3 2.2,-3.4 2.2,-3.4 2.2,-3.3 2.2,-3.3 2.2,-3.4 2.2,-3.3 2.3,-3.3 2.2,-3.3 2.3,-3.3 2.3,-3.3 2.2,-3.3 2.4,-3.3 2.3,-3.2 2.3,-3.3 2.4,-3.2 2.4,-3.3 2.4,-3.2 2.4,-3.2 2.4,-3.2 2.4,-3.2 2.4,-3.2 2.3,-3.2 2.4,-3.2 2.4,-3.3 2.3,-3.3 2.3,-3.2 2.2,-3.3 2.2,-3.4 2.2,-3.3 2.2,-3.4 2.1,-3.4 2,-3.5 2.1,-3.4 1.9,-3.5 2,-3.5 1.9,-3.5 1.8,-3.6 1.8,-3.6 1.8,-3.5 1.8,-3.6 1.7,-3.7 1.7,-3.6 1.7,-3.6 1.6,-3.7 1.7,-3.6 1.6,-3.7 1.6,-3.6 1.6,-3.7 1.7,-3.7 1.5,-3.6 1.6,-3.7 1.6,-3.7 1.6,-3.7 1.6,-3.6 1.6,-3.7 1.6,-3.7 1.6,-3.7 1.6,-3.6 1.6,-3.7 1.6,-3.7 1.6,-3.6 1.7,-3.7 1.6,-3.6 1.7,-3.7 1.7,-3.6 1.7,-3.6 1.7,-3.7 1.7,-3.6 1.8,-3.6 1.7,-3.6 1.8,-3.5 1.9,-3.6 1.8,-3.6 1.9,-3.5 2,-3.5 1.9,-3.5 2.1,-3.4 2,-3.5 2.2,-3.4 2.1,-3.3 2.3,-3.3 2.3,-3.3 2.5,-3.1 2.5,-3.1 2.7,-3 2.9,-2.8 3.1,-2.5 3.4,-2.1 3.7,-1.4 4,-0.4 3.9,1 3.5,1.9 3,2.7 2.5,3 2.3,3.3 2.1,3.5 1.8,3.5 1.7,3.7 1.6,3.6 1.5,3.8 1.4,3.7 1.3,3.8 1.3,3.8 1.2,3.8 1.2,3.8 1.1,3.9 1.2,3.8 1,3.9 1.1,3.8 1,3.9 1,3.9 1,3.8 1,3.9 1,3.9 0.9,3.9 0.9,3.9 0.9,3.9 0.9,3.9 0.9,3.9 0.9,3.9 0.9,3.9 0.8,4 0.9,3.9 0.8,3.9 0.8,3.9 0.8,3.9 0.9,3.9 0.8,4 0.8,3.9 0.8,3.9 0.8,3.9 0.8,4 0.8,3.9 0.8,3.9 0.8,3.9 0.8,3.9 0.9,4 0.8,3.9 0.8,3.9 0.9,3.9 0.9,3.9 0.8,3.9 0.9,3.9 1,3.9 0.9,3.9 1,3.9 1,3.9 1.1,3.8 1.1,3.9 1.1,3.8 1.2,3.9 1.2,3.8 1.3,3.8 1.4,3.7 1.3,3.8 1.4,3.8 1.4,3.7 1.5,3.7 1.4,3.8 1.4,3.7 1.4,3.8 1.4,3.7 1.4,3.8 1.3,3.8 1.4,3.7 1.3,3.8 1.2,3.8 1.3,3.8 1.2,3.8 1.2,3.9 1.2,3.8 1.1,3.8 1.1,3.9 1.1,3.8 1.1,3.9 1,3.9 1,3.8 1,3.9 1,3.9 1,3.9 1,3.9 0.9,3.9 1,3.9 0.9,3.9 0.9,3.9 0.9,3.9 0.9,3.9 0.9,3.9 0.9,3.9 0.9,3.9 0.9,3.9 0.8,3.9 0.9,3.9 0.9,3.9 0.9,3.9 0.8,3.9 0.9,3.9 0.8,3.9 0.9,4 0.9,3.9 0.8,3.9 0.9,3.9 0.8,3.9 0.9,3.9 0.9,3.9 0.8,3.9 0.9,3.9 0.9,4 0.8,3.9 0.9,3.9 0.9,3.9 0.9,3.9 0.9,3.9 0.9,3.9 0.9,3.9 0.9,3.9 0.9,3.9 1,3.9 0.9,3.9 0.9,3.9 0.9,3.9 1,3.9 0.9,3.9 0.9,3.9 1,3.9 0.9,3.9 0.9,3.9 0.9,3.8 0.9,3.9 0.9,4 0.9,3.9 0.9,3.9 0.9,3.9 0.9,3.9 0.8,3.9 0.9,3.9 0.9,3.9 0.8,3.9 0.8,3.9 0.8,4 0.9,3.9 0.8,3.9 0.7,3.9 0.8,4 0.8,3.9 0.7,3.9 0.8,4 0.7,3.9 0.8,3.9 0.7,4 0.7,3.9 0.7,4 0.7,3.9 0.7,4 0.7,3.9 0.6,3.9 0.7,4 0.7,3.9 0.7,4 0.6,3.9 0.7,4 0.7,3.9 0.6,4 0.7,3.9 0.7,4 0.6,3.9 0.7,4 0.7,3.9 0.7,4 0.7,3.9 0.6,4 0.7,3.9 0.7,4 0.7,3.9 0.7,3.9 0.8,4 0.7,3.9 0.7,4 0.8,3.9 0.7,3.9 0.8,3.9 0.8,4 0.8,3.9 0.9,3.9 0.8,3.9 0.9,3.9 0.9,3.9 1,3.9 1,3.9 1,3.9 1,3.8 1.2,3.9 1.1,3.8 1.2,3.8 1.3,3.8 1.4,3.8 1.4,3.7 1.5,3.7 1.6,3.7 1.7,3.6 1.9,3.6 2,3.5 2.1,3.3 2.3,3.3 2.5,3.2 2.7,2.9 2.8,2.9 3,2.7 3,2.6 3.1,2.6 3,2.5 3,2.7 3,2.7 3,2.7 2.9,2.7 2.9,2.8 2.8,2.8 2.9,2.8 2.8,2.9 2.8,2.9 2.7,2.9 2.8,2.9 2.7,2.9 2.7,2.9 2.7,3 2.7,3 2.7,2.9 2.7,3 2.6,3 2.7,3 2.6,3 2.6,3.1 2.7,3 2.6,3 2.6,3 2.7,3 2.6,3.1 2.6,3 2.7,3 2.6,3 2.7,3 2.7,3 2.6,2.9 2.7,3 2.7,2.9 2.8,3 2.7,2.9 2.8,2.9 2.8,2.8 2.8,2.9 2.9,2.8 2.9,2.7 2.9,2.8 3,2.7 3,2.6 3,2.6 3.1,2.5 3.2,2.5 3.2,2.4 3.3,2.3 3.3,2.2 3.4,2.1 3.5,2 3.6,1.8 3.6,1.7 3.7,1.5 3.8,1.3 3.9,1 3.9,0.8 4,0.5 4,0.2" stroke="#D95319"/>
<path d="M270.5,2341.8l3,-2.6 2.9,-2.8 2.7,-3 2.5,-3.1 2.4,-3.2 2.2,-3.3 2.2,-3.4 2,-3.4 2,-3.5 1.9,-3.5 1.8,-3.6 1.8,-3.6 1.7,-3.6 1.7,-3.7 1.6,-3.6 1.5,-3.7 1.6,-3.7 1.4,-3.7 1.5,-3.8 1.4,-3.7 1.4,-3.8 1.3,-3.7 1.3,-3.8 1.3,-3.8 1.3,-3.8 1.3,-3.8 1.2,-3.8 1.2,-3.9 1.2,-3.8 1.1,-3.8 1.2,-3.8 1.1,-3.9 1.1,-3.8 1.1,-3.9 1,-3.9 1.1,-3.8 1,-3.9 1.1,-3.8 1,-3.9 1,-3.9 1,-3.9 1,-3.9 0.9,-3.8 1,-3.9 0.9,-3.9 1,-3.9 0.9,-3.9 0.9,-3.9 0.9,-3.9 0.9,-3.9 0.9,-3.9 0.9,-3.9 0.8,-3.9 0.9,-4 0.8,-3.9 0.9,-3.9 0.8,-3.9 0.8,-3.9 0.9,-3.9 0.8,-4 0.8,-3.9 0.8,-3.9 0.8,-3.9 0.8,-4 0.7,-3.9 0.8,-3.9 0.8,-3.9 0.7,-4 0.8,-3.9 0.8,-3.9 0.7,-4 0.8,-3.9 0.7,-3.9 0.7,-4 0.8,-3.9 0.7,-3.9 0.7,-4 0.7,-3.9 0.7,-4 0.8,-3.9 0.7,-3.9 0.7,-4 0.7,-3.9 0.7,-4 0.7,-3.9 0.7,-4 0.7,-3.9 0.6,-3.9 0.7,-4 0.7,-3.9 0.7,-4 0.7,-3.9 0.6,-4 0.7,-3.9 0.7,-4 0.6,-3.9 0.7,-4 0.7,-3.9 0.6,-4 0.7,-3.9 0.6,-4 0.7,-3.9 0.7,-4 0.6,-3.9 0.7,-4 0.6,-3.9 0.6,-4 0.7,-3.9 0.6,-4 0.7,-3.9 0.6,-4 0.6,-3.9 0.7,-4 0.6,-3.9 0.7,-4 0.6,-4 0.6,-3.9 0.6,-4 0.7,-3.9 0.6,-4 0.6,-3.9 0.7,-4 0.6,-3.9 0.6,-4 0.6,-3.9 0.6,-4 0.7,-4 0.6,-3.9 0.6,-4 0.6,-3.9 0.6,-4 0.7,-3.9 0.6,-4 0.6,-4 0.6,-3.9 0.6,-4 0.6,-3.9 0.6,-4 0.7,-3.9 0.6,-4 0.6,-3.9 0.6,-4 0.6,-4 0.6,-3.9 0.6,-4 0.6,-3.9 0.6,-4 0.7,-4 0.6,-3.9 0.6,-4 0.6,-3.9 0.6,-4 0.6,-3.9 0.6,-4 0.6,-4 0.6,-3.9 0.6,-4 0.7,-3.9 0.6,-4 0.6,-3.9 0.6,-4 0.6,-4 0.6,-3.9 0.6,-4 0.6,-3.9 0.6,-4 0.7,-3.9 0.6,-4 0.6,-4 0.6,-3.9 0.6,-4 0.6,-3.9 0.7,-4 0.6,-3.9 0.6,-4 0.6,-3.9 0.7,-4 0.6,-4 0.6,-3.9 0.6,-4 0.7,-3.9 0.6,-4 0.7,-3.9 0.6,-4 0.7,-3.9 0.6,-4 0.7,-3.9 0.7,-4 0.6,-3.9 0.7,-4 0.7,-3.9 0.7,-4 0.6,-3.9 0.7,-3.9 0.7,-4 0.8,-3.9 0.7,-4 0.7,-3.9 0.7,-3.9 0.8,-4 0.7,-3.9 0.8,-3.9 0.8,-4 0.8,-3.9 0.7,-3.9 0.9,-3.9 0.8,-4 0.8,-3.9 0.9,-3.9 0.9,-3.9 0.9,-3.9 0.9,-3.9 0.9,-3.9 1,-3.9 1,-3.8 1.1,-3.9 1,-3.9 1.1,-3.8 1.2,-3.9 1.2,-3.8 1.2,-3.8 1.3,-3.8 1.3,-3.8 1.4,-3.7 1.5,-3.7 1.5,-3.7 1.6,-3.7 1.7,-3.6 1.8,-3.6 1.9,-3.5 2.1,-3.5 2.1,-3.3 2.3,-3.3 2.5,-3.1 2.7,-3 2.8,-2.9 3,-2.7 3.1,-2.4 3.3,-2.3 3.5,-2 3.7,-1.6 3.8,-1.3 3.9,-0.8 3.9,-0.4 4.1,0 3.9,0.5 3.9,0.8 3.9,1.2 3.7,1.5 3.6,1.8 3.4,2 3.4,2.1 3.3,2.3 3.2,2.5 3,2.5 3,2.7 3,2.7 2.8,2.8 2.8,2.9 2.8,2.9 2.7,3 2.6,3 2.6,3 2.6,3.1 2.5,3.1 2.5,3.1 2.5,3.2 2.4,3.2 2.4,3.2 2.4,3.2 2.4,3.2 2.3,3.2 2.4,3.3 2.3,3.3 2.3,3.2 2.3,3.3 2.3,3.3 2.3,3.3 2.3,3.3 2.2,3.3 2.3,3.3 2.3,3.3 2.2,3.3 2.3,3.3 2.3,3.3 2.2,3.3 2.3,3.3 2.3,3.3 2.2,3.3 2.3,3.3 2.2,3.3 2.3,3.3 2.2,3.3 2.3,3.3 2.2,3.3 2.3,3.4 2.2,3.3 2.3,3.3 2.2,3.3 2.2,3.3 2.2,3.4 2.3,3.3 2.2,3.3 2.2,3.4 2.2,3.3 2.2,3.4 2.2,3.3 2.2,3.4 2.2,3.3 2.1,3.4 2.2,3.4 2.2,3.3 2.1,3.4 2.2,3.4 2.1,3.4 2.2,3.3 2.1,3.4 2.1,3.4 2.1,3.4 2.2,3.4 2.1,3.4 2.1,3.4 2.1,3.4 2,3.5 2.1,3.4 2.1,3.4 2,3.5 2.1,3.4 2,3.4 2.1,3.5 2,3.4 2,3.5 2,3.5 2,3.4 2,3.5 2,3.5 2,3.4 2,3.5 1.9,3.5 2,3.5 1.9,3.5 2,3.5 1.9,3.5 1.9,3.5 1.9,3.6 1.9,3.5 1.9,3.5 1.9,3.5 1.9,3.6 1.9,3.5 1.8,3.6 1.9,3.5 1.8,3.6 1.9,3.5 1.8,3.6 1.8,3.6 1.8,3.5 1.8,3.6 1.8,3.6 1.8,3.6 1.8,3.6 1.7,3.6 1.8,3.6 1.7,3.6 1.8,3.6 1.7,3.6 1.7,3.6 1.8,3.6 1.7,3.6 1.7,3.7 1.6,3.6 1.7,3.6 1.7,3.7 1.7,3.6 1.6,3.6 1.7,3.7 1.6,3.6 1.7,3.7 1.6,3.7 1.6,3.6 1.6,3.7 1.6,3.7 1.6,3.6 1.6,3.7 1.6,3.7 1.6,3.7 1.5,3.6 1.6,3.7 1.5,3.7 1.6,3.7 1.5,3.7 1.6,3.7 1.5,3.7 1.5,3.7 1.5,3.7 1.5,3.7 1.5,3.8 1.5,3.7 1.5,3.7 1.5,3.7 1.5,3.7 1.4,3.8 1.5,3.7 1.4,3.7 1.5,3.7 1.4,3.8 1.5,3.7 1.4,3.8 1.4,3.7 1.5,3.7 1.4,3.8 1.4,3.7 1.4,3.8 1.4,3.7 1.4,3.8 1.4,3.7 1.3,3.8 1.4,3.8 1.4,3.7 1.4,3.8 1.3,3.8 1.4,3.7 1.3,3.8 1.4,3.8 1.3,3.7 1.4,3.8 1.3,3.8 1.3,3.8 1.3,3.7 1.4,3.8 1.3,3.8 1.3,3.8 1.3,3.8 1.3,3.8 1.3,3.8 1.3,3.7 1.3,3.8 1.2,3.8 1.3,3.8 1.3,3.8 1.3,3.8 1.2,3.8 1.3,3.8 1.2,3.8 1.3,3.8 1.2,3.8 1.3,3.8 1.2,3.8 1.3,3.8 1.2,3.9 1.2,3.8 1.2,3.8 1.3,3.8 1.2,3.8 1.2,3.8 1.2,3.8 1.2,3.9 1.2,3.8 1.1,3.8 1.2,3.9 1.2,3.8 1.1,3.8 1.1,3.9 1.1,3.8 1.1,3.9 1.1,3.8 1.1,3.9 1.1,3.8 1,3.9 1.1,3.9 1,3.8 1,3.9 1,3.9 1.1,3.8 1,3.9 1,3.9 1.1,3.9 1,3.8 1,3.9 1.1,3.9 1.1,3.8 1.1,3.9 1.1,3.8 1.1,3.8 1.2,3.9 1.2,3.8 1.2,3.8 1.3,3.8 1.3,3.8 1.3,3.8 1.4,3.7 1.5,3.8 1.5,3.7 1.5,3.7 1.6,3.6 1.6,3.7 1.7,3.6 1.8,3.6 1.9,3.5 1.9,3.6 2,3.4 2.1,3.4 2.2,3.4 2.2,3.3 2.4,3.3 2.4,3.1 2.5,3.1 2.6,3.1 2.7,3 2.8,2.9 2.8,2.8 2.9,2.8 2.9,2.7 3.1,2.6 3.1,2.5 3.2,2.4 3.3,2.3 3.3,2.2 3.5,2 3.5,1.9 3.6,1.8 3.6,1.7 3.7,1.5 3.8,1.3 3.8,1.2 3.9,1 3.9,0.9 3.9,0.8 4,0.5 4,0.5 4,0.3 4,0.1 4,-0.1 4,-0.3 3.9,-0.6 4,-0.8 3.8,-1 3.8,-1.3 3.7,-1.6 3.6,-1.8 3.4,-2 3.4,-2.2 3.2,-2.4 3.1,-2.6 2.9,-2.7 2.8,-2.8 2.8,-2.9 2.6,-3.1 2.5,-3.1 2.4,-3.2 2.3,-3.2 2.3,-3.4 2.1,-3.3 2.1,-3.4 2.1,-3.5 1.9,-3.5 1.9,-3.5 1.9,-3.6 1.8,-3.5 1.8,-3.6 1.7,-3.6 1.7,-3.7 1.6,-3.6 1.6,-3.7 1.6,-3.7 1.5,-3.7 1.5,-3.7 1.5,-3.7 1.5,-3.7 1.4,-3.8 1.4,-3.7 1.4,-3.8 1.4,-3.7 1.3,-3.8 1.3,-3.8 1.3,-3.8 1.3,-3.8 1.3,-3.8 1.2,-3.8 1.3,-3.8 1.2,-3.8 1.2,-3.8 1.2,-3.8 1.2,-3.9 1.1,-3.8 1.2,-3.8 1.1,-3.9 1.1,-3.8 1.2,-3.9 1.1,-3.8 1.1,-3.8 1.1,-3.9 1.1,-3.9 1,-3.8 1.1,-3.9 1.1,-3.8 1,-3.9 1.1,-3.9 1,-3.8 1.1,-3.9 1,-3.8 1.1,-3.9 1,-3.9 1,-3.9 1,-3.8 1.1,-3.9 1,-3.9 1,-3.8 1,-3.9 1,-3.9 1,-3.9 1,-3.8 1,-3.9 1,-3.9 1,-3.9 1,-3.9 1,-3.8 1.1,-3.9 1,-3.9 1,-3.9 1,-3.8 1,-3.9 1,-3.9 1,-3.9 1,-3.8 1,-3.9 1,-3.9 1,-3.9 1,-3.8 1,-3.9 1,-3.9 1.1,-3.9 1,-3.8 1,-3.9 1,-3.9 1.1,-3.8 1,-3.9 1.1,-3.9 1,-3.8 1.1,-3.9 1,-3.9 1.1,-3.8 1.1,-3.9 1,-3.8 1.1,-3.9 1.1,-3.8 1.1,-3.9 1.1,-3.8 1.2,-3.9 1.1,-3.8 1.1,-3.9 1.2,-3.8 1.1,-3.8 1.2,-3.9 1.2,-3.8 1.2,-3.8 1.2,-3.8 1.3,-3.8 1.2,-3.8 1.3,-3.8 1.3,-3.8 1.3,-3.8 1.3,-3.8 1.4,-3.7 1.4,-3.8 1.4,-3.7 1.4,-3.8 1.5,-3.7 1.5,-3.7 1.5,-3.7 1.5,-3.7 1.6,-3.7 1.6,-3.7 1.6,-3.6 1.7,-3.7 1.7,-3.6 1.7,-3.6 1.7,-3.6 1.8,-3.6 1.7,-3.6 1.8,-3.6 1.9,-3.6 1.8,-3.5 1.9,-3.6 1.9,-3.5 1.8,-3.5 2,-3.6 1.9,-3.5 1.9,-3.5 1.9,-3.5 1.9,-3.5 2,-3.5 1.9,-3.5 1.9,-3.6 1.9,-3.5 1.9,-3.5 1.9,-3.5 1.9,-3.6 1.9,-3.5 1.8,-3.5 1.9,-3.6 1.9,-3.5 1.9,-3.5 1.9,-3.6 1.9,-3.5 1.8,-3.5 1.9,-3.6 1.9,-3.5 1.9,-3.5 1.9,-3.6 1.9,-3.5 1.9,-3.5 1.9,-3.5 1.9,-3.6 1.9,-3.5 1.9,-3.5 2,-3.5 1.9,-3.5 2,-3.5 1.9,-3.5 2,-3.5 2,-3.4 2,-3.5 2,-3.5 2,-3.4 2.1,-3.5 2,-3.4 2.1,-3.4 2.1,-3.4 2.1,-3.4 2.2,-3.4 2.1,-3.4 2.1,-3.4 2.2,-3.4 2.2,-3.3 2.1,-3.4 2.2,-3.4 2.2,-3.3 2.2,-3.4 2.2,-3.3 2.2,-3.4 2.2,-3.3 2.2,-3.4 2.2,-3.3 2.1,-3.4 2.2,-3.3 2.2,-3.4 2.2,-3.4 2.1,-3.3 2.2,-3.4 2.1,-3.4 2.1,-3.4 2.1,-3.4 2.1,-3.4 2.1,-3.4 2.1,-3.5 2,-3.4 2,-3.5 2.1,-3.4 1.9,-3.5 2,-3.5 2,-3.5 1.9,-3.5 1.9,-3.5 1.9,-3.5 1.9,-3.6 1.8,-3.5 1.8,-3.6 1.8,-3.6 1.8,-3.5 1.8,-3.6 1.7,-3.7 1.7,-3.6 1.7,-3.6 1.7,-3.6 1.7,-3.7 1.6,-3.6 1.6,-3.7 1.6,-3.7 1.6,-3.6 1.6,-3.7 1.6,-3.7 1.6,-3.7 1.5,-3.7 1.6,-3.6 1.6,-3.7 1.5,-3.7 1.6,-3.7 1.5,-3.7 1.6,-3.7 1.6,-3.7 1.6,-3.6 1.6,-3.7 1.6,-3.7 1.6,-3.6 1.6,-3.7 1.7,-3.6 1.7,-3.7 1.7,-3.6 1.7,-3.6 1.8,-3.6 1.8,-3.6 1.8,-3.5 1.9,-3.6 2,-3.4 2,-3.5 2.1,-3.4 2.2,-3.3 2.3,-3.3 2.5,-3.2 2.6,-3 2.9,-2.8 3.2,-2.4 3.5,-2 3.8,-1.1 4,0.1 3.7,1.3 3.4,2.2 2.9,2.7 2.5,3.1 2.3,3.3 2,3.5 1.9,3.5 1.7,3.6 1.6,3.7 1.5,3.7 1.5,3.7 1.3,3.8 1.3,3.8 1.2,3.8 1.2,3.9 1.1,3.8 1.1,3.8 1.1,3.9 1,3.9 1,3.9 0.9,3.9 0.9,3.8 0.9,4 0.9,3.9 0.9,3.9 0.8,3.9 0.8,3.9 0.9,3.9 0.7,3.9 0.8,4 0.8,3.9 0.8,3.9 0.7,4 0.8,3.9 0.8,3.9 0.7,4 0.8,3.9 0.7,3.9 0.8,4 0.7,3.9 0.8,3.9 0.8,3.9 0.8,4 0.7,3.9 0.8,3.9 0.8,4 0.8,3.9 0.8,3.9 0.9,3.9 0.8,3.9 0.8,3.9 0.9,4 0.8,3.9 0.9,3.9 0.9,3.9 0.8,3.9 0.9,3.9 0.9,3.9 0.9,3.9 0.9,3.9 0.9,3.9 0.9,3.9 0.8,3.9 0.9,3.9 0.9,3.9 0.9,3.9 0.9,3.9 0.9,3.9 0.9,3.9 0.9,3.9 0.9,4 0.9,3.9 0.9,3.9 0.9,3.9 1,3.9 0.9,3.9 0.9,3.9 0.9,3.9 0.9,3.9 0.9,3.8 0.9,3.9 0.9,3.9 1,3.9 0.9,3.9 0.9,3.9 0.9,3.9 0.9,3.9 1,3.9 0.9,3.9 0.9,3.9 0.9,3.9 1,3.9 0.9,3.9 0.9,3.9 1,3.9 0.9,3.9 0.9,3.9 1,3.9 0.9,3.9 0.9,3.9 1,3.9 0.9,3.8 1,3.9 0.9,3.9 0.9,3.9 1,3.9 0.9,3.9 1,3.9 0.9,3.9 0.9,3.9 1,3.9 0.9,3.9 1,3.9 0.9,3.9 0.9,3.8 1,3.9 0.9,3.9 0.9,3.9 0.9,3.9 1,3.9 0.9,3.9 0.9,3.9 0.9,3.9 0.9,3.9 0.9,3.9 0.9,3.9 0.9,3.9 0.9,3.9 0.9,3.9 0.9,3.9 0.9,3.9 0.9,3.9 0.8,4 0.9,3.9 0.9,3.9 0.8,3.9 0.9,3.9 0.8,3.9 0.9,3.9 0.8,3.9 0.8,4 0.9,3.9 0.8,3.9 0.8,3.9 0.8,3.9 0.8,4 0.8,3.9 0.8,3.9 0.8,3.9 0.8,3.9 0.8,4 0.8,3.9 0.8,3.9 0.8,4 0.8,3.9 0.7,3.9 0.8,3.9 0.8,4 0.7,3.9 0.8,3.9 0.8,4 0.7,3.9 0.8,3.9 0.7,4 0.8,3.9 0.8,3.9 0.7,3.9 0.8,4 0.7,3.9 0.8,3.9 0.7,4 0.8,3.9 0.7,3.9 0.8,4 0.7,3.9 0.8,3.9 0.7,4 0.8,3.9 0.7,3.9 0.8,4 0.8,3.9 0.7,3.9 0.8,4 0.7,3.9 0.8,3.9 0.7,4 0.8,3.9 0.8,3.9 0.7,4 0.8,3.9 0.8,3.9 0.8,3.9 0.8,4 0.7,3.9 0.8,3.9 0.9,3.9 0.8,4 0.8,3.9 0.8,3.9 0.9,3.9 0.8,3.9 0.9,3.9 0.9,3.9 0.9,3.9 1,3.9 0.9,3.9 1,3.9 1,3.9 1.1,3.8 1.1,3.9 1.1,3.8 1.3,3.8 1.3,3.8 1.4,3.8 1.5,3.7 1.7,3.6 1.9,3.5 2.2,3.4 2.4,3.1 2.7,3 3.1,2.6 3.2,2.4 3.2,2.3 3.2,2.5 3.1,2.5 3,2.7 3,2.7 2.9,2.7 2.9,2.8 2.8,2.8 2.8,2.8 2.8,2.9 2.8,2.9 2.7,2.9 2.7,3 2.7,2.9 2.7,3 2.7,3 2.7,2.9 2.7,3 2.6,3 2.7,3 2.6,3 2.7,3 2.7,3 2.7,2.9 2.6,3 2.7,3 2.8,2.9 2.7,2.9 2.7,3 2.8,2.8 2.8,2.9 2.8,2.8 2.9,2.8 2.9,2.8 2.9,2.7 3,2.7 3,2.7 3,2.6 3.1,2.6 3.1,2.5 3.2,2.4 3.2,2.4 3.3,2.3 3.3,2.2 3.4,2.2 3.4,2 3.5,2 3.6,1.8 3.6,1.7 3.7,1.6 3.7,1.4 3.8,1.3 3.9,1.1 3.9,0.9 3.9,0.7 4,0.4 4,0.3 4,0 4,-0.1 4,-0.4 3.9,-0.7 4,-0.8 3.8,-1 3.8,-1.2 3.8,-1.4 3.7,-1.6 3.6,-1.7 3.6,-1.8 3.4,-2 3.4,-2.1 3.4,-2.3 3.2,-2.3 3.2,-2.4 3.1,-2.5 3.1,-2.6 3,-2.7 2.9,-2.7 2.9,-2.8 2.8,-2.8 2.7,-2.9 2.8,-3 2.6,-3 2.6,-3 2.6,-3.1 2.5,-3.1 2.5,-3.2 2.4,-3.2 2.4,-3.2" stroke="#EDB120"/>
<path d="M270.5,2336.6l3.1,-2.4 2.9,-2.8 2.7,-3 2.4,-3.1 2.4,-3.3 2.1,-3.4 2.1,-3.4 2,-3.5 1.8,-3.5 1.8,-3.6 1.7,-3.6 1.7,-3.7 1.6,-3.6 1.6,-3.7 1.5,-3.7 1.4,-3.8 1.4,-3.7 1.4,-3.8 1.4,-3.8 1.3,-3.7 1.3,-3.8 1.2,-3.8 1.2,-3.8 1.2,-3.9 1.2,-3.8 1.2,-3.8 1.1,-3.9 1.1,-3.8 1.1,-3.9 1.1,-3.8 1.1,-3.9 1,-3.9 1,-3.8 1.1,-3.9 1,-3.9 0.9,-3.9 1,-3.8 1,-3.9 0.9,-3.9 1,-3.9 0.9,-3.9 0.9,-3.9 0.9,-3.9 0.9,-3.9 0.9,-3.9 0.9,-3.9 0.8,-3.9 0.9,-3.9 0.8,-4 0.9,-3.9 0.8,-3.9 0.8,-3.9 0.8,-3.9 0.8,-4 0.8,-3.9 0.8,-3.9 0.8,-3.9 0.8,-4 0.8,-3.9 0.7,-3.9 0.8,-4 0.7,-3.9 0.8,-3.9 0.7,-4 0.8,-3.9 0.7,-3.9 0.7,-4 0.7,-3.9 0.8,-4 0.7,-3.9 0.7,-3.9 0.7,-4 0.7,-3.9 0.6,-4 0.7,-3.9 0.7,-4 0.7,-3.9 0.7,-4 0.6,-3.9 0.7,-4 0.6,-3.9 0.7,-4 0.6,-3.9 0.7,-4 0.6,-3.9 0.7,-4 0.6,-3.9 0.6,-4 0.7,-3.9 0.6,-4 0.6,-3.9 0.6,-4 0.6,-4 0.7,-3.9 0.6,-4 0.6,-3.9 0.6,-4 0.6,-4 0.6,-3.9 0.6,-4 0.6,-3.9 0.6,-4 0.6,-4 0.6,-3.9 0.6,-4 0.6,-3.9 0.6,-4 0.6,-4 0.5,-3.9 0.6,-4 0.6,-3.9 0.6,-4 0.6,-4 0.6,-3.9 0.5,-4 0.6,-4 0.6,-3.9 0.6,-4 0.6,-3.9 0.5,-4 0.6,-4 0.6,-3.9 0.6,-4 0.6,-4 0.5,-3.9 0.6,-4 0.6,-3.9 0.6,-4 0.5,-4 0.6,-3.9 0.6,-4 0.6,-4 0.6,-3.9 0.5,-4 0.6,-3.9 0.6,-4 0.6,-4 0.6,-3.9 0.5,-4 0.6,-4 0.6,-3.9 0.6,-4 0.6,-3.9 0.6,-4 0.5,-4 0.6,-3.9 0.6,-4 0.6,-3.9 0.6,-4 0.6,-4 0.6,-3.9 0.6,-4 0.6,-3.9 0.6,-4 0.6,-4 0.6,-3.9 0.6,-4 0.6,-3.9 0.6,-4 0.6,-4 0.7,-3.9 0.6,-4 0.6,-3.9 0.6,-4 0.7,-3.9 0.6,-4 0.6,-3.9 0.7,-4 0.6,-4 0.7,-3.9 0.6,-4 0.7,-3.9 0.6,-4 0.7,-3.9 0.6,-4 0.7,-3.9 0.7,-4 0.7,-3.9 0.7,-3.9 0.7,-4 0.7,-3.9 0.7,-4 0.7,-3.9 0.7,-4 0.7,-3.9 0.8,-3.9 0.7,-4 0.7,-3.9 0.8,-3.9 0.8,-4 0.8,-3.9 0.7,-3.9 0.8,-3.9 0.8,-4 0.9,-3.9 0.8,-3.9 0.8,-3.9 0.9,-3.9 0.8,-3.9 0.9,-4 0.9,-3.9 0.9,-3.9 0.9,-3.9 1,-3.8 0.9,-3.9 1,-3.9 1,-3.9 1,-3.9 1,-3.9 1.1,-3.8 1,-3.9 1.1,-3.8 1.2,-3.9 1.1,-3.8 1.2,-3.8 1.2,-3.9 1.2,-3.8 1.3,-3.7 1.4,-3.8 1.3,-3.8 1.5,-3.7 1.5,-3.7 1.5,-3.7 1.6,-3.7 1.7,-3.6 1.8,-3.6 1.9,-3.6 2,-3.4 2.1,-3.4 2.3,-3.3 2.4,-3.2 2.6,-3 2.9,-2.8 3.1,-2.6 3.3,-2.2 3.6,-1.7 3.9,-1.2 3.9,-0.5 4,0 4,0.6 3.9,1 3.7,1.3 3.7,1.6 3.6,1.9 3.4,1.9 3.4,2.1 3.4,2.3 3.2,2.3 3.2,2.4 3.2,2.5 3,2.6 3,2.6 3,2.7 2.9,2.8 2.8,2.8 2.8,2.9 2.7,2.9 2.8,3 2.6,3 2.6,3 2.6,3 2.6,3.1 2.5,3.1 2.5,3.2 2.5,3.1 2.4,3.2 2.4,3.2 2.4,3.2 2.3,3.3 2.4,3.2 2.3,3.3 2.3,3.3 2.3,3.3 2.2,3.3 2.2,3.3 2.2,3.3 2.2,3.4 2.2,3.4 2.2,3.3 2.1,3.4 2.2,3.4 2.1,3.4 2.1,3.4 2.1,3.4 2.1,3.4 2.1,3.4 2,3.5 2.1,3.4 2,3.5 2.1,3.4 2,3.5 2,3.4 2,3.5 2,3.4 2,3.5 2,3.5 2,3.5 2,3.5 1.9,3.4 2,3.5 2,3.5 1.9,3.5 2,3.5 1.9,3.5 2,3.5 1.9,3.5 1.9,3.5 2,3.5 1.9,3.6 1.9,3.5 1.9,3.5 1.9,3.5 1.9,3.5 1.9,3.6 1.9,3.5 1.9,3.5 1.9,3.5 1.9,3.6 1.9,3.5 1.9,3.6 1.8,3.5 1.9,3.5 1.8,3.6 1.9,3.5 1.8,3.6 1.9,3.6 1.8,3.5 1.8,3.6 1.8,3.6 1.9,3.5 1.8,3.6 1.8,3.6 1.8,3.6 1.7,3.5 1.8,3.6 1.8,3.6 1.8,3.6 1.7,3.6 1.8,3.6 1.7,3.6 1.8,3.6 1.7,3.6 1.7,3.6 1.8,3.7 1.7,3.6 1.7,3.6 1.7,3.6 1.7,3.6 1.7,3.7 1.6,3.6 1.7,3.7 1.7,3.6 1.6,3.6 1.7,3.7 1.6,3.6 1.7,3.7 1.6,3.7 1.6,3.6 1.7,3.7 1.6,3.6 1.6,3.7 1.6,3.7 1.6,3.7 1.5,3.6 1.6,3.7 1.6,3.7 1.5,3.7 1.6,3.7 1.5,3.7 1.6,3.7 1.5,3.7 1.6,3.7 1.5,3.7 1.5,3.7 1.5,3.7 1.5,3.7 1.5,3.7 1.5,3.7 1.5,3.8 1.5,3.7 1.4,3.7 1.5,3.7 1.5,3.8 1.4,3.7 1.5,3.7 1.4,3.8 1.5,3.7 1.4,3.7 1.4,3.8 1.4,3.7 1.5,3.8 1.4,3.7 1.4,3.8 1.4,3.7 1.4,3.8 1.4,3.7 1.4,3.8 1.3,3.7 1.4,3.8 1.4,3.8 1.4,3.7 1.3,3.8 1.4,3.8 1.3,3.7 1.4,3.8 1.3,3.8 1.4,3.7 1.3,3.8 1.3,3.8 1.3,3.8 1.4,3.8 1.3,3.7 1.3,3.8 1.3,3.8 1.3,3.8 1.3,3.8 1.3,3.8 1.3,3.8 1.3,3.8 1.3,3.7 1.2,3.8 1.3,3.8 1.3,3.8 1.2,3.8 1.3,3.8 1.3,3.8 1.2,3.8 1.3,3.8 1.2,3.9 1.3,3.8 1.2,3.8 1.2,3.8 1.3,3.8 1.2,3.8 1.2,3.8 1.2,3.8 1.3,3.8 1.2,3.9 1.2,3.8 1.2,3.8 1.2,3.8 1.2,3.8 1.2,3.9 1.2,3.8 1.2,3.8 1.2,3.8 1.1,3.9 1.2,3.8 1.2,3.8 1.2,3.8 1.1,3.9 1.2,3.8 1.2,3.8 1.1,3.9 1.2,3.8 1.2,3.8 1.1,3.9 1.2,3.8 1.1,3.8 1.2,3.9 1.2,3.8 1.1,3.8 1.2,3.9 1.2,3.8 1.2,3.8 1.2,3.8 1.1,3.9 1.3,3.8 1.2,3.8 1.2,3.8 1.2,3.8 1.3,3.8 1.2,3.8 1.3,3.8 1.3,3.8 1.3,3.8 1.3,3.8 1.4,3.7 1.3,3.8 1.4,3.8 1.5,3.7 1.4,3.7 1.5,3.7 1.6,3.7 1.6,3.7 1.6,3.7 1.7,3.6 1.7,3.6 1.9,3.6 1.8,3.5 2,3.5 2,3.5 2.1,3.4 2.2,3.3 2.3,3.3 2.3,3.3 2.5,3.1 2.6,3.1 2.7,3 2.7,2.8 2.9,2.8 3.1,2.6 3.1,2.5 3.2,2.4 3.3,2.3 3.4,2.1 3.4,2.1 3.5,1.9 3.6,1.9 3.6,1.7 3.6,1.7 3.7,1.6 3.7,1.5 3.8,1.3 3.8,1.1 3.9,1 3.9,0.8 4,0.6 4,0.3 4,0 4,-0.2 4,-0.5 3.9,-0.7 3.9,-1.1 3.7,-1.3 3.7,-1.6 3.6,-1.9 3.4,-2 3.3,-2.2 3.2,-2.4 3.1,-2.6 3,-2.7 2.8,-2.8 2.8,-2.9 2.6,-3 2.6,-3.1 2.5,-3.2 2.3,-3.2 2.3,-3.2 2.3,-3.4 2.2,-3.3 2.1,-3.4 2,-3.5 2,-3.5 1.9,-3.5 1.9,-3.5 1.8,-3.6 1.8,-3.5 1.8,-3.6 1.7,-3.7 1.7,-3.6 1.6,-3.7 1.6,-3.6 1.6,-3.7 1.5,-3.7 1.5,-3.7 1.5,-3.8 1.4,-3.7 1.4,-3.7 1.4,-3.8 1.3,-3.8 1.3,-3.8 1.3,-3.8 1.3,-3.7 1.3,-3.9 1.2,-3.8 1.2,-3.8 1.2,-3.8 1.1,-3.9 1.2,-3.8 1.1,-3.8 1.1,-3.9 1,-3.8 1.1,-3.9 1.1,-3.9 1,-3.8 1,-3.9 1,-3.9 1,-3.9 1,-3.8 1,-3.9 1,-3.9 0.9,-3.9 1,-3.9 1,-3.9 1,-3.9 0.9,-3.8 1,-3.9 1,-3.9 0.9,-3.9 1,-3.9 1,-3.9 0.9,-3.9 1,-3.8 1,-3.9 1,-3.9 1,-3.9 1,-3.9 1,-3.8 1,-3.9 1.1,-3.9 1,-3.8 1,-3.9 1.1,-3.9 1,-3.8 1.1,-3.9 1,-3.9 1.1,-3.8 1.1,-3.9 1,-3.8 1.1,-3.9 1.1,-3.9 1.1,-3.8 1.1,-3.9 1.1,-3.8 1.1,-3.8 1.2,-3.9 1.1,-3.8 1.1,-3.9 1.2,-3.8 1.1,-3.8 1.2,-3.9 1.2,-3.8 1.1,-3.8 1.2,-3.9 1.2,-3.8 1.2,-3.8 1.2,-3.8 1.2,-3.8 1.2,-3.9 1.3,-3.8 1.2,-3.8 1.3,-3.8 1.2,-3.8 1.3,-3.8 1.2,-3.8 1.3,-3.8 1.3,-3.8 1.3,-3.8 1.3,-3.8 1.3,-3.7 1.3,-3.8 1.4,-3.8 1.3,-3.8 1.4,-3.7 1.3,-3.8 1.4,-3.8 1.4,-3.7 1.4,-3.8 1.4,-3.7 1.4,-3.8 1.4,-3.7 1.4,-3.8 1.4,-3.7 1.5,-3.8 1.4,-3.7 1.5,-3.7 1.5,-3.7 1.5,-3.8 1.5,-3.7 1.5,-3.7 1.5,-3.7 1.5,-3.7 1.5,-3.7 1.6,-3.7 1.5,-3.7 1.6,-3.7 1.6,-3.6 1.6,-3.7 1.6,-3.7 1.6,-3.7 1.6,-3.6 1.6,-3.7 1.7,-3.6 1.6,-3.7 1.7,-3.6 1.7,-3.7 1.6,-3.6 1.7,-3.6 1.7,-3.7 1.7,-3.6 1.8,-3.6 1.7,-3.6 1.7,-3.6 1.8,-3.6 1.8,-3.6 1.7,-3.6 1.8,-3.6 1.8,-3.6 1.8,-3.5 1.8,-3.6 1.8,-3.6 1.8,-3.6 1.9,-3.5 1.8,-3.6 1.8,-3.5 1.9,-3.6 1.8,-3.5 1.9,-3.6 1.9,-3.5 1.9,-3.6 1.9,-3.5 1.8,-3.5 1.9,-3.5 1.9,-3.6 1.9,-3.5 2,-3.5 1.9,-3.5 1.9,-3.5 1.9,-3.6 1.9,-3.5 2,-3.5 1.9,-3.5 1.9,-3.5 1.9,-3.5 2,-3.5 1.9,-3.5 1.9,-3.5 2,-3.5 1.9,-3.6 1.9,-3.5 2,-3.5 1.9,-3.5 1.9,-3.5 1.9,-3.5 1.9,-3.5 2,-3.5 1.9,-3.6 1.9,-3.5 1.9,-3.5 1.9,-3.5 1.9,-3.6 1.9,-3.5 1.9,-3.5 1.8,-3.6 1.9,-3.5 1.9,-3.5 1.9,-3.6 1.8,-3.5 1.9,-3.6 1.8,-3.5 1.8,-3.6 1.9,-3.6 1.8,-3.5 1.8,-3.6 1.8,-3.6 1.8,-3.6 1.8,-3.5 1.8,-3.6 1.7,-3.6 1.8,-3.6 1.8,-3.6 1.7,-3.6 1.7,-3.6 1.8,-3.6 1.7,-3.7 1.7,-3.6 1.7,-3.6 1.7,-3.6 1.6,-3.7 1.7,-3.6 1.7,-3.7 1.6,-3.6 1.7,-3.7 1.6,-3.6 1.6,-3.7 1.6,-3.7 1.6,-3.6 1.6,-3.7 1.6,-3.7 1.6,-3.7 1.5,-3.6 1.6,-3.7 1.6,-3.7 1.5,-3.7 1.6,-3.7 1.6,-3.7 1.5,-3.7 1.6,-3.6 1.6,-3.7 1.7,-3.7 1.6,-3.6 1.7,-3.7 1.7,-3.6 1.7,-3.6 1.8,-3.6 1.8,-3.6 1.8,-3.5 1.9,-3.5 2,-3.5 2.1,-3.4 2.2,-3.4 2.3,-3.3 2.4,-3.1 2.7,-3.1 2.9,-2.7 3.2,-2.4 3.6,-1.7 3.9,-0.7 3.9,0.7 3.6,1.9 3,2.6 2.6,3 2.3,3.3 2,3.5 1.9,3.5 1.7,3.6 1.6,3.7 1.5,3.7 1.4,3.8 1.3,3.8 1.3,3.8 1.2,3.8 1.2,3.8 1.1,3.8 1.1,3.9 1.1,3.9 1,3.8 1,3.9 1,3.9 1,3.9 0.9,3.9 0.9,3.9 0.9,3.9 0.9,3.9 0.9,3.9 0.9,3.9 0.9,3.9 0.8,3.9 0.8,3.9 0.9,3.9 0.8,4 0.8,3.9 0.8,3.9 0.8,3.9 0.8,4 0.7,3.9 0.8,3.9 0.8,3.9 0.7,4 0.8,3.9 0.7,4 0.7,3.9 0.8,3.9 0.7,4 0.7,3.9 0.7,3.9 0.8,4 0.7,3.9 0.7,4 0.7,3.9 0.7,4 0.7,3.9 0.7,3.9 0.7,4 0.6,3.9 0.7,4 0.7,3.9 0.7,4 0.7,3.9 0.6,4 0.7,3.9 0.7,4 0.7,3.9 0.6,4 0.7,3.9 0.7,4 0.6,3.9 0.7,3.9 0.7,4 0.6,3.9 0.7,4 0.7,3.9 0.6,4 0.7,3.9 0.6,4 0.7,3.9 0.7,4 0.6,3.9 0.7,4 0.6,3.9 0.7,4 0.7,3.9 0.6,4 0.7,3.9 0.7,4 0.6,3.9 0.7,4 0.6,3.9 0.7,4 0.7,3.9 0.6,4 0.7,3.9 0.7,4 0.6,3.9 0.7,4 0.7,3.9 0.6,4 0.7,3.9 0.7,4 0.6,3.9 0.7,4 0.7,3.9 0.6,4 0.7,3.9 0.7,4 0.7,3.9 0.6,4 0.7,3.9 0.7,4 0.7,3.9 0.7,4 0.6,3.9 0.7,3.9 0.7,4 0.7,3.9 0.7,4 0.7,3.9 0.7,4 0.6,3.9 0.7,4 0.7,3.9 0.7,4 0.7,3.9 0.7,3.9 0.7,4 0.7,3.9 0.7,4 0.8,3.9 0.7,3.9 0.7,4 0.7,3.9 0.7,4 0.7,3.9 0.7,3.9 0.8,4 0.7,3.9 0.7,4 0.8,3.9 0.7,3.9 0.7,4 0.8,3.9 0.7,3.9 0.8,4 0.7,3.9 0.8,3.9 0.7,4 0.8,3.9 0.7,3.9 0.8,4 0.8,3.9 0.8,3.9 0.7,4 0.8,3.9 0.8,3.9 0.8,3.9 0.8,4 0.8,3.9 0.8,3.9 0.8,3.9 0.8,4 0.9,3.9 0.8,3.9 0.8,3.9 0.9,3.9 0.8,3.9 0.9,3.9 0.8,4 0.9,3.9 0.9,3.9 0.9,3.9 0.9,3.9 0.8,3.9 1,3.9 0.9,3.9 0.9,3.9 0.9,3.9 1,3.9 0.9,3.9 1,3.9 0.9,3.8 1,3.9 1,3.9 1,3.9 1,3.9 1,3.8 1,3.9 1.1,3.9 1,3.8 1.1,3.9 1,3.9 1.1,3.8 1.1,3.9 1.1,3.8 1.1,3.9 1.1,3.8 1.2,3.9 1.1,3.8 1.2,3.8 1.2,3.9 1.2,3.8 1.2,3.8 1.2,3.8 1.2,3.8 1.3,3.8 1.2,3.8 1.3,3.8 1.3,3.8 1.3,3.8 1.4,3.8 1.3,3.7 1.4,3.8 1.4,3.8 1.4,3.7 1.4,3.8 1.4,3.7 1.5,3.7 1.5,3.7 1.5,3.8 1.5,3.7 1.5,3.7 1.6,3.6 1.6,3.7 1.6,3.7 1.7,3.6 1.6,3.7 1.7,3.6 1.7,3.6 1.7,3.6 1.8,3.6 1.8,3.6 1.8,3.6 1.9,3.5 1.8,3.6 1.9,3.5 2,3.5 1.9,3.5 2,3.5 2.1,3.4 2.1,3.4 2.1,3.4 2.1,3.4 2.2,3.4 2.3,3.3 2.3,3.3 2.3,3.2 2.4,3.2 2.4,3.2 2.5,3.2 2.5,3 2.6,3.1 2.7,3 2.7,2.9 2.8,2.9 2.9,2.8 2.9,2.7 3,2.7 3.1,2.5 3.1,2.5 3.3,2.4 3.3,2.3 3.3,2.1 3.5,2 3.5,1.9 3.6,1.7 3.7,1.6 3.8,1.5 3.8,1.2 3.8,1.1 3.9,0.9 4,0.6 4,0.5 4,0.3 4,0 4,-0.2 3.9,-0.3 4,-0.6 3.9,-0.8 3.9,-1 3.9,-1.1 3.7,-1.3 3.8,-1.5 3.6,-1.7 3.6,-1.7 3.5,-1.9 3.5,-2.1 3.4,-2.1 3.3,-2.2 3.3,-2.3 3.1,-2.5 3.2,-2.5 3.1,-2.5 3,-2.7 2.9,-2.6 2.9,-2.8 2.9,-2.8 2.8,-2.9 2.8,-2.9 2.7,-2.9 2.6,-3 2.7,-3 2.5,-3.1 2.6,-3.1 2.5,-3.1 2.5,-3.2 2.4,-3.2 2.4,-3.2 2.4,-3.2 2.3,-3.2 2.3,-3.3 2.3,-3.3 2.2,-3.3 2.2,-3.4 2.2,-3.3 2.2,-3.4 2.1,-3.4 2.1,-3.4 2.1,-3.4 2.1,-3.4 2,-3.5 2.1,-3.4 2,-3.5 1.9,-3.5 2,-3.5 2,-3.5 1.9,-3.5 2,-3.5 1.9,-3.5 1.9,-3.5 1.9,-3.5 1.9,-3.6 1.9,-3.5 1.8,-3.5 1.9,-3.6 1.9,-3.5 1.8,-3.6 1.9,-3.5 1.8,-3.6 1.9,-3.5 1.8,-3.6 1.9,-3.5 1.8,-3.6 1.8,-3.5 1.9,-3.6 1.8,-3.6 1.9,-3.5 1.8,-3.6 1.8,-3.5 1.9,-3.6 1.9,-3.5 1.8,-3.6 1.9,-3.5 1.9,-3.5 1.8,-3.6 1.9,-3.5 1.9,-3.5 1.9,-3.6 1.9,-3.5 2,-3.5 1.9,-3.5 2,-3.5 1.9,-3.5 2,-3.5 2,-3.4 2,-3.5" stroke="#7E2F8E"/>
<path d="M270.5,2331.5l3,-2.6 2.8,-2.9 2.5,-3.1 2.3,-3.2 2.2,-3.4 2,-3.4 2,-3.5 1.8,-3.6 1.7,-3.6 1.7,-3.7 1.6,-3.6 1.6,-3.7 1.5,-3.7 1.4,-3.8 1.4,-3.7 1.4,-3.8 1.3,-3.8 1.3,-3.7 1.2,-3.9 1.3,-3.8 1.2,-3.8 1.2,-3.8 1.1,-3.8 1.1,-3.9 1.2,-3.8 1,-3.9 1.1,-3.8 1.1,-3.9 1,-3.9 1,-3.8 1,-3.9 1,-3.9 1,-3.9 1,-3.9 0.9,-3.9 0.9,-3.9 1,-3.9 0.9,-3.9 0.9,-3.9 0.9,-3.9 0.9,-3.9 0.8,-3.9 0.9,-3.9 0.8,-3.9 0.9,-3.9 0.8,-3.9 0.8,-3.9 0.9,-4 0.8,-3.9 0.8,-3.9 0.8,-3.9 0.8,-4 0.7,-3.9 0.8,-3.9 0.8,-4 0.7,-3.9 0.8,-3.9 0.7,-3.9 0.8,-4 0.7,-3.9 0.7,-4 0.8,-3.9 0.7,-3.9 0.7,-4 0.7,-3.9 0.7,-4 0.7,-3.9 0.7,-3.9 0.7,-4 0.7,-3.9 0.7,-4 0.7,-3.9 0.6,-4 0.7,-3.9 0.7,-4 0.6,-3.9 0.7,-4 0.6,-3.9 0.7,-4 0.6,-3.9 0.7,-4 0.6,-3.9 0.6,-4 0.7,-3.9 0.6,-4 0.6,-4 0.6,-3.9 0.6,-4 0.7,-3.9 0.6,-4 0.6,-3.9 0.6,-4 0.6,-4 0.6,-3.9 0.6,-4 0.6,-3.9 0.6,-4 0.6,-4 0.6,-3.9 0.6,-4 0.6,-3.9 0.6,-4 0.5,-4 0.6,-3.9 0.6,-4 0.6,-3.9 0.6,-4 0.6,-4 0.5,-3.9 0.6,-4 0.6,-4 0.6,-3.9 0.5,-4 0.6,-3.9 0.6,-4 0.6,-4 0.5,-3.9 0.6,-4 0.6,-4 0.6,-3.9 0.5,-4 0.6,-3.9 0.6,-4 0.6,-4 0.5,-3.9 0.6,-4 0.6,-4 0.5,-3.9 0.6,-4 0.6,-4 0.6,-3.9 0.5,-4 0.6,-3.9 0.6,-4 0.6,-4 0.5,-3.9 0.6,-4 0.6,-4 0.6,-3.9 0.6,-4 0.5,-3.9 0.6,-4 0.6,-4 0.6,-3.9 0.6,-4 0.6,-3.9 0.5,-4 0.6,-4 0.6,-3.9 0.6,-4 0.6,-4 0.6,-3.9 0.6,-4 0.6,-3.9 0.6,-4 0.6,-3.9 0.6,-4 0.6,-4 0.7,-3.9 0.6,-4 0.6,-3.9 0.6,-4 0.6,-3.9 0.7,-4 0.6,-4 0.6,-3.9 0.7,-4 0.6,-3.9 0.7,-4 0.6,-3.9 0.7,-4 0.6,-3.9 0.7,-4 0.7,-3.9 0.6,-4 0.7,-3.9 0.7,-4 0.7,-3.9 0.7,-3.9 0.7,-4 0.7,-3.9 0.7,-4 0.7,-3.9 0.8,-3.9 0.7,-4 0.8,-3.9 0.7,-3.9 0.8,-4 0.8,-3.9 0.8,-3.9 0.8,-3.9 0.8,-4 0.8,-3.9 0.8,-3.9 0.9,-3.9 0.9,-3.9 0.8,-3.9 0.9,-3.9 0.9,-3.9 0.9,-3.9 1,-3.9 0.9,-3.9 1,-3.9 1,-3.9 1,-3.9 1,-3.8 1.1,-3.9 1,-3.9 1.1,-3.8 1.2,-3.8 1.1,-3.9 1.2,-3.8 1.2,-3.8 1.3,-3.8 1.3,-3.8 1.3,-3.8 1.4,-3.8 1.4,-3.7 1.5,-3.7 1.5,-3.7 1.6,-3.7 1.7,-3.6 1.8,-3.6 1.8,-3.5 2,-3.5 2.1,-3.4 2.3,-3.4 2.4,-3.2 2.6,-3 2.8,-2.9 3,-2.6 3.3,-2.2 3.6,-1.8 3.8,-1.2 4,-0.6 4,0 3.9,0.7 3.8,1.1 3.7,1.6 3.6,1.8 3.4,2.1 3.3,2.2 3.2,2.4 3.2,2.5 3,2.6 2.9,2.8 2.9,2.8 2.8,2.8 2.7,3 2.7,2.9 2.6,3.1 2.6,3 2.5,3.2 2.5,3.1 2.4,3.2 2.4,3.2 2.4,3.2 2.3,3.2 2.4,3.3 2.2,3.3 2.3,3.3 2.2,3.3 2.3,3.4 2.2,3.3 2.1,3.4 2.2,3.3 2.2,3.4 2.1,3.4 2.1,3.4 2.1,3.4 2.1,3.4 2.1,3.4 2.1,3.4 2.1,3.5 2,3.4 2.1,3.5 2,3.4 2,3.5 2,3.4 2,3.5 1.9,3.5 2,3.5 2,3.5 1.9,3.5 1.9,3.5 1.9,3.5 1.9,3.5 1.9,3.6 1.9,3.5 1.9,3.6 1.8,3.5 1.9,3.6 1.8,3.5 1.9,3.6 1.8,3.5 1.8,3.6 1.8,3.6 1.8,3.6 1.7,3.6 1.8,3.6 1.8,3.6 1.7,3.6 1.7,3.6 1.8,3.6 1.7,3.6 1.7,3.6 1.7,3.7 1.7,3.6 1.7,3.6 1.7,3.6 1.6,3.7 1.7,3.6 1.7,3.7 1.6,3.6 1.7,3.7 1.6,3.6 1.7,3.7 1.6,3.6 1.6,3.7 1.7,3.6 1.6,3.7 1.6,3.6 1.7,3.7 1.6,3.7 1.6,3.6 1.6,3.7 1.6,3.7 1.6,3.6 1.6,3.7 1.6,3.7 1.6,3.6 1.6,3.7 1.6,3.7 1.6,3.7 1.6,3.6 1.6,3.7 1.6,3.7 1.6,3.6 1.6,3.7 1.6,3.7 1.6,3.7 1.6,3.6 1.6,3.7 1.6,3.7 1.6,3.6 1.6,3.7 1.6,3.7 1.6,3.6 1.6,3.7 1.6,3.7 1.7,3.6 1.6,3.7 1.6,3.7 1.6,3.6 1.6,3.7 1.6,3.7 1.6,3.6 1.6,3.7 1.6,3.7 1.7,3.6 1.6,3.7 1.6,3.7 1.6,3.7 1.6,3.6 1.5,3.7 1.6,3.7 1.6,3.7 1.6,3.6 1.6,3.7 1.5,3.7 1.6,3.7 1.5,3.7 1.6,3.7 1.5,3.7 1.6,3.7 1.5,3.7 1.5,3.7 1.6,3.7 1.5,3.7 1.5,3.7 1.5,3.7 1.5,3.7 1.4,3.7 1.5,3.8 1.5,3.7 1.4,3.7 1.5,3.8 1.4,3.7 1.4,3.7 1.5,3.8 1.4,3.7 1.4,3.8 1.4,3.7 1.4,3.8 1.3,3.8 1.4,3.7 1.4,3.8 1.3,3.8 1.4,3.7 1.3,3.8 1.3,3.8 1.3,3.8 1.3,3.7 1.3,3.8 1.3,3.8 1.3,3.8 1.3,3.8 1.2,3.8 1.3,3.8 1.2,3.8 1.3,3.8 1.2,3.9 1.2,3.8 1.2,3.8 1.2,3.8 1.2,3.8 1.2,3.9 1.2,3.8 1.1,3.8 1.2,3.8 1.1,3.9 1.2,3.8 1.1,3.9 1.1,3.8 1.2,3.8 1.1,3.9 1.1,3.8 1.1,3.9 1.1,3.8 1.1,3.9 1.1,3.8 1.1,3.9 1.1,3.8 1.1,3.9 1,3.9 1.1,3.8 1.1,3.9 1.1,3.8 1.1,3.9 1.1,3.8 1.1,3.9 1.1,3.8 1,3.9 1.1,3.8 1.1,3.9 1.1,3.8 1.1,3.9 1.2,3.8 1.1,3.9 1.1,3.8 1.1,3.9 1.2,3.8 1.1,3.8 1.2,3.9 1.1,3.8 1.2,3.8 1.2,3.9 1.2,3.8 1.2,3.8 1.2,3.8 1.2,3.8 1.3,3.8 1.2,3.8 1.3,3.8 1.3,3.8 1.2,3.8 1.4,3.8 1.3,3.8 1.3,3.8 1.4,3.7 1.4,3.8 1.4,3.7 1.4,3.8 1.5,3.7 1.5,3.7 1.5,3.7 1.6,3.7 1.5,3.7 1.7,3.6 1.6,3.7 1.8,3.6 1.7,3.6 1.8,3.6 1.9,3.5 2,3.5 2,3.5 2.1,3.4 2.2,3.3 2.2,3.3 2.4,3.3 2.4,3.1 2.6,3.1 2.7,3 2.8,2.8 2.9,2.8 3,2.6 3.2,2.4 3.3,2.3 3.4,2.1 3.6,1.9 3.6,1.7 3.7,1.5 3.8,1.3 3.8,1.1 3.9,1 3.9,0.8 4,0.8 3.9,0.6 4,0.6 3.9,0.4 4,0.3 4,0.1 4,-0.1 4,-0.3 4,-0.5 3.9,-0.8 3.9,-1.1 3.8,-1.3 3.6,-1.6 3.6,-1.8 3.4,-2.1 3.3,-2.3 3.2,-2.4 3.1,-2.6 2.9,-2.7 2.8,-2.9 2.7,-3 2.5,-3.1 2.5,-3.1 2.4,-3.2 2.2,-3.3 2.2,-3.4 2.2,-3.4 2,-3.4 2,-3.5 1.9,-3.5 1.9,-3.6 1.8,-3.5 1.7,-3.6 1.7,-3.6 1.7,-3.7 1.6,-3.7 1.6,-3.6 1.5,-3.7 1.5,-3.7 1.5,-3.8 1.4,-3.7 1.4,-3.8 1.4,-3.7 1.4,-3.8 1.3,-3.8 1.3,-3.8 1.2,-3.8 1.3,-3.8 1.2,-3.8 1.2,-3.8 1.2,-3.8 1.2,-3.9 1.1,-3.8 1.1,-3.8 1.2,-3.9 1.1,-3.8 1.1,-3.9 1.1,-3.8 1,-3.9 1.1,-3.9 1.1,-3.8 1,-3.9 1.1,-3.8 1,-3.9 1,-3.9 1.1,-3.8 1,-3.9 1.1,-3.9 1,-3.8 1,-3.9 1.1,-3.9 1,-3.9 1,-3.8 1.1,-3.9 1,-3.9 1,-3.8 1.1,-3.9 1,-3.9 1.1,-3.8 1,-3.9 1.1,-3.8 1,-3.9 1.1,-3.9 1.1,-3.8 1,-3.9 1.1,-3.8 1.1,-3.9 1,-3.9 1.1,-3.8 1.1,-3.9 1.1,-3.8 1.1,-3.9 1,-3.8 1.1,-3.9 1.1,-3.8 1.1,-3.9 1.1,-3.8 1.1,-3.9 1.1,-3.8 1.2,-3.9 1.1,-3.8 1.1,-3.9 1.1,-3.8 1.2,-3.9 1.1,-3.8 1.1,-3.8 1.2,-3.9 1.1,-3.8 1.2,-3.9 1.1,-3.8 1.2,-3.8 1.2,-3.9 1.1,-3.8 1.2,-3.8 1.2,-3.8 1.2,-3.9 1.2,-3.8 1.2,-3.8 1.2,-3.8 1.2,-3.8 1.2,-3.8 1.3,-3.9 1.2,-3.8 1.2,-3.8 1.3,-3.8 1.2,-3.8 1.3,-3.8 1.3,-3.8 1.3,-3.8 1.2,-3.8 1.3,-3.8 1.3,-3.7 1.4,-3.8 1.3,-3.8 1.3,-3.8 1.4,-3.7 1.3,-3.8 1.4,-3.8 1.3,-3.7 1.4,-3.8 1.4,-3.8 1.4,-3.7 1.4,-3.8 1.4,-3.7 1.5,-3.7 1.4,-3.8 1.5,-3.7 1.4,-3.7 1.5,-3.8 1.5,-3.7 1.4,-3.7 1.5,-3.7 1.6,-3.7 1.5,-3.7 1.5,-3.7 1.5,-3.7 1.6,-3.7 1.5,-3.7 1.6,-3.7 1.6,-3.7 1.6,-3.7 1.6,-3.6 1.6,-3.7 1.6,-3.7 1.6,-3.6 1.6,-3.7 1.7,-3.7 1.6,-3.6 1.7,-3.6 1.6,-3.7 1.7,-3.6 1.7,-3.7 1.7,-3.6 1.7,-3.6 1.7,-3.6 1.7,-3.7 1.7,-3.6 1.7,-3.6 1.8,-3.6 1.7,-3.6 1.8,-3.6 1.7,-3.6 1.8,-3.6 1.7,-3.6 1.8,-3.6 1.8,-3.6 1.7,-3.6 1.8,-3.6 1.8,-3.6 1.8,-3.5 1.8,-3.6 1.7,-3.6 1.8,-3.6 1.8,-3.6 1.8,-3.6 1.8,-3.5 1.8,-3.6 1.8,-3.6 1.8,-3.6 1.8,-3.6 1.8,-3.5 1.8,-3.6 1.8,-3.6 1.8,-3.6 1.8,-3.6 1.7,-3.5 1.8,-3.6 1.8,-3.6 1.8,-3.6 1.7,-3.6 1.8,-3.6 1.8,-3.6 1.7,-3.6 1.8,-3.6 1.7,-3.6 1.7,-3.6 1.8,-3.6 1.7,-3.6 1.7,-3.7 1.7,-3.6 1.7,-3.6 1.7,-3.6 1.7,-3.7 1.7,-3.6 1.7,-3.6 1.6,-3.7 1.7,-3.6 1.6,-3.7 1.6,-3.6 1.7,-3.7 1.6,-3.7 1.6,-3.6 1.6,-3.7 1.6,-3.7 1.6,-3.6 1.5,-3.7 1.6,-3.7 1.6,-3.7 1.5,-3.7 1.5,-3.7 1.6,-3.7 1.5,-3.7 1.5,-3.7 1.6,-3.7 1.5,-3.7 1.5,-3.7 1.5,-3.7 1.5,-3.7 1.6,-3.7 1.5,-3.7 1.5,-3.7 1.5,-3.7 1.6,-3.7 1.5,-3.7 1.6,-3.7 1.5,-3.7 1.6,-3.7 1.6,-3.7 1.6,-3.7 1.6,-3.6 1.6,-3.7 1.6,-3.7 1.6,-3.6 1.7,-3.6 1.7,-3.7 1.7,-3.6 1.7,-3.6 1.8,-3.6 1.8,-3.6 1.8,-3.5 1.9,-3.6 1.9,-3.5 2.1,-3.4 2,-3.5 2.2,-3.3 2.4,-3.3 2.4,-3.1 2.7,-3 3,-2.7 3.3,-2.2 3.7,-1.5 4,-0.2 3.8,1.3 3.3,2.2 2.8,2.9 2.4,3.2 2.1,3.4 2,3.5 1.8,3.5 1.6,3.7 1.5,3.7 1.5,3.7 1.3,3.8 1.3,3.8 1.3,3.8 1.2,3.8 1.1,3.9 1.1,3.8 1.1,3.9 1,3.8 1,3.9 0.9,3.9 1,3.9 0.9,3.9 0.9,3.9 0.8,3.9 0.9,3.9 0.8,3.9 0.9,4 0.8,3.9 0.8,3.9 0.8,3.9 0.7,4 0.8,3.9 0.8,3.9 0.7,3.9 0.8,4 0.7,3.9 0.8,4 0.7,3.9 0.7,3.9 0.7,4 0.8,3.9 0.7,3.9 0.7,4 0.7,3.9 0.7,4 0.8,3.9 0.7,3.9 0.7,4 0.7,3.9 0.7,4 0.7,3.9 0.7,3.9 0.8,4 0.7,3.9 0.7,4 0.7,3.9 0.8,3.9 0.7,4 0.7,3.9 0.8,3.9 0.7,4 0.7,3.9 0.8,4 0.7,3.9 0.8,3.9 0.7,4 0.7,3.9 0.8,3.9 0.8,4 0.7,3.9 0.8,3.9 0.7,4 0.8,3.9 0.7,3.9 0.8,3.9 0.8,4 0.8,3.9 0.7,3.9 0.8,4 0.8,3.9 0.8,3.9 0.7,4 0.8,3.9 0.8,3.9 0.8,3.9 0.8,4 0.8,3.9 0.8,3.9 0.7,3.9 0.8,4 0.8,3.9 0.8,3.9 0.8,3.9 0.8,4 0.8,3.9 0.8,3.9 0.9,3.9 0.8,3.9 0.8,4 0.8,3.9 0.8,3.9 0.8,3.9 0.8,4 0.8,3.9 0.8,3.9 0.8,3.9 0.8,3.9 0.8,4 0.8,3.9 0.8,3.9 0.8,3.9 0.8,4 0.8,3.9 0.7,3.9 0.8,4 0.8,3.9 0.8,3.9 0.7,3.9 0.8,4 0.8,3.9 0.7,3.9 0.8,4 0.7,3.9 0.8,3.9 0.7,4 0.7,3.9 0.8,3.9 0.7,4 0.7,3.9 0.7,4 0.7,3.9 0.7,3.9 0.8,4 0.7,3.9 0.6,4 0.7,3.9 0.7,4 0.7,3.9 0.7,4 0.7,3.9 0.7,3.9 0.7,4 0.7,3.9 0.7,4 0.7,3.9 0.7,3.9 0.7,4 0.8,3.9 0.7,4 0.7,3.9 0.8,3.9 0.7,4 0.7,3.9 0.8,3.9 0.7,4 0.8,3.9 0.7,3.9 0.8,4 0.8,3.9 0.8,3.9 0.8,4 0.7,3.9 0.8,3.9 0.8,3.9 0.8,4 0.9,3.9 0.8,3.9 0.8,3.9 0.8,3.9 0.9,3.9 0.8,4 0.9,3.9 0.9,3.9 0.8,3.9 0.9,3.9 0.9,3.9 0.9,3.9 0.9,3.9 0.9,3.9 0.9,3.9 1,3.9 0.9,3.9 0.9,3.9 1,3.9 1,3.9 1,3.8 0.9,3.9 1,3.9 1.1,3.9 1,3.8 1,3.9 1.1,3.9 1,3.8 1.1,3.9 1.1,3.8 1.1,3.9 1.2,3.8 1.1,3.9 1.2,3.8 1.1,3.8 1.2,3.8 1.2,3.9 1.3,3.8 1.2,3.8 1.3,3.8 1.3,3.8 1.3,3.7 1.4,3.8 1.4,3.8 1.4,3.7 1.4,3.7 1.5,3.8 1.5,3.7 1.5,3.7 1.6,3.6 1.7,3.7 1.6,3.6 1.8,3.7 1.7,3.5 1.9,3.6 1.8,3.6 2,3.5 2,3.4 2,3.5 2.1,3.4 2.2,3.3 2.3,3.3 2.3,3.3 2.3,3.2 2.5,3.2 2.5,3.1 2.5,3.1 2.7,3 2.6,3 2.8,3 2.7,2.9 2.8,2.8 2.9,2.9 2.8,2.8 2.9,2.8 2.8,2.8 2.9,2.8 2.9,2.8 2.8,2.8 2.9,2.7 2.9,2.8 2.9,2.8 2.9,2.7 3,2.7 3,2.7 2.9,2.7 3,2.6 3.1,2.6 3,2.6 3.1,2.5 3.2,2.5 3.2,2.5 3.2,2.3 3.3,2.3 3.3,2.3 3.4,2.1 3.4,2.1 3.5,2 3.5,1.8 3.7,1.7 3.7,1.6 3.7,1.3 3.8,1.3 3.9,1 3.9,0.8 4,0.6 4,0.3 4,0 4,-0.2 3.9,-0.4 4,-0.8 3.8,-1 3.8,-1.3 3.7,-1.5 3.7,-1.7 3.5,-2 3.4,-2.1 3.3,-2.3 3.1,-2.4 3.1,-2.6 3,-2.6 2.9,-2.8 2.8,-2.9 2.7,-2.9 2.6,-3.1 2.5,-3.1 2.5,-3.1 2.4,-3.2 2.3,-3.3 2.3,-3.3 2.2,-3.3 2.2,-3.4 2.1,-3.4 2,-3.4 2,-3.5 2,-3.5 1.9,-3.5 1.9,-3.6 1.8,-3.5 1.8,-3.6 1.8,-3.6 1.8,-3.6 1.7,-3.6 1.7,-3.6 1.7,-3.6 1.6,-3.7 1.7,-3.6 1.6,-3.7 1.7,-3.6 1.6,-3.7 1.6,-3.7 1.6,-3.6 1.6,-3.7 1.6,-3.7 1.6,-3.7 1.6,-3.6 1.6,-3.7 1.6,-3.7 1.5,-3.7 1.6,-3.6 1.7,-3.7 1.6,-3.7 1.6,-3.6 1.6,-3.7 1.7,-3.6 1.6,-3.7 1.7,-3.6 1.7,-3.7 1.7,-3.6 1.7,-3.6 1.7,-3.6 1.8,-3.6 1.7,-3.6 1.8,-3.6 1.8,-3.6 1.8,-3.5 1.8,-3.6 1.9,-3.6 1.8,-3.5 1.9,-3.6 1.8,-3.5 1.9,-3.6 1.9,-3.5 1.8,-3.5 1.9,-3.6 1.9,-3.5 1.9,-3.5 1.9,-3.6 1.8,-3.5 1.9,-3.5 1.9,-3.6 1.9,-3.5 1.9,-3.6 1.8,-3.5 1.9,-3.5 1.9,-3.6 1.8,-3.5 1.9,-3.6 1.8,-3.5 1.9,-3.6 1.8,-3.6 1.8,-3.5 1.8,-3.6 1.8,-3.6 1.8,-3.5 1.8,-3.6 1.8,-3.6 1.8,-3.6 1.7,-3.6 1.8,-3.6 1.7,-3.6 1.8,-3.6 1.7,-3.6 1.7,-3.6 1.7,-3.7 1.7,-3.6 1.7,-3.6 1.7,-3.7 1.6,-3.6 1.7,-3.7 1.6,-3.6 1.6,-3.7 1.7,-3.6 1.6,-3.7 1.5,-3.7 1.6,-3.7 1.6,-3.7 1.5,-3.6 1.6,-3.7 1.5,-3.7 1.5,-3.7 1.6,-3.7 1.5,-3.8 1.4,-3.7 1.5,-3.7 1.5,-3.7 1.4,-3.8 1.5,-3.7" stroke="#77AC30"/>
</g>
<rect x="386.0" y="2038.0" width="465.2" height="358.7" fill="#fff" stroke="#3a3a3a" stroke-width="3.2"/>
<path d="M445.2,2080.4H620.9" stroke="#0072BD" stroke-width="7" fill="none"/>
<path d="M445.2,2149.1H620.9" stroke="#D95319" stroke-width="7" fill="none"/>
<path d="M445.2,2217.8H620.9" stroke="#EDB120" stroke-width="7" fill="none"/>
<path d="M445.2,2286.4H620.9" stroke="#7E2F8E" stroke-width="7" fill="none"/>
<path d="M445.2,2355.2H620.9" stroke="#77AC30" stroke-width="7" fill="none"/>
<g font-family='"Liberation Sans", Arial, Helvetica, sans-serif' font-weight="700" font-size="52.5" fill="#111">
<text x="633.2" y="2101.7" xml:space="preserve">ε = 6</text>
<text x="633.2" y="2170.4" xml:space="preserve">ε = 6.8</text>
<text x="633.2" y="2239.1" xml:space="preserve">ε = 7.6</text>
<text x="633.2" y="2307.7" xml:space="preserve">ε = 8.4</text>
<text x="633.2" y="2376.5" xml:space="preserve">ε = 9.2</text>
</g>
<g font-family='"Liberation Sans", Arial, Helvetica, sans-serif' font-weight="700" fill="#262626">
<g font-size="60" text-anchor="end">
<text x="247.6" y="2468.7">0</text>
<text x="247.6" y="2255.7">0.2</text>
<text x="247.6" y="2042.6">0.4</text>
<text x="247.6" y="1829.6">0.6</text>
<text x="247.6" y="1616.5">0.8</text>
<text x="247.6" y="1403.5">1</text>
</g>
<g font-size="60" text-anchor="middle">
<text x="270.6" y="2529.6">1</text>
<text x="470.6" y="2529.6">3</text>
<text x="670.6" y="2529.6">5</text>
<text x="870.7" y="2529.6">7</text>
<text x="1070.7" y="2529.6">9</text>
<text x="1270.7" y="2529.6">11</text>
<text x="1470.7" y="2529.6">13</text>
<text x="1670.8" y="2529.6">15</text>
<text x="1870.8" y="2529.6">17</text>
<text x="2070.8" y="2529.6">19</text>
</g>
<text x="1171.7" y="2614.1" font-size="64.6" text-anchor="middle">Frequency(GHz)</text>
<text transform="translate(133.8,1913.4) rotate(-90)" font-size="65.8" text-anchor="middle">Absorptivity</text>
</g>
<text x="14.3" y="1428.6" font-family='"Liberation Serif", "Times New Roman", serif' font-size="120" fill="#000">(b)</text>
</g>
</svg></body></html>
